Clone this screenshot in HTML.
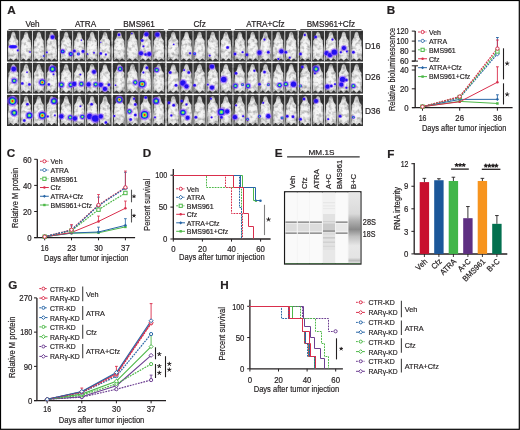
<!DOCTYPE html>
<html><head><meta charset="utf-8"><style>html,body{margin:0;padding:0;background:#fff;overflow:hidden;}svg{display:block;will-change:transform;}text{font-family:"Liberation Sans",sans-serif;fill:#231f20;stroke:#231f20;stroke-width:0.2px;}</style></head><body>
<svg width="520" height="430" viewBox="0 0 520 430">
<text x="7.30" y="14.40" font-size="11.7" font-weight="bold">A</text>
<defs><radialGradient id="mg" cx="0.5" cy="0.58" r="0.6" fx="0.5" fy="0.55"><stop offset="0" stop-color="#fbfbfb"/><stop offset="0.55" stop-color="#eeeeee"/><stop offset="0.82" stop-color="#d2d2d2"/><stop offset="1" stop-color="#9c9c9c"/></radialGradient></defs>
<text x="32.50" y="27.00" font-size="8.2" text-anchor="middle">Veh</text>
<line x1="8.50" y1="29.50" x2="56.50" y2="29.50" stroke="#555" stroke-width="1"/>
<rect x="7.00" y="30.80" width="51.00" height="30.70" fill="#3a3a3a"/>
<path d="M13.38,31.72 C13.76,31.72 14.19,31.93 14.52,32.34 C14.85,32.74 15.12,33.41 15.35,34.18 C15.59,34.94 15.65,36.12 15.93,36.94 C16.20,37.76 16.62,38.42 17.01,39.09 C17.40,39.75 18.09,40.16 18.28,40.93 C18.48,41.70 18.09,42.57 18.16,43.69 C18.22,44.82 18.56,46.25 18.67,47.69 C18.77,49.12 18.83,50.91 18.79,52.29 C18.76,53.67 18.44,54.90 18.48,55.97 C18.51,57.05 19.05,58.05 18.98,58.74 C18.92,59.43 18.54,60.17 18.09,60.12 C17.65,60.07 16.84,58.56 16.31,58.43 C15.78,58.30 15.33,59.02 14.90,59.35 C14.48,59.68 14.08,60.25 13.76,60.43 C13.44,60.60 13.31,60.60 12.99,60.43 C12.67,60.25 12.27,59.68 11.85,59.35 C11.42,59.02 10.97,58.30 10.44,58.43 C9.91,58.56 9.10,60.07 8.66,60.12 C8.21,60.17 7.83,59.43 7.76,58.74 C7.70,58.05 8.24,57.05 8.27,55.97 C8.31,54.90 7.99,53.67 7.96,52.29 C7.92,50.91 7.98,49.12 8.08,47.69 C8.19,46.25 8.53,44.82 8.59,43.69 C8.66,42.57 8.27,41.70 8.47,40.93 C8.66,40.16 9.35,39.75 9.74,39.09 C10.13,38.42 10.55,37.76 10.82,36.94 C11.10,36.12 11.16,34.94 11.40,34.18 C11.63,33.41 11.90,32.74 12.23,32.34 C12.56,31.93 12.99,31.72 13.38,31.72Z" fill="url(#mg)"/>
<path d="M26.12,31.72 C26.51,31.72 26.94,31.93 27.27,32.34 C27.60,32.74 27.87,33.41 28.10,34.18 C28.34,34.94 28.40,36.12 28.68,36.94 C28.95,37.76 29.37,38.42 29.76,39.09 C30.15,39.75 30.84,40.16 31.03,40.93 C31.23,41.70 30.84,42.57 30.91,43.69 C30.97,44.82 31.31,46.25 31.42,47.69 C31.52,49.12 31.58,50.91 31.54,52.29 C31.51,53.67 31.19,54.90 31.23,55.97 C31.26,57.05 31.80,58.05 31.73,58.74 C31.67,59.43 31.29,60.17 30.84,60.12 C30.40,60.07 29.59,58.56 29.06,58.43 C28.53,58.30 28.08,59.02 27.66,59.35 C27.23,59.68 26.83,60.25 26.51,60.43 C26.19,60.60 26.06,60.60 25.74,60.43 C25.42,60.25 25.02,59.68 24.59,59.35 C24.17,59.02 23.72,58.30 23.19,58.43 C22.66,58.56 21.85,60.07 21.41,60.12 C20.96,60.17 20.58,59.43 20.52,58.74 C20.45,58.05 20.99,57.05 21.02,55.97 C21.06,54.90 20.74,53.67 20.71,52.29 C20.67,50.91 20.73,49.12 20.83,47.69 C20.94,46.25 21.28,44.82 21.34,43.69 C21.41,42.57 21.02,41.70 21.22,40.93 C21.41,40.16 22.10,39.75 22.49,39.09 C22.88,38.42 23.30,37.76 23.57,36.94 C23.85,36.12 23.91,34.94 24.15,34.18 C24.38,33.41 24.65,32.74 24.98,32.34 C25.31,31.93 25.74,31.72 26.12,31.72Z" fill="url(#mg)"/>
<path d="M38.88,31.72 C39.26,31.72 39.69,31.93 40.02,32.34 C40.35,32.74 40.62,33.41 40.85,34.18 C41.09,34.94 41.15,36.12 41.42,36.94 C41.70,37.76 42.12,38.42 42.51,39.09 C42.90,39.75 43.59,40.16 43.78,40.93 C43.97,41.70 43.59,42.57 43.66,43.69 C43.72,44.82 44.06,46.25 44.17,47.69 C44.27,49.12 44.33,50.91 44.29,52.29 C44.26,53.67 43.94,54.90 43.98,55.97 C44.01,57.05 44.55,58.05 44.48,58.74 C44.42,59.43 44.04,60.17 43.59,60.12 C43.15,60.07 42.34,58.56 41.81,58.43 C41.28,58.30 40.83,59.02 40.41,59.35 C39.98,59.68 39.58,60.25 39.26,60.43 C38.94,60.60 38.81,60.60 38.49,60.43 C38.17,60.25 37.77,59.68 37.34,59.35 C36.92,59.02 36.47,58.30 35.94,58.43 C35.41,58.56 34.60,60.07 34.16,60.12 C33.71,60.17 33.33,59.43 33.27,58.74 C33.20,58.05 33.74,57.05 33.77,55.97 C33.81,54.90 33.49,53.67 33.46,52.29 C33.42,50.91 33.48,49.12 33.58,47.69 C33.69,46.25 34.03,44.82 34.09,43.69 C34.16,42.57 33.78,41.70 33.97,40.93 C34.16,40.16 34.85,39.75 35.24,39.09 C35.63,38.42 36.05,37.76 36.33,36.94 C36.60,36.12 36.66,34.94 36.90,34.18 C37.13,33.41 37.40,32.74 37.73,32.34 C38.06,31.93 38.49,31.72 38.88,31.72Z" fill="url(#mg)"/>
<path d="M51.62,31.72 C52.01,31.72 52.44,31.93 52.77,32.34 C53.10,32.74 53.37,33.41 53.60,34.18 C53.84,34.94 53.90,36.12 54.17,36.94 C54.45,37.76 54.87,38.42 55.26,39.09 C55.65,39.75 56.34,40.16 56.53,40.93 C56.72,41.70 56.34,42.57 56.41,43.69 C56.47,44.82 56.81,46.25 56.92,47.69 C57.02,49.12 57.08,50.91 57.04,52.29 C57.01,53.67 56.69,54.90 56.73,55.97 C56.76,57.05 57.30,58.05 57.23,58.74 C57.17,59.43 56.79,60.17 56.34,60.12 C55.90,60.07 55.09,58.56 54.56,58.43 C54.03,58.30 53.58,59.02 53.16,59.35 C52.73,59.68 52.33,60.25 52.01,60.43 C51.69,60.60 51.56,60.60 51.24,60.43 C50.92,60.25 50.52,59.68 50.09,59.35 C49.67,59.02 49.22,58.30 48.69,58.43 C48.16,58.56 47.35,60.07 46.91,60.12 C46.46,60.17 46.08,59.43 46.02,58.74 C45.95,58.05 46.49,57.05 46.52,55.97 C46.56,54.90 46.24,53.67 46.21,52.29 C46.17,50.91 46.23,49.12 46.33,47.69 C46.44,46.25 46.78,44.82 46.84,43.69 C46.91,42.57 46.53,41.70 46.72,40.93 C46.91,40.16 47.60,39.75 47.99,39.09 C48.38,38.42 48.80,37.76 49.08,36.94 C49.35,36.12 49.41,34.94 49.65,34.18 C49.88,33.41 50.15,32.74 50.48,32.34 C50.81,31.93 51.24,31.72 51.62,31.72Z" fill="url(#mg)"/>
<rect x="7.00" y="63.00" width="51.00" height="30.60" fill="#3a3a3a"/>
<path d="M13.38,63.92 C13.76,63.92 14.19,64.12 14.52,64.53 C14.85,64.94 15.12,65.60 15.35,66.37 C15.59,67.13 15.65,68.30 15.93,69.12 C16.20,69.94 16.62,70.60 17.01,71.26 C17.40,71.92 18.09,72.33 18.28,73.10 C18.48,73.86 18.09,74.73 18.16,75.85 C18.22,76.97 18.56,78.40 18.67,79.83 C18.77,81.26 18.83,83.04 18.79,84.42 C18.76,85.80 18.44,87.02 18.48,88.09 C18.51,89.16 19.05,90.16 18.98,90.85 C18.92,91.53 18.54,92.27 18.09,92.22 C17.65,92.17 16.84,90.67 16.31,90.54 C15.78,90.41 15.33,91.13 14.90,91.46 C14.48,91.79 14.08,92.35 13.76,92.53 C13.44,92.71 13.31,92.71 12.99,92.53 C12.67,92.35 12.27,91.79 11.85,91.46 C11.42,91.13 10.97,90.41 10.44,90.54 C9.91,90.67 9.10,92.17 8.66,92.22 C8.21,92.27 7.83,91.53 7.76,90.85 C7.70,90.16 8.24,89.16 8.27,88.09 C8.31,87.02 7.99,85.80 7.96,84.42 C7.92,83.04 7.98,81.26 8.08,79.83 C8.19,78.40 8.53,76.97 8.59,75.85 C8.66,74.73 8.27,73.86 8.47,73.10 C8.66,72.33 9.35,71.92 9.74,71.26 C10.13,70.60 10.55,69.94 10.82,69.12 C11.10,68.30 11.16,67.13 11.40,66.37 C11.63,65.60 11.90,64.94 12.23,64.53 C12.56,64.12 12.99,63.92 13.38,63.92Z" fill="url(#mg)"/>
<path d="M26.12,63.92 C26.51,63.92 26.94,64.12 27.27,64.53 C27.60,64.94 27.87,65.60 28.10,66.37 C28.34,67.13 28.40,68.30 28.68,69.12 C28.95,69.94 29.37,70.60 29.76,71.26 C30.15,71.92 30.84,72.33 31.03,73.10 C31.23,73.86 30.84,74.73 30.91,75.85 C30.97,76.97 31.31,78.40 31.42,79.83 C31.52,81.26 31.58,83.04 31.54,84.42 C31.51,85.80 31.19,87.02 31.23,88.09 C31.26,89.16 31.80,90.16 31.73,90.85 C31.67,91.53 31.29,92.27 30.84,92.22 C30.40,92.17 29.59,90.67 29.06,90.54 C28.53,90.41 28.08,91.13 27.66,91.46 C27.23,91.79 26.83,92.35 26.51,92.53 C26.19,92.71 26.06,92.71 25.74,92.53 C25.42,92.35 25.02,91.79 24.59,91.46 C24.17,91.13 23.72,90.41 23.19,90.54 C22.66,90.67 21.85,92.17 21.41,92.22 C20.96,92.27 20.58,91.53 20.52,90.85 C20.45,90.16 20.99,89.16 21.02,88.09 C21.06,87.02 20.74,85.80 20.71,84.42 C20.67,83.04 20.73,81.26 20.83,79.83 C20.94,78.40 21.28,76.97 21.34,75.85 C21.41,74.73 21.02,73.86 21.22,73.10 C21.41,72.33 22.10,71.92 22.49,71.26 C22.88,70.60 23.30,69.94 23.57,69.12 C23.85,68.30 23.91,67.13 24.15,66.37 C24.38,65.60 24.65,64.94 24.98,64.53 C25.31,64.12 25.74,63.92 26.12,63.92Z" fill="url(#mg)"/>
<path d="M38.88,63.92 C39.26,63.92 39.69,64.12 40.02,64.53 C40.35,64.94 40.62,65.60 40.85,66.37 C41.09,67.13 41.15,68.30 41.42,69.12 C41.70,69.94 42.12,70.60 42.51,71.26 C42.90,71.92 43.59,72.33 43.78,73.10 C43.97,73.86 43.59,74.73 43.66,75.85 C43.72,76.97 44.06,78.40 44.17,79.83 C44.27,81.26 44.33,83.04 44.29,84.42 C44.26,85.80 43.94,87.02 43.98,88.09 C44.01,89.16 44.55,90.16 44.48,90.85 C44.42,91.53 44.04,92.27 43.59,92.22 C43.15,92.17 42.34,90.67 41.81,90.54 C41.28,90.41 40.83,91.13 40.41,91.46 C39.98,91.79 39.58,92.35 39.26,92.53 C38.94,92.71 38.81,92.71 38.49,92.53 C38.17,92.35 37.77,91.79 37.34,91.46 C36.92,91.13 36.47,90.41 35.94,90.54 C35.41,90.67 34.60,92.17 34.16,92.22 C33.71,92.27 33.33,91.53 33.27,90.85 C33.20,90.16 33.74,89.16 33.77,88.09 C33.81,87.02 33.49,85.80 33.46,84.42 C33.42,83.04 33.48,81.26 33.58,79.83 C33.69,78.40 34.03,76.97 34.09,75.85 C34.16,74.73 33.78,73.86 33.97,73.10 C34.16,72.33 34.85,71.92 35.24,71.26 C35.63,70.60 36.05,69.94 36.33,69.12 C36.60,68.30 36.66,67.13 36.90,66.37 C37.13,65.60 37.40,64.94 37.73,64.53 C38.06,64.12 38.49,63.92 38.88,63.92Z" fill="url(#mg)"/>
<path d="M51.62,63.92 C52.01,63.92 52.44,64.12 52.77,64.53 C53.10,64.94 53.37,65.60 53.60,66.37 C53.84,67.13 53.90,68.30 54.17,69.12 C54.45,69.94 54.87,70.60 55.26,71.26 C55.65,71.92 56.34,72.33 56.53,73.10 C56.72,73.86 56.34,74.73 56.41,75.85 C56.47,76.97 56.81,78.40 56.92,79.83 C57.02,81.26 57.08,83.04 57.04,84.42 C57.01,85.80 56.69,87.02 56.73,88.09 C56.76,89.16 57.30,90.16 57.23,90.85 C57.17,91.53 56.79,92.27 56.34,92.22 C55.90,92.17 55.09,90.67 54.56,90.54 C54.03,90.41 53.58,91.13 53.16,91.46 C52.73,91.79 52.33,92.35 52.01,92.53 C51.69,92.71 51.56,92.71 51.24,92.53 C50.92,92.35 50.52,91.79 50.09,91.46 C49.67,91.13 49.22,90.41 48.69,90.54 C48.16,90.67 47.35,92.17 46.91,92.22 C46.46,92.27 46.08,91.53 46.02,90.85 C45.95,90.16 46.49,89.16 46.52,88.09 C46.56,87.02 46.24,85.80 46.21,84.42 C46.17,83.04 46.23,81.26 46.33,79.83 C46.44,78.40 46.78,76.97 46.84,75.85 C46.91,74.73 46.53,73.86 46.72,73.10 C46.91,72.33 47.60,71.92 47.99,71.26 C48.38,70.60 48.80,69.94 49.08,69.12 C49.35,68.30 49.41,67.13 49.65,66.37 C49.88,65.60 50.15,64.94 50.48,64.53 C50.81,64.12 51.24,63.92 51.62,63.92Z" fill="url(#mg)"/>
<rect x="7.00" y="95.00" width="51.00" height="31.00" fill="#3a3a3a"/>
<path d="M13.38,95.93 C13.76,95.93 14.19,96.14 14.52,96.55 C14.85,96.96 15.12,97.63 15.35,98.41 C15.59,99.19 15.65,100.37 15.93,101.20 C16.20,102.03 16.62,102.70 17.01,103.37 C17.40,104.04 18.09,104.46 18.28,105.23 C18.48,106.00 18.09,106.88 18.16,108.02 C18.22,109.16 18.56,110.60 18.67,112.05 C18.77,113.50 18.83,115.31 18.79,116.70 C18.76,118.09 18.44,119.34 18.48,120.42 C18.51,121.50 19.05,122.51 18.98,123.21 C18.92,123.91 18.54,124.66 18.09,124.61 C17.65,124.55 16.84,123.03 16.31,122.90 C15.78,122.77 15.33,123.49 14.90,123.83 C14.48,124.17 14.08,124.73 13.76,124.91 C13.44,125.10 13.31,125.10 12.99,124.91 C12.67,124.73 12.27,124.17 11.85,123.83 C11.42,123.49 10.97,122.77 10.44,122.90 C9.91,123.03 9.10,124.55 8.66,124.61 C8.21,124.66 7.83,123.91 7.76,123.21 C7.70,122.51 8.24,121.50 8.27,120.42 C8.31,119.34 7.99,118.09 7.96,116.70 C7.92,115.31 7.98,113.50 8.08,112.05 C8.19,110.60 8.53,109.16 8.59,108.02 C8.66,106.88 8.27,106.00 8.47,105.23 C8.66,104.46 9.35,104.04 9.74,103.37 C10.13,102.70 10.55,102.03 10.82,101.20 C11.10,100.37 11.16,99.19 11.40,98.41 C11.63,97.63 11.90,96.96 12.23,96.55 C12.56,96.14 12.99,95.93 13.38,95.93Z" fill="url(#mg)"/>
<path d="M26.12,95.93 C26.51,95.93 26.94,96.14 27.27,96.55 C27.60,96.96 27.87,97.63 28.10,98.41 C28.34,99.19 28.40,100.37 28.68,101.20 C28.95,102.03 29.37,102.70 29.76,103.37 C30.15,104.04 30.84,104.46 31.03,105.23 C31.23,106.00 30.84,106.88 30.91,108.02 C30.97,109.16 31.31,110.60 31.42,112.05 C31.52,113.50 31.58,115.31 31.54,116.70 C31.51,118.09 31.19,119.34 31.23,120.42 C31.26,121.50 31.80,122.51 31.73,123.21 C31.67,123.91 31.29,124.66 30.84,124.61 C30.40,124.55 29.59,123.03 29.06,122.90 C28.53,122.77 28.08,123.49 27.66,123.83 C27.23,124.17 26.83,124.73 26.51,124.91 C26.19,125.10 26.06,125.10 25.74,124.91 C25.42,124.73 25.02,124.17 24.59,123.83 C24.17,123.49 23.72,122.77 23.19,122.90 C22.66,123.03 21.85,124.55 21.41,124.61 C20.96,124.66 20.58,123.91 20.52,123.21 C20.45,122.51 20.99,121.50 21.02,120.42 C21.06,119.34 20.74,118.09 20.71,116.70 C20.67,115.31 20.73,113.50 20.83,112.05 C20.94,110.60 21.28,109.16 21.34,108.02 C21.41,106.88 21.02,106.00 21.22,105.23 C21.41,104.46 22.10,104.04 22.49,103.37 C22.88,102.70 23.30,102.03 23.57,101.20 C23.85,100.37 23.91,99.19 24.15,98.41 C24.38,97.63 24.65,96.96 24.98,96.55 C25.31,96.14 25.74,95.93 26.12,95.93Z" fill="url(#mg)"/>
<path d="M38.88,95.93 C39.26,95.93 39.69,96.14 40.02,96.55 C40.35,96.96 40.62,97.63 40.85,98.41 C41.09,99.19 41.15,100.37 41.42,101.20 C41.70,102.03 42.12,102.70 42.51,103.37 C42.90,104.04 43.59,104.46 43.78,105.23 C43.97,106.00 43.59,106.88 43.66,108.02 C43.72,109.16 44.06,110.60 44.17,112.05 C44.27,113.50 44.33,115.31 44.29,116.70 C44.26,118.09 43.94,119.34 43.98,120.42 C44.01,121.50 44.55,122.51 44.48,123.21 C44.42,123.91 44.04,124.66 43.59,124.61 C43.15,124.55 42.34,123.03 41.81,122.90 C41.28,122.77 40.83,123.49 40.41,123.83 C39.98,124.17 39.58,124.73 39.26,124.91 C38.94,125.10 38.81,125.10 38.49,124.91 C38.17,124.73 37.77,124.17 37.34,123.83 C36.92,123.49 36.47,122.77 35.94,122.90 C35.41,123.03 34.60,124.55 34.16,124.61 C33.71,124.66 33.33,123.91 33.27,123.21 C33.20,122.51 33.74,121.50 33.77,120.42 C33.81,119.34 33.49,118.09 33.46,116.70 C33.42,115.31 33.48,113.50 33.58,112.05 C33.69,110.60 34.03,109.16 34.09,108.02 C34.16,106.88 33.78,106.00 33.97,105.23 C34.16,104.46 34.85,104.04 35.24,103.37 C35.63,102.70 36.05,102.03 36.33,101.20 C36.60,100.37 36.66,99.19 36.90,98.41 C37.13,97.63 37.40,96.96 37.73,96.55 C38.06,96.14 38.49,95.93 38.88,95.93Z" fill="url(#mg)"/>
<path d="M51.62,95.93 C52.01,95.93 52.44,96.14 52.77,96.55 C53.10,96.96 53.37,97.63 53.60,98.41 C53.84,99.19 53.90,100.37 54.17,101.20 C54.45,102.03 54.87,102.70 55.26,103.37 C55.65,104.04 56.34,104.46 56.53,105.23 C56.72,106.00 56.34,106.88 56.41,108.02 C56.47,109.16 56.81,110.60 56.92,112.05 C57.02,113.50 57.08,115.31 57.04,116.70 C57.01,118.09 56.69,119.34 56.73,120.42 C56.76,121.50 57.30,122.51 57.23,123.21 C57.17,123.91 56.79,124.66 56.34,124.61 C55.90,124.55 55.09,123.03 54.56,122.90 C54.03,122.77 53.58,123.49 53.16,123.83 C52.73,124.17 52.33,124.73 52.01,124.91 C51.69,125.10 51.56,125.10 51.24,124.91 C50.92,124.73 50.52,124.17 50.09,123.83 C49.67,123.49 49.22,122.77 48.69,122.90 C48.16,123.03 47.35,124.55 46.91,124.61 C46.46,124.66 46.08,123.91 46.02,123.21 C45.95,122.51 46.49,121.50 46.52,120.42 C46.56,119.34 46.24,118.09 46.21,116.70 C46.17,115.31 46.23,113.50 46.33,112.05 C46.44,110.60 46.78,109.16 46.84,108.02 C46.91,106.88 46.53,106.00 46.72,105.23 C46.91,104.46 47.60,104.04 47.99,103.37 C48.38,102.70 48.80,102.03 49.08,101.20 C49.35,100.37 49.41,99.19 49.65,98.41 C49.88,97.63 50.15,96.96 50.48,96.55 C50.81,96.14 51.24,95.93 51.62,95.93Z" fill="url(#mg)"/>
<text x="85.60" y="27.00" font-size="8.2" text-anchor="middle">ATRA</text>
<line x1="61.20" y1="29.50" x2="110.00" y2="29.50" stroke="#555" stroke-width="1"/>
<rect x="59.70" y="30.80" width="51.80" height="30.70" fill="#3a3a3a"/>
<path d="M66.17,31.72 C66.56,31.72 67.01,31.93 67.34,32.34 C67.68,32.74 67.94,33.41 68.18,34.18 C68.42,34.94 68.48,36.12 68.77,36.94 C69.05,37.76 69.47,38.42 69.87,39.09 C70.27,39.75 70.97,40.16 71.16,40.93 C71.35,41.70 70.97,42.57 71.03,43.69 C71.10,44.82 71.44,46.25 71.55,47.69 C71.66,49.12 71.71,50.91 71.68,52.29 C71.65,53.67 71.32,54.90 71.35,55.97 C71.39,57.05 71.94,58.05 71.87,58.74 C71.81,59.43 71.42,60.17 70.97,60.12 C70.51,60.07 69.69,58.56 69.15,58.43 C68.61,58.30 68.16,59.02 67.73,59.35 C67.30,59.68 66.89,60.25 66.56,60.43 C66.24,60.60 66.11,60.60 65.79,60.43 C65.46,60.25 65.05,59.68 64.62,59.35 C64.19,59.02 63.74,58.30 63.20,58.43 C62.66,58.56 61.84,60.07 61.38,60.12 C60.93,60.17 60.54,59.43 60.48,58.74 C60.41,58.05 60.96,57.05 60.99,55.97 C61.03,54.90 60.70,53.67 60.67,52.29 C60.64,50.91 60.69,49.12 60.80,47.69 C60.91,46.25 61.25,44.82 61.32,43.69 C61.38,42.57 61.00,41.70 61.19,40.93 C61.38,40.16 62.08,39.75 62.48,39.09 C62.88,38.42 63.30,37.76 63.58,36.94 C63.87,36.12 63.93,34.94 64.17,34.18 C64.41,33.41 64.67,32.74 65.01,32.34 C65.34,31.93 65.79,31.72 66.17,31.72Z" fill="url(#mg)"/>
<path d="M79.12,31.72 C79.51,31.72 79.96,31.93 80.29,32.34 C80.63,32.74 80.89,33.41 81.13,34.18 C81.37,34.94 81.43,36.12 81.72,36.94 C82.00,37.76 82.42,38.42 82.82,39.09 C83.22,39.75 83.92,40.16 84.11,40.93 C84.30,41.70 83.92,42.57 83.98,43.69 C84.05,44.82 84.39,46.25 84.50,47.69 C84.61,49.12 84.66,50.91 84.63,52.29 C84.60,53.67 84.27,54.90 84.31,55.97 C84.34,57.05 84.89,58.05 84.82,58.74 C84.76,59.43 84.37,60.17 83.92,60.12 C83.46,60.07 82.64,58.56 82.10,58.43 C81.56,58.30 81.11,59.02 80.68,59.35 C80.25,59.68 79.84,60.25 79.51,60.43 C79.19,60.60 79.06,60.60 78.74,60.43 C78.41,60.25 78.00,59.68 77.57,59.35 C77.14,59.02 76.69,58.30 76.15,58.43 C75.61,58.56 74.79,60.07 74.33,60.12 C73.88,60.17 73.49,59.43 73.43,58.74 C73.36,58.05 73.91,57.05 73.94,55.97 C73.98,54.90 73.65,53.67 73.62,52.29 C73.59,50.91 73.64,49.12 73.75,47.69 C73.86,46.25 74.20,44.82 74.27,43.69 C74.33,42.57 73.95,41.70 74.14,40.93 C74.33,40.16 75.03,39.75 75.43,39.09 C75.83,38.42 76.25,37.76 76.53,36.94 C76.82,36.12 76.88,34.94 77.12,34.18 C77.36,33.41 77.62,32.74 77.96,32.34 C78.29,31.93 78.74,31.72 79.12,31.72Z" fill="url(#mg)"/>
<path d="M92.07,31.72 C92.46,31.72 92.91,31.93 93.24,32.34 C93.58,32.74 93.84,33.41 94.08,34.18 C94.32,34.94 94.38,36.12 94.66,36.94 C94.95,37.76 95.37,38.42 95.77,39.09 C96.17,39.75 96.87,40.16 97.06,40.93 C97.25,41.70 96.87,42.57 96.93,43.69 C97.00,44.82 97.34,46.25 97.45,47.69 C97.56,49.12 97.61,50.91 97.58,52.29 C97.55,53.67 97.22,54.90 97.25,55.97 C97.29,57.05 97.84,58.05 97.77,58.74 C97.71,59.43 97.32,60.17 96.87,60.12 C96.41,60.07 95.59,58.56 95.05,58.43 C94.51,58.30 94.06,59.02 93.63,59.35 C93.20,59.68 92.79,60.25 92.46,60.43 C92.14,60.60 92.01,60.60 91.69,60.43 C91.36,60.25 90.95,59.68 90.52,59.35 C90.09,59.02 89.64,58.30 89.10,58.43 C88.56,58.56 87.74,60.07 87.28,60.12 C86.83,60.17 86.44,59.43 86.38,58.74 C86.31,58.05 86.86,57.05 86.89,55.97 C86.93,54.90 86.60,53.67 86.57,52.29 C86.54,50.91 86.59,49.12 86.70,47.69 C86.81,46.25 87.15,44.82 87.22,43.69 C87.28,42.57 86.89,41.70 87.09,40.93 C87.28,40.16 87.98,39.75 88.38,39.09 C88.78,38.42 89.20,37.76 89.48,36.94 C89.77,36.12 89.83,34.94 90.07,34.18 C90.31,33.41 90.57,32.74 90.91,32.34 C91.24,31.93 91.69,31.72 92.07,31.72Z" fill="url(#mg)"/>
<path d="M105.02,31.72 C105.41,31.72 105.86,31.93 106.19,32.34 C106.53,32.74 106.79,33.41 107.03,34.18 C107.27,34.94 107.33,36.12 107.61,36.94 C107.90,37.76 108.32,38.42 108.72,39.09 C109.12,39.75 109.82,40.16 110.01,40.93 C110.20,41.70 109.82,42.57 109.88,43.69 C109.95,44.82 110.29,46.25 110.40,47.69 C110.51,49.12 110.56,50.91 110.53,52.29 C110.50,53.67 110.17,54.90 110.20,55.97 C110.24,57.05 110.79,58.05 110.72,58.74 C110.66,59.43 110.27,60.17 109.82,60.12 C109.36,60.07 108.54,58.56 108.00,58.43 C107.46,58.30 107.01,59.02 106.58,59.35 C106.15,59.68 105.74,60.25 105.41,60.43 C105.09,60.60 104.96,60.60 104.64,60.43 C104.31,60.25 103.90,59.68 103.47,59.35 C103.04,59.02 102.59,58.30 102.05,58.43 C101.51,58.56 100.69,60.07 100.23,60.12 C99.78,60.17 99.39,59.43 99.33,58.74 C99.26,58.05 99.81,57.05 99.84,55.97 C99.88,54.90 99.55,53.67 99.52,52.29 C99.49,50.91 99.54,49.12 99.65,47.69 C99.76,46.25 100.10,44.82 100.17,43.69 C100.23,42.57 99.84,41.70 100.04,40.93 C100.23,40.16 100.93,39.75 101.33,39.09 C101.73,38.42 102.15,37.76 102.43,36.94 C102.72,36.12 102.78,34.94 103.02,34.18 C103.26,33.41 103.52,32.74 103.86,32.34 C104.19,31.93 104.64,31.72 105.02,31.72Z" fill="url(#mg)"/>
<rect x="59.70" y="63.00" width="51.80" height="30.60" fill="#3a3a3a"/>
<path d="M66.17,63.92 C66.56,63.92 67.01,64.12 67.34,64.53 C67.68,64.94 67.94,65.60 68.18,66.37 C68.42,67.13 68.48,68.30 68.77,69.12 C69.05,69.94 69.47,70.60 69.87,71.26 C70.27,71.92 70.97,72.33 71.16,73.10 C71.35,73.86 70.97,74.73 71.03,75.85 C71.10,76.97 71.44,78.40 71.55,79.83 C71.66,81.26 71.71,83.04 71.68,84.42 C71.65,85.80 71.32,87.02 71.35,88.09 C71.39,89.16 71.94,90.16 71.87,90.85 C71.81,91.53 71.42,92.27 70.97,92.22 C70.51,92.17 69.69,90.67 69.15,90.54 C68.61,90.41 68.16,91.13 67.73,91.46 C67.30,91.79 66.89,92.35 66.56,92.53 C66.24,92.71 66.11,92.71 65.79,92.53 C65.46,92.35 65.05,91.79 64.62,91.46 C64.19,91.13 63.74,90.41 63.20,90.54 C62.66,90.67 61.84,92.17 61.38,92.22 C60.93,92.27 60.54,91.53 60.48,90.85 C60.41,90.16 60.96,89.16 60.99,88.09 C61.03,87.02 60.70,85.80 60.67,84.42 C60.64,83.04 60.69,81.26 60.80,79.83 C60.91,78.40 61.25,76.97 61.32,75.85 C61.38,74.73 61.00,73.86 61.19,73.10 C61.38,72.33 62.08,71.92 62.48,71.26 C62.88,70.60 63.30,69.94 63.58,69.12 C63.87,68.30 63.93,67.13 64.17,66.37 C64.41,65.60 64.67,64.94 65.01,64.53 C65.34,64.12 65.79,63.92 66.17,63.92Z" fill="url(#mg)"/>
<path d="M79.12,63.92 C79.51,63.92 79.96,64.12 80.29,64.53 C80.63,64.94 80.89,65.60 81.13,66.37 C81.37,67.13 81.43,68.30 81.72,69.12 C82.00,69.94 82.42,70.60 82.82,71.26 C83.22,71.92 83.92,72.33 84.11,73.10 C84.30,73.86 83.92,74.73 83.98,75.85 C84.05,76.97 84.39,78.40 84.50,79.83 C84.61,81.26 84.66,83.04 84.63,84.42 C84.60,85.80 84.27,87.02 84.31,88.09 C84.34,89.16 84.89,90.16 84.82,90.85 C84.76,91.53 84.37,92.27 83.92,92.22 C83.46,92.17 82.64,90.67 82.10,90.54 C81.56,90.41 81.11,91.13 80.68,91.46 C80.25,91.79 79.84,92.35 79.51,92.53 C79.19,92.71 79.06,92.71 78.74,92.53 C78.41,92.35 78.00,91.79 77.57,91.46 C77.14,91.13 76.69,90.41 76.15,90.54 C75.61,90.67 74.79,92.17 74.33,92.22 C73.88,92.27 73.49,91.53 73.43,90.85 C73.36,90.16 73.91,89.16 73.94,88.09 C73.98,87.02 73.65,85.80 73.62,84.42 C73.59,83.04 73.64,81.26 73.75,79.83 C73.86,78.40 74.20,76.97 74.27,75.85 C74.33,74.73 73.95,73.86 74.14,73.10 C74.33,72.33 75.03,71.92 75.43,71.26 C75.83,70.60 76.25,69.94 76.53,69.12 C76.82,68.30 76.88,67.13 77.12,66.37 C77.36,65.60 77.62,64.94 77.96,64.53 C78.29,64.12 78.74,63.92 79.12,63.92Z" fill="url(#mg)"/>
<path d="M92.07,63.92 C92.46,63.92 92.91,64.12 93.24,64.53 C93.58,64.94 93.84,65.60 94.08,66.37 C94.32,67.13 94.38,68.30 94.66,69.12 C94.95,69.94 95.37,70.60 95.77,71.26 C96.17,71.92 96.87,72.33 97.06,73.10 C97.25,73.86 96.87,74.73 96.93,75.85 C97.00,76.97 97.34,78.40 97.45,79.83 C97.56,81.26 97.61,83.04 97.58,84.42 C97.55,85.80 97.22,87.02 97.25,88.09 C97.29,89.16 97.84,90.16 97.77,90.85 C97.71,91.53 97.32,92.27 96.87,92.22 C96.41,92.17 95.59,90.67 95.05,90.54 C94.51,90.41 94.06,91.13 93.63,91.46 C93.20,91.79 92.79,92.35 92.46,92.53 C92.14,92.71 92.01,92.71 91.69,92.53 C91.36,92.35 90.95,91.79 90.52,91.46 C90.09,91.13 89.64,90.41 89.10,90.54 C88.56,90.67 87.74,92.17 87.28,92.22 C86.83,92.27 86.44,91.53 86.38,90.85 C86.31,90.16 86.86,89.16 86.89,88.09 C86.93,87.02 86.60,85.80 86.57,84.42 C86.54,83.04 86.59,81.26 86.70,79.83 C86.81,78.40 87.15,76.97 87.22,75.85 C87.28,74.73 86.89,73.86 87.09,73.10 C87.28,72.33 87.98,71.92 88.38,71.26 C88.78,70.60 89.20,69.94 89.48,69.12 C89.77,68.30 89.83,67.13 90.07,66.37 C90.31,65.60 90.57,64.94 90.91,64.53 C91.24,64.12 91.69,63.92 92.07,63.92Z" fill="url(#mg)"/>
<path d="M105.02,63.92 C105.41,63.92 105.86,64.12 106.19,64.53 C106.53,64.94 106.79,65.60 107.03,66.37 C107.27,67.13 107.33,68.30 107.61,69.12 C107.90,69.94 108.32,70.60 108.72,71.26 C109.12,71.92 109.82,72.33 110.01,73.10 C110.20,73.86 109.82,74.73 109.88,75.85 C109.95,76.97 110.29,78.40 110.40,79.83 C110.51,81.26 110.56,83.04 110.53,84.42 C110.50,85.80 110.17,87.02 110.20,88.09 C110.24,89.16 110.79,90.16 110.72,90.85 C110.66,91.53 110.27,92.27 109.82,92.22 C109.36,92.17 108.54,90.67 108.00,90.54 C107.46,90.41 107.01,91.13 106.58,91.46 C106.15,91.79 105.74,92.35 105.41,92.53 C105.09,92.71 104.96,92.71 104.64,92.53 C104.31,92.35 103.90,91.79 103.47,91.46 C103.04,91.13 102.59,90.41 102.05,90.54 C101.51,90.67 100.69,92.17 100.23,92.22 C99.78,92.27 99.39,91.53 99.33,90.85 C99.26,90.16 99.81,89.16 99.84,88.09 C99.88,87.02 99.55,85.80 99.52,84.42 C99.49,83.04 99.54,81.26 99.65,79.83 C99.76,78.40 100.10,76.97 100.17,75.85 C100.23,74.73 99.84,73.86 100.04,73.10 C100.23,72.33 100.93,71.92 101.33,71.26 C101.73,70.60 102.15,69.94 102.43,69.12 C102.72,68.30 102.78,67.13 103.02,66.37 C103.26,65.60 103.52,64.94 103.86,64.53 C104.19,64.12 104.64,63.92 105.02,63.92Z" fill="url(#mg)"/>
<rect x="59.70" y="95.00" width="51.80" height="31.00" fill="#3a3a3a"/>
<path d="M66.17,95.93 C66.56,95.93 67.01,96.14 67.34,96.55 C67.68,96.96 67.94,97.63 68.18,98.41 C68.42,99.19 68.48,100.37 68.77,101.20 C69.05,102.03 69.47,102.70 69.87,103.37 C70.27,104.04 70.97,104.46 71.16,105.23 C71.35,106.00 70.97,106.88 71.03,108.02 C71.10,109.16 71.44,110.60 71.55,112.05 C71.66,113.50 71.71,115.31 71.68,116.70 C71.65,118.09 71.32,119.34 71.35,120.42 C71.39,121.50 71.94,122.51 71.87,123.21 C71.81,123.91 71.42,124.66 70.97,124.61 C70.51,124.55 69.69,123.03 69.15,122.90 C68.61,122.77 68.16,123.49 67.73,123.83 C67.30,124.17 66.89,124.73 66.56,124.91 C66.24,125.10 66.11,125.10 65.79,124.91 C65.46,124.73 65.05,124.17 64.62,123.83 C64.19,123.49 63.74,122.77 63.20,122.90 C62.66,123.03 61.84,124.55 61.38,124.61 C60.93,124.66 60.54,123.91 60.48,123.21 C60.41,122.51 60.96,121.50 60.99,120.42 C61.03,119.34 60.70,118.09 60.67,116.70 C60.64,115.31 60.69,113.50 60.80,112.05 C60.91,110.60 61.25,109.16 61.32,108.02 C61.38,106.88 61.00,106.00 61.19,105.23 C61.38,104.46 62.08,104.04 62.48,103.37 C62.88,102.70 63.30,102.03 63.58,101.20 C63.87,100.37 63.93,99.19 64.17,98.41 C64.41,97.63 64.67,96.96 65.01,96.55 C65.34,96.14 65.79,95.93 66.17,95.93Z" fill="url(#mg)"/>
<path d="M79.12,95.93 C79.51,95.93 79.96,96.14 80.29,96.55 C80.63,96.96 80.89,97.63 81.13,98.41 C81.37,99.19 81.43,100.37 81.72,101.20 C82.00,102.03 82.42,102.70 82.82,103.37 C83.22,104.04 83.92,104.46 84.11,105.23 C84.30,106.00 83.92,106.88 83.98,108.02 C84.05,109.16 84.39,110.60 84.50,112.05 C84.61,113.50 84.66,115.31 84.63,116.70 C84.60,118.09 84.27,119.34 84.31,120.42 C84.34,121.50 84.89,122.51 84.82,123.21 C84.76,123.91 84.37,124.66 83.92,124.61 C83.46,124.55 82.64,123.03 82.10,122.90 C81.56,122.77 81.11,123.49 80.68,123.83 C80.25,124.17 79.84,124.73 79.51,124.91 C79.19,125.10 79.06,125.10 78.74,124.91 C78.41,124.73 78.00,124.17 77.57,123.83 C77.14,123.49 76.69,122.77 76.15,122.90 C75.61,123.03 74.79,124.55 74.33,124.61 C73.88,124.66 73.49,123.91 73.43,123.21 C73.36,122.51 73.91,121.50 73.94,120.42 C73.98,119.34 73.65,118.09 73.62,116.70 C73.59,115.31 73.64,113.50 73.75,112.05 C73.86,110.60 74.20,109.16 74.27,108.02 C74.33,106.88 73.95,106.00 74.14,105.23 C74.33,104.46 75.03,104.04 75.43,103.37 C75.83,102.70 76.25,102.03 76.53,101.20 C76.82,100.37 76.88,99.19 77.12,98.41 C77.36,97.63 77.62,96.96 77.96,96.55 C78.29,96.14 78.74,95.93 79.12,95.93Z" fill="url(#mg)"/>
<path d="M92.07,95.93 C92.46,95.93 92.91,96.14 93.24,96.55 C93.58,96.96 93.84,97.63 94.08,98.41 C94.32,99.19 94.38,100.37 94.66,101.20 C94.95,102.03 95.37,102.70 95.77,103.37 C96.17,104.04 96.87,104.46 97.06,105.23 C97.25,106.00 96.87,106.88 96.93,108.02 C97.00,109.16 97.34,110.60 97.45,112.05 C97.56,113.50 97.61,115.31 97.58,116.70 C97.55,118.09 97.22,119.34 97.25,120.42 C97.29,121.50 97.84,122.51 97.77,123.21 C97.71,123.91 97.32,124.66 96.87,124.61 C96.41,124.55 95.59,123.03 95.05,122.90 C94.51,122.77 94.06,123.49 93.63,123.83 C93.20,124.17 92.79,124.73 92.46,124.91 C92.14,125.10 92.01,125.10 91.69,124.91 C91.36,124.73 90.95,124.17 90.52,123.83 C90.09,123.49 89.64,122.77 89.10,122.90 C88.56,123.03 87.74,124.55 87.28,124.61 C86.83,124.66 86.44,123.91 86.38,123.21 C86.31,122.51 86.86,121.50 86.89,120.42 C86.93,119.34 86.60,118.09 86.57,116.70 C86.54,115.31 86.59,113.50 86.70,112.05 C86.81,110.60 87.15,109.16 87.22,108.02 C87.28,106.88 86.89,106.00 87.09,105.23 C87.28,104.46 87.98,104.04 88.38,103.37 C88.78,102.70 89.20,102.03 89.48,101.20 C89.77,100.37 89.83,99.19 90.07,98.41 C90.31,97.63 90.57,96.96 90.91,96.55 C91.24,96.14 91.69,95.93 92.07,95.93Z" fill="url(#mg)"/>
<path d="M105.02,95.93 C105.41,95.93 105.86,96.14 106.19,96.55 C106.53,96.96 106.79,97.63 107.03,98.41 C107.27,99.19 107.33,100.37 107.61,101.20 C107.90,102.03 108.32,102.70 108.72,103.37 C109.12,104.04 109.82,104.46 110.01,105.23 C110.20,106.00 109.82,106.88 109.88,108.02 C109.95,109.16 110.29,110.60 110.40,112.05 C110.51,113.50 110.56,115.31 110.53,116.70 C110.50,118.09 110.17,119.34 110.20,120.42 C110.24,121.50 110.79,122.51 110.72,123.21 C110.66,123.91 110.27,124.66 109.82,124.61 C109.36,124.55 108.54,123.03 108.00,122.90 C107.46,122.77 107.01,123.49 106.58,123.83 C106.15,124.17 105.74,124.73 105.41,124.91 C105.09,125.10 104.96,125.10 104.64,124.91 C104.31,124.73 103.90,124.17 103.47,123.83 C103.04,123.49 102.59,122.77 102.05,122.90 C101.51,123.03 100.69,124.55 100.23,124.61 C99.78,124.66 99.39,123.91 99.33,123.21 C99.26,122.51 99.81,121.50 99.84,120.42 C99.88,119.34 99.55,118.09 99.52,116.70 C99.49,115.31 99.54,113.50 99.65,112.05 C99.76,110.60 100.10,109.16 100.17,108.02 C100.23,106.88 99.84,106.00 100.04,105.23 C100.23,104.46 100.93,104.04 101.33,103.37 C101.73,102.70 102.15,102.03 102.43,101.20 C102.72,100.37 102.78,99.19 103.02,98.41 C103.26,97.63 103.52,96.96 103.86,96.55 C104.19,96.14 104.64,95.93 105.02,95.93Z" fill="url(#mg)"/>
<text x="139.05" y="27.00" font-size="8.2" text-anchor="middle">BMS961</text>
<line x1="114.30" y1="29.50" x2="163.80" y2="29.50" stroke="#555" stroke-width="1"/>
<rect x="112.80" y="30.80" width="52.50" height="30.70" fill="#3a3a3a"/>
<path d="M119.36,31.72 C119.76,31.72 120.20,31.93 120.54,32.34 C120.88,32.74 121.16,33.41 121.40,34.18 C121.64,34.94 121.70,36.12 121.99,36.94 C122.27,37.76 122.70,38.42 123.10,39.09 C123.51,39.75 124.22,40.16 124.42,40.93 C124.61,41.70 124.22,42.57 124.28,43.69 C124.35,44.82 124.70,46.25 124.81,47.69 C124.92,49.12 124.97,50.91 124.94,52.29 C124.91,53.67 124.58,54.90 124.61,55.97 C124.65,57.05 125.20,58.05 125.14,58.74 C125.07,59.43 124.68,60.17 124.22,60.12 C123.76,60.07 122.93,58.56 122.38,58.43 C121.83,58.30 121.38,59.02 120.94,59.35 C120.50,59.68 120.08,60.25 119.76,60.43 C119.43,60.60 119.30,60.60 118.97,60.43 C118.64,60.25 118.22,59.68 117.79,59.35 C117.35,59.02 116.89,58.30 116.34,58.43 C115.80,58.56 114.97,60.07 114.51,60.12 C114.05,60.17 113.65,59.43 113.59,58.74 C113.52,58.05 114.08,57.05 114.11,55.97 C114.15,54.90 113.82,53.67 113.78,52.29 C113.75,50.91 113.81,49.12 113.92,47.69 C114.02,46.25 114.38,44.82 114.44,43.69 C114.51,42.57 114.11,41.70 114.31,40.93 C114.51,40.16 115.22,39.75 115.62,39.09 C116.03,38.42 116.45,37.76 116.74,36.94 C117.02,36.12 117.09,34.94 117.33,34.18 C117.57,33.41 117.84,32.74 118.18,32.34 C118.52,31.93 118.97,31.72 119.36,31.72Z" fill="url(#mg)"/>
<path d="M132.49,31.72 C132.88,31.72 133.33,31.93 133.67,32.34 C134.01,32.74 134.28,33.41 134.52,34.18 C134.76,34.94 134.83,36.12 135.11,36.94 C135.40,37.76 135.82,38.42 136.23,39.09 C136.63,39.75 137.34,40.16 137.54,40.93 C137.74,41.70 137.34,42.57 137.41,43.69 C137.48,44.82 137.83,46.25 137.93,47.69 C138.04,49.12 138.10,50.91 138.07,52.29 C138.03,53.67 137.70,54.90 137.74,55.97 C137.77,57.05 138.33,58.05 138.26,58.74 C138.20,59.43 137.80,60.17 137.34,60.12 C136.88,60.07 136.05,58.56 135.51,58.43 C134.96,58.30 134.50,59.02 134.06,59.35 C133.62,59.68 133.21,60.25 132.88,60.43 C132.55,60.60 132.42,60.60 132.09,60.43 C131.77,60.25 131.35,59.68 130.91,59.35 C130.48,59.02 130.02,58.30 129.47,58.43 C128.92,58.56 128.09,60.07 127.63,60.12 C127.17,60.17 126.78,59.43 126.71,58.74 C126.65,58.05 127.20,57.05 127.24,55.97 C127.27,54.90 126.94,53.67 126.91,52.29 C126.88,50.91 126.93,49.12 127.04,47.69 C127.15,46.25 127.50,44.82 127.57,43.69 C127.63,42.57 127.24,41.70 127.43,40.93 C127.63,40.16 128.34,39.75 128.75,39.09 C129.15,38.42 129.58,37.76 129.86,36.94 C130.15,36.12 130.21,34.94 130.45,34.18 C130.69,33.41 130.97,32.74 131.31,32.34 C131.65,31.93 132.09,31.72 132.49,31.72Z" fill="url(#mg)"/>
<path d="M145.61,31.72 C146.01,31.72 146.45,31.93 146.79,32.34 C147.13,32.74 147.41,33.41 147.65,34.18 C147.89,34.94 147.95,36.12 148.24,36.94 C148.52,37.76 148.95,38.42 149.35,39.09 C149.76,39.75 150.47,40.16 150.67,40.93 C150.86,41.70 150.47,42.57 150.53,43.69 C150.60,44.82 150.95,46.25 151.06,47.69 C151.17,49.12 151.22,50.91 151.19,52.29 C151.16,53.67 150.83,54.90 150.86,55.97 C150.90,57.05 151.45,58.05 151.39,58.74 C151.32,59.43 150.93,60.17 150.47,60.12 C150.01,60.07 149.18,58.56 148.63,58.43 C148.08,58.30 147.62,59.02 147.19,59.35 C146.75,59.68 146.33,60.25 146.01,60.43 C145.68,60.60 145.55,60.60 145.22,60.43 C144.89,60.25 144.48,59.68 144.04,59.35 C143.60,59.02 143.14,58.30 142.59,58.43 C142.05,58.56 141.22,60.07 140.76,60.12 C140.30,60.17 139.90,59.43 139.84,58.74 C139.77,58.05 140.33,57.05 140.36,55.97 C140.40,54.90 140.07,53.67 140.03,52.29 C140.00,50.91 140.06,49.12 140.17,47.69 C140.28,46.25 140.62,44.82 140.69,43.69 C140.76,42.57 140.36,41.70 140.56,40.93 C140.76,40.16 141.47,39.75 141.87,39.09 C142.28,38.42 142.70,37.76 142.99,36.94 C143.27,36.12 143.34,34.94 143.58,34.18 C143.82,33.41 144.09,32.74 144.43,32.34 C144.77,31.93 145.22,31.72 145.61,31.72Z" fill="url(#mg)"/>
<path d="M158.74,31.72 C159.13,31.72 159.58,31.93 159.92,32.34 C160.26,32.74 160.53,33.41 160.77,34.18 C161.01,34.94 161.08,36.12 161.36,36.94 C161.65,37.76 162.07,38.42 162.48,39.09 C162.88,39.75 163.59,40.16 163.79,40.93 C163.99,41.70 163.59,42.57 163.66,43.69 C163.73,44.82 164.08,46.25 164.18,47.69 C164.29,49.12 164.35,50.91 164.32,52.29 C164.28,53.67 163.95,54.90 163.99,55.97 C164.02,57.05 164.58,58.05 164.51,58.74 C164.45,59.43 164.05,60.17 163.59,60.12 C163.13,60.07 162.30,58.56 161.76,58.43 C161.21,58.30 160.75,59.02 160.31,59.35 C159.88,59.68 159.46,60.25 159.13,60.43 C158.80,60.60 158.67,60.60 158.34,60.43 C158.02,60.25 157.60,59.68 157.16,59.35 C156.73,59.02 156.27,58.30 155.72,58.43 C155.17,58.56 154.34,60.07 153.88,60.12 C153.42,60.17 153.03,59.43 152.96,58.74 C152.90,58.05 153.45,57.05 153.49,55.97 C153.52,54.90 153.19,53.67 153.16,52.29 C153.13,50.91 153.18,49.12 153.29,47.69 C153.40,46.25 153.75,44.82 153.82,43.69 C153.88,42.57 153.49,41.70 153.68,40.93 C153.88,40.16 154.59,39.75 155.00,39.09 C155.40,38.42 155.83,37.76 156.11,36.94 C156.40,36.12 156.46,34.94 156.70,34.18 C156.94,33.41 157.22,32.74 157.56,32.34 C157.90,31.93 158.34,31.72 158.74,31.72Z" fill="url(#mg)"/>
<rect x="112.80" y="63.00" width="52.50" height="30.60" fill="#3a3a3a"/>
<path d="M119.36,63.92 C119.76,63.92 120.20,64.12 120.54,64.53 C120.88,64.94 121.16,65.60 121.40,66.37 C121.64,67.13 121.70,68.30 121.99,69.12 C122.27,69.94 122.70,70.60 123.10,71.26 C123.51,71.92 124.22,72.33 124.42,73.10 C124.61,73.86 124.22,74.73 124.28,75.85 C124.35,76.97 124.70,78.40 124.81,79.83 C124.92,81.26 124.97,83.04 124.94,84.42 C124.91,85.80 124.58,87.02 124.61,88.09 C124.65,89.16 125.20,90.16 125.14,90.85 C125.07,91.53 124.68,92.27 124.22,92.22 C123.76,92.17 122.93,90.67 122.38,90.54 C121.83,90.41 121.38,91.13 120.94,91.46 C120.50,91.79 120.08,92.35 119.76,92.53 C119.43,92.71 119.30,92.71 118.97,92.53 C118.64,92.35 118.22,91.79 117.79,91.46 C117.35,91.13 116.89,90.41 116.34,90.54 C115.80,90.67 114.97,92.17 114.51,92.22 C114.05,92.27 113.65,91.53 113.59,90.85 C113.52,90.16 114.08,89.16 114.11,88.09 C114.15,87.02 113.82,85.80 113.78,84.42 C113.75,83.04 113.81,81.26 113.92,79.83 C114.02,78.40 114.38,76.97 114.44,75.85 C114.51,74.73 114.11,73.86 114.31,73.10 C114.51,72.33 115.22,71.92 115.62,71.26 C116.03,70.60 116.45,69.94 116.74,69.12 C117.02,68.30 117.09,67.13 117.33,66.37 C117.57,65.60 117.84,64.94 118.18,64.53 C118.52,64.12 118.97,63.92 119.36,63.92Z" fill="url(#mg)"/>
<path d="M132.49,63.92 C132.88,63.92 133.33,64.12 133.67,64.53 C134.01,64.94 134.28,65.60 134.52,66.37 C134.76,67.13 134.83,68.30 135.11,69.12 C135.40,69.94 135.82,70.60 136.23,71.26 C136.63,71.92 137.34,72.33 137.54,73.10 C137.74,73.86 137.34,74.73 137.41,75.85 C137.48,76.97 137.83,78.40 137.93,79.83 C138.04,81.26 138.10,83.04 138.07,84.42 C138.03,85.80 137.70,87.02 137.74,88.09 C137.77,89.16 138.33,90.16 138.26,90.85 C138.20,91.53 137.80,92.27 137.34,92.22 C136.88,92.17 136.05,90.67 135.51,90.54 C134.96,90.41 134.50,91.13 134.06,91.46 C133.62,91.79 133.21,92.35 132.88,92.53 C132.55,92.71 132.42,92.71 132.09,92.53 C131.77,92.35 131.35,91.79 130.91,91.46 C130.48,91.13 130.02,90.41 129.47,90.54 C128.92,90.67 128.09,92.17 127.63,92.22 C127.17,92.27 126.78,91.53 126.71,90.85 C126.65,90.16 127.20,89.16 127.24,88.09 C127.27,87.02 126.94,85.80 126.91,84.42 C126.88,83.04 126.93,81.26 127.04,79.83 C127.15,78.40 127.50,76.97 127.57,75.85 C127.63,74.73 127.24,73.86 127.43,73.10 C127.63,72.33 128.34,71.92 128.75,71.26 C129.15,70.60 129.58,69.94 129.86,69.12 C130.15,68.30 130.21,67.13 130.45,66.37 C130.69,65.60 130.97,64.94 131.31,64.53 C131.65,64.12 132.09,63.92 132.49,63.92Z" fill="url(#mg)"/>
<path d="M145.61,63.92 C146.01,63.92 146.45,64.12 146.79,64.53 C147.13,64.94 147.41,65.60 147.65,66.37 C147.89,67.13 147.95,68.30 148.24,69.12 C148.52,69.94 148.95,70.60 149.35,71.26 C149.76,71.92 150.47,72.33 150.67,73.10 C150.86,73.86 150.47,74.73 150.53,75.85 C150.60,76.97 150.95,78.40 151.06,79.83 C151.17,81.26 151.22,83.04 151.19,84.42 C151.16,85.80 150.83,87.02 150.86,88.09 C150.90,89.16 151.45,90.16 151.39,90.85 C151.32,91.53 150.93,92.27 150.47,92.22 C150.01,92.17 149.18,90.67 148.63,90.54 C148.08,90.41 147.62,91.13 147.19,91.46 C146.75,91.79 146.33,92.35 146.01,92.53 C145.68,92.71 145.55,92.71 145.22,92.53 C144.89,92.35 144.48,91.79 144.04,91.46 C143.60,91.13 143.14,90.41 142.59,90.54 C142.05,90.67 141.22,92.17 140.76,92.22 C140.30,92.27 139.90,91.53 139.84,90.85 C139.77,90.16 140.33,89.16 140.36,88.09 C140.40,87.02 140.07,85.80 140.03,84.42 C140.00,83.04 140.06,81.26 140.17,79.83 C140.28,78.40 140.62,76.97 140.69,75.85 C140.76,74.73 140.36,73.86 140.56,73.10 C140.76,72.33 141.47,71.92 141.87,71.26 C142.28,70.60 142.70,69.94 142.99,69.12 C143.27,68.30 143.34,67.13 143.58,66.37 C143.82,65.60 144.09,64.94 144.43,64.53 C144.77,64.12 145.22,63.92 145.61,63.92Z" fill="url(#mg)"/>
<path d="M158.74,63.92 C159.13,63.92 159.58,64.12 159.92,64.53 C160.26,64.94 160.53,65.60 160.77,66.37 C161.01,67.13 161.08,68.30 161.36,69.12 C161.65,69.94 162.07,70.60 162.48,71.26 C162.88,71.92 163.59,72.33 163.79,73.10 C163.99,73.86 163.59,74.73 163.66,75.85 C163.73,76.97 164.08,78.40 164.18,79.83 C164.29,81.26 164.35,83.04 164.32,84.42 C164.28,85.80 163.95,87.02 163.99,88.09 C164.02,89.16 164.58,90.16 164.51,90.85 C164.45,91.53 164.05,92.27 163.59,92.22 C163.13,92.17 162.30,90.67 161.76,90.54 C161.21,90.41 160.75,91.13 160.31,91.46 C159.88,91.79 159.46,92.35 159.13,92.53 C158.80,92.71 158.67,92.71 158.34,92.53 C158.02,92.35 157.60,91.79 157.16,91.46 C156.73,91.13 156.27,90.41 155.72,90.54 C155.17,90.67 154.34,92.17 153.88,92.22 C153.42,92.27 153.03,91.53 152.96,90.85 C152.90,90.16 153.45,89.16 153.49,88.09 C153.52,87.02 153.19,85.80 153.16,84.42 C153.13,83.04 153.18,81.26 153.29,79.83 C153.40,78.40 153.75,76.97 153.82,75.85 C153.88,74.73 153.49,73.86 153.68,73.10 C153.88,72.33 154.59,71.92 155.00,71.26 C155.40,70.60 155.83,69.94 156.11,69.12 C156.40,68.30 156.46,67.13 156.70,66.37 C156.94,65.60 157.22,64.94 157.56,64.53 C157.90,64.12 158.34,63.92 158.74,63.92Z" fill="url(#mg)"/>
<rect x="112.80" y="95.00" width="52.50" height="31.00" fill="#3a3a3a"/>
<path d="M119.36,95.93 C119.76,95.93 120.20,96.14 120.54,96.55 C120.88,96.96 121.16,97.63 121.40,98.41 C121.64,99.19 121.70,100.37 121.99,101.20 C122.27,102.03 122.70,102.70 123.10,103.37 C123.51,104.04 124.22,104.46 124.42,105.23 C124.61,106.00 124.22,106.88 124.28,108.02 C124.35,109.16 124.70,110.60 124.81,112.05 C124.92,113.50 124.97,115.31 124.94,116.70 C124.91,118.09 124.58,119.34 124.61,120.42 C124.65,121.50 125.20,122.51 125.14,123.21 C125.07,123.91 124.68,124.66 124.22,124.61 C123.76,124.55 122.93,123.03 122.38,122.90 C121.83,122.77 121.38,123.49 120.94,123.83 C120.50,124.17 120.08,124.73 119.76,124.91 C119.43,125.10 119.30,125.10 118.97,124.91 C118.64,124.73 118.22,124.17 117.79,123.83 C117.35,123.49 116.89,122.77 116.34,122.90 C115.80,123.03 114.97,124.55 114.51,124.61 C114.05,124.66 113.65,123.91 113.59,123.21 C113.52,122.51 114.08,121.50 114.11,120.42 C114.15,119.34 113.82,118.09 113.78,116.70 C113.75,115.31 113.81,113.50 113.92,112.05 C114.02,110.60 114.38,109.16 114.44,108.02 C114.51,106.88 114.11,106.00 114.31,105.23 C114.51,104.46 115.22,104.04 115.62,103.37 C116.03,102.70 116.45,102.03 116.74,101.20 C117.02,100.37 117.09,99.19 117.33,98.41 C117.57,97.63 117.84,96.96 118.18,96.55 C118.52,96.14 118.97,95.93 119.36,95.93Z" fill="url(#mg)"/>
<path d="M132.49,95.93 C132.88,95.93 133.33,96.14 133.67,96.55 C134.01,96.96 134.28,97.63 134.52,98.41 C134.76,99.19 134.83,100.37 135.11,101.20 C135.40,102.03 135.82,102.70 136.23,103.37 C136.63,104.04 137.34,104.46 137.54,105.23 C137.74,106.00 137.34,106.88 137.41,108.02 C137.48,109.16 137.83,110.60 137.93,112.05 C138.04,113.50 138.10,115.31 138.07,116.70 C138.03,118.09 137.70,119.34 137.74,120.42 C137.77,121.50 138.33,122.51 138.26,123.21 C138.20,123.91 137.80,124.66 137.34,124.61 C136.88,124.55 136.05,123.03 135.51,122.90 C134.96,122.77 134.50,123.49 134.06,123.83 C133.62,124.17 133.21,124.73 132.88,124.91 C132.55,125.10 132.42,125.10 132.09,124.91 C131.77,124.73 131.35,124.17 130.91,123.83 C130.48,123.49 130.02,122.77 129.47,122.90 C128.92,123.03 128.09,124.55 127.63,124.61 C127.17,124.66 126.78,123.91 126.71,123.21 C126.65,122.51 127.20,121.50 127.24,120.42 C127.27,119.34 126.94,118.09 126.91,116.70 C126.88,115.31 126.93,113.50 127.04,112.05 C127.15,110.60 127.50,109.16 127.57,108.02 C127.63,106.88 127.24,106.00 127.43,105.23 C127.63,104.46 128.34,104.04 128.75,103.37 C129.15,102.70 129.58,102.03 129.86,101.20 C130.15,100.37 130.21,99.19 130.45,98.41 C130.69,97.63 130.97,96.96 131.31,96.55 C131.65,96.14 132.09,95.93 132.49,95.93Z" fill="url(#mg)"/>
<path d="M145.61,95.93 C146.01,95.93 146.45,96.14 146.79,96.55 C147.13,96.96 147.41,97.63 147.65,98.41 C147.89,99.19 147.95,100.37 148.24,101.20 C148.52,102.03 148.95,102.70 149.35,103.37 C149.76,104.04 150.47,104.46 150.67,105.23 C150.86,106.00 150.47,106.88 150.53,108.02 C150.60,109.16 150.95,110.60 151.06,112.05 C151.17,113.50 151.22,115.31 151.19,116.70 C151.16,118.09 150.83,119.34 150.86,120.42 C150.90,121.50 151.45,122.51 151.39,123.21 C151.32,123.91 150.93,124.66 150.47,124.61 C150.01,124.55 149.18,123.03 148.63,122.90 C148.08,122.77 147.62,123.49 147.19,123.83 C146.75,124.17 146.33,124.73 146.01,124.91 C145.68,125.10 145.55,125.10 145.22,124.91 C144.89,124.73 144.48,124.17 144.04,123.83 C143.60,123.49 143.14,122.77 142.59,122.90 C142.05,123.03 141.22,124.55 140.76,124.61 C140.30,124.66 139.90,123.91 139.84,123.21 C139.77,122.51 140.33,121.50 140.36,120.42 C140.40,119.34 140.07,118.09 140.03,116.70 C140.00,115.31 140.06,113.50 140.17,112.05 C140.28,110.60 140.62,109.16 140.69,108.02 C140.76,106.88 140.36,106.00 140.56,105.23 C140.76,104.46 141.47,104.04 141.87,103.37 C142.28,102.70 142.70,102.03 142.99,101.20 C143.27,100.37 143.34,99.19 143.58,98.41 C143.82,97.63 144.09,96.96 144.43,96.55 C144.77,96.14 145.22,95.93 145.61,95.93Z" fill="url(#mg)"/>
<path d="M158.74,95.93 C159.13,95.93 159.58,96.14 159.92,96.55 C160.26,96.96 160.53,97.63 160.77,98.41 C161.01,99.19 161.08,100.37 161.36,101.20 C161.65,102.03 162.07,102.70 162.48,103.37 C162.88,104.04 163.59,104.46 163.79,105.23 C163.99,106.00 163.59,106.88 163.66,108.02 C163.73,109.16 164.08,110.60 164.18,112.05 C164.29,113.50 164.35,115.31 164.32,116.70 C164.28,118.09 163.95,119.34 163.99,120.42 C164.02,121.50 164.58,122.51 164.51,123.21 C164.45,123.91 164.05,124.66 163.59,124.61 C163.13,124.55 162.30,123.03 161.76,122.90 C161.21,122.77 160.75,123.49 160.31,123.83 C159.88,124.17 159.46,124.73 159.13,124.91 C158.80,125.10 158.67,125.10 158.34,124.91 C158.02,124.73 157.60,124.17 157.16,123.83 C156.73,123.49 156.27,122.77 155.72,122.90 C155.17,123.03 154.34,124.55 153.88,124.61 C153.42,124.66 153.03,123.91 152.96,123.21 C152.90,122.51 153.45,121.50 153.49,120.42 C153.52,119.34 153.19,118.09 153.16,116.70 C153.13,115.31 153.18,113.50 153.29,112.05 C153.40,110.60 153.75,109.16 153.82,108.02 C153.88,106.88 153.49,106.00 153.68,105.23 C153.88,104.46 154.59,104.04 155.00,103.37 C155.40,102.70 155.83,102.03 156.11,101.20 C156.40,100.37 156.46,99.19 156.70,98.41 C156.94,97.63 157.22,96.96 157.56,96.55 C157.90,96.14 158.34,95.93 158.74,95.93Z" fill="url(#mg)"/>
<text x="199.60" y="27.00" font-size="8.2" text-anchor="middle">Cfz</text>
<line x1="168.20" y1="29.50" x2="231.00" y2="29.50" stroke="#555" stroke-width="1"/>
<rect x="166.70" y="30.80" width="65.80" height="30.70" fill="#3a3a3a"/>
<path d="M173.28,31.72 C173.67,31.72 174.12,31.93 174.46,32.34 C174.80,32.74 175.08,33.41 175.32,34.18 C175.56,34.94 175.63,36.12 175.91,36.94 C176.20,37.76 176.62,38.42 177.03,39.09 C177.44,39.75 178.15,40.16 178.35,40.93 C178.54,41.70 178.15,42.57 178.22,43.69 C178.28,44.82 178.63,46.25 178.74,47.69 C178.85,49.12 178.91,50.91 178.87,52.29 C178.84,53.67 178.51,54.90 178.54,55.97 C178.58,57.05 179.14,58.05 179.07,58.74 C179.00,59.43 178.61,60.17 178.15,60.12 C177.69,60.07 176.86,58.56 176.31,58.43 C175.76,58.30 175.30,59.02 174.86,59.35 C174.42,59.68 174.00,60.25 173.67,60.43 C173.35,60.60 173.21,60.60 172.89,60.43 C172.56,60.25 172.14,59.68 171.70,59.35 C171.26,59.02 170.80,58.30 170.25,58.43 C169.70,58.56 168.87,60.07 168.41,60.12 C167.95,60.17 167.56,59.43 167.49,58.74 C167.42,58.05 167.98,57.05 168.02,55.97 C168.05,54.90 167.72,53.67 167.69,52.29 C167.65,50.91 167.71,49.12 167.82,47.69 C167.93,46.25 168.28,44.82 168.34,43.69 C168.41,42.57 168.02,41.70 168.21,40.93 C168.41,40.16 169.12,39.75 169.53,39.09 C169.94,38.42 170.36,37.76 170.65,36.94 C170.93,36.12 171.00,34.94 171.24,34.18 C171.48,33.41 171.76,32.74 172.10,32.34 C172.44,31.93 172.89,31.72 173.28,31.72Z" fill="url(#mg)"/>
<path d="M186.44,31.72 C186.83,31.72 187.28,31.93 187.62,32.34 C187.96,32.74 188.24,33.41 188.48,34.18 C188.72,34.94 188.79,36.12 189.07,36.94 C189.36,37.76 189.78,38.42 190.19,39.09 C190.60,39.75 191.31,40.16 191.51,40.93 C191.70,41.70 191.31,42.57 191.38,43.69 C191.44,44.82 191.79,46.25 191.90,47.69 C192.01,49.12 192.07,50.91 192.03,52.29 C192.00,53.67 191.67,54.90 191.70,55.97 C191.74,57.05 192.30,58.05 192.23,58.74 C192.16,59.43 191.77,60.17 191.31,60.12 C190.85,60.07 190.02,58.56 189.47,58.43 C188.92,58.30 188.46,59.02 188.02,59.35 C187.58,59.68 187.16,60.25 186.83,60.43 C186.51,60.60 186.37,60.60 186.05,60.43 C185.72,60.25 185.30,59.68 184.86,59.35 C184.42,59.02 183.96,58.30 183.41,58.43 C182.86,58.56 182.03,60.07 181.57,60.12 C181.11,60.17 180.72,59.43 180.65,58.74 C180.58,58.05 181.14,57.05 181.18,55.97 C181.21,54.90 180.88,53.67 180.85,52.29 C180.81,50.91 180.87,49.12 180.98,47.69 C181.09,46.25 181.44,44.82 181.50,43.69 C181.57,42.57 181.18,41.70 181.37,40.93 C181.57,40.16 182.28,39.75 182.69,39.09 C183.10,38.42 183.52,37.76 183.81,36.94 C184.09,36.12 184.16,34.94 184.40,34.18 C184.64,33.41 184.92,32.74 185.26,32.34 C185.60,31.93 186.05,31.72 186.44,31.72Z" fill="url(#mg)"/>
<path d="M199.60,31.72 C199.99,31.72 200.44,31.93 200.78,32.34 C201.12,32.74 201.40,33.41 201.64,34.18 C201.88,34.94 201.95,36.12 202.23,36.94 C202.52,37.76 202.94,38.42 203.35,39.09 C203.76,39.75 204.47,40.16 204.67,40.93 C204.86,41.70 204.47,42.57 204.53,43.69 C204.60,44.82 204.95,46.25 205.06,47.69 C205.17,49.12 205.23,50.91 205.19,52.29 C205.16,53.67 204.83,54.90 204.86,55.97 C204.90,57.05 205.46,58.05 205.39,58.74 C205.32,59.43 204.93,60.17 204.47,60.12 C204.01,60.07 203.18,58.56 202.63,58.43 C202.08,58.30 201.62,59.02 201.18,59.35 C200.74,59.68 200.32,60.25 199.99,60.43 C199.67,60.60 199.53,60.60 199.21,60.43 C198.88,60.25 198.46,59.68 198.02,59.35 C197.58,59.02 197.12,58.30 196.57,58.43 C196.02,58.56 195.19,60.07 194.73,60.12 C194.27,60.17 193.88,59.43 193.81,58.74 C193.74,58.05 194.30,57.05 194.34,55.97 C194.37,54.90 194.04,53.67 194.01,52.29 C193.97,50.91 194.03,49.12 194.14,47.69 C194.25,46.25 194.60,44.82 194.66,43.69 C194.73,42.57 194.34,41.70 194.53,40.93 C194.73,40.16 195.44,39.75 195.85,39.09 C196.26,38.42 196.68,37.76 196.97,36.94 C197.25,36.12 197.32,34.94 197.56,34.18 C197.80,33.41 198.08,32.74 198.42,32.34 C198.76,31.93 199.21,31.72 199.60,31.72Z" fill="url(#mg)"/>
<path d="M212.76,31.72 C213.15,31.72 213.60,31.93 213.94,32.34 C214.28,32.74 214.56,33.41 214.80,34.18 C215.04,34.94 215.11,36.12 215.39,36.94 C215.68,37.76 216.10,38.42 216.51,39.09 C216.92,39.75 217.63,40.16 217.83,40.93 C218.02,41.70 217.63,42.57 217.70,43.69 C217.76,44.82 218.11,46.25 218.22,47.69 C218.33,49.12 218.39,50.91 218.35,52.29 C218.32,53.67 217.99,54.90 218.02,55.97 C218.06,57.05 218.62,58.05 218.55,58.74 C218.48,59.43 218.09,60.17 217.63,60.12 C217.17,60.07 216.34,58.56 215.79,58.43 C215.24,58.30 214.78,59.02 214.34,59.35 C213.90,59.68 213.48,60.25 213.15,60.43 C212.83,60.60 212.69,60.60 212.37,60.43 C212.04,60.25 211.62,59.68 211.18,59.35 C210.74,59.02 210.28,58.30 209.73,58.43 C209.18,58.56 208.35,60.07 207.89,60.12 C207.43,60.17 207.04,59.43 206.97,58.74 C206.90,58.05 207.46,57.05 207.50,55.97 C207.53,54.90 207.20,53.67 207.17,52.29 C207.13,50.91 207.19,49.12 207.30,47.69 C207.41,46.25 207.76,44.82 207.83,43.69 C207.89,42.57 207.50,41.70 207.69,40.93 C207.89,40.16 208.60,39.75 209.01,39.09 C209.42,38.42 209.84,37.76 210.13,36.94 C210.41,36.12 210.48,34.94 210.72,34.18 C210.96,33.41 211.24,32.74 211.58,32.34 C211.92,31.93 212.37,31.72 212.76,31.72Z" fill="url(#mg)"/>
<path d="M225.92,31.72 C226.31,31.72 226.76,31.93 227.10,32.34 C227.44,32.74 227.72,33.41 227.96,34.18 C228.20,34.94 228.27,36.12 228.55,36.94 C228.84,37.76 229.26,38.42 229.67,39.09 C230.08,39.75 230.79,40.16 230.99,40.93 C231.18,41.70 230.79,42.57 230.86,43.69 C230.92,44.82 231.27,46.25 231.38,47.69 C231.49,49.12 231.55,50.91 231.51,52.29 C231.48,53.67 231.15,54.90 231.18,55.97 C231.22,57.05 231.78,58.05 231.71,58.74 C231.64,59.43 231.25,60.17 230.79,60.12 C230.33,60.07 229.50,58.56 228.95,58.43 C228.40,58.30 227.94,59.02 227.50,59.35 C227.06,59.68 226.64,60.25 226.31,60.43 C225.99,60.60 225.85,60.60 225.53,60.43 C225.20,60.25 224.78,59.68 224.34,59.35 C223.90,59.02 223.44,58.30 222.89,58.43 C222.34,58.56 221.51,60.07 221.05,60.12 C220.59,60.17 220.20,59.43 220.13,58.74 C220.06,58.05 220.62,57.05 220.66,55.97 C220.69,54.90 220.36,53.67 220.33,52.29 C220.29,50.91 220.35,49.12 220.46,47.69 C220.57,46.25 220.92,44.82 220.99,43.69 C221.05,42.57 220.66,41.70 220.85,40.93 C221.05,40.16 221.76,39.75 222.17,39.09 C222.58,38.42 223.00,37.76 223.29,36.94 C223.57,36.12 223.64,34.94 223.88,34.18 C224.12,33.41 224.40,32.74 224.74,32.34 C225.08,31.93 225.53,31.72 225.92,31.72Z" fill="url(#mg)"/>
<rect x="166.70" y="63.00" width="65.80" height="30.60" fill="#3a3a3a"/>
<path d="M173.28,63.92 C173.67,63.92 174.12,64.12 174.46,64.53 C174.80,64.94 175.08,65.60 175.32,66.37 C175.56,67.13 175.63,68.30 175.91,69.12 C176.20,69.94 176.62,70.60 177.03,71.26 C177.44,71.92 178.15,72.33 178.35,73.10 C178.54,73.86 178.15,74.73 178.22,75.85 C178.28,76.97 178.63,78.40 178.74,79.83 C178.85,81.26 178.91,83.04 178.87,84.42 C178.84,85.80 178.51,87.02 178.54,88.09 C178.58,89.16 179.14,90.16 179.07,90.85 C179.00,91.53 178.61,92.27 178.15,92.22 C177.69,92.17 176.86,90.67 176.31,90.54 C175.76,90.41 175.30,91.13 174.86,91.46 C174.42,91.79 174.00,92.35 173.67,92.53 C173.35,92.71 173.21,92.71 172.89,92.53 C172.56,92.35 172.14,91.79 171.70,91.46 C171.26,91.13 170.80,90.41 170.25,90.54 C169.70,90.67 168.87,92.17 168.41,92.22 C167.95,92.27 167.56,91.53 167.49,90.85 C167.42,90.16 167.98,89.16 168.02,88.09 C168.05,87.02 167.72,85.80 167.69,84.42 C167.65,83.04 167.71,81.26 167.82,79.83 C167.93,78.40 168.28,76.97 168.34,75.85 C168.41,74.73 168.02,73.86 168.21,73.10 C168.41,72.33 169.12,71.92 169.53,71.26 C169.94,70.60 170.36,69.94 170.65,69.12 C170.93,68.30 171.00,67.13 171.24,66.37 C171.48,65.60 171.76,64.94 172.10,64.53 C172.44,64.12 172.89,63.92 173.28,63.92Z" fill="url(#mg)"/>
<path d="M186.44,63.92 C186.83,63.92 187.28,64.12 187.62,64.53 C187.96,64.94 188.24,65.60 188.48,66.37 C188.72,67.13 188.79,68.30 189.07,69.12 C189.36,69.94 189.78,70.60 190.19,71.26 C190.60,71.92 191.31,72.33 191.51,73.10 C191.70,73.86 191.31,74.73 191.38,75.85 C191.44,76.97 191.79,78.40 191.90,79.83 C192.01,81.26 192.07,83.04 192.03,84.42 C192.00,85.80 191.67,87.02 191.70,88.09 C191.74,89.16 192.30,90.16 192.23,90.85 C192.16,91.53 191.77,92.27 191.31,92.22 C190.85,92.17 190.02,90.67 189.47,90.54 C188.92,90.41 188.46,91.13 188.02,91.46 C187.58,91.79 187.16,92.35 186.83,92.53 C186.51,92.71 186.37,92.71 186.05,92.53 C185.72,92.35 185.30,91.79 184.86,91.46 C184.42,91.13 183.96,90.41 183.41,90.54 C182.86,90.67 182.03,92.17 181.57,92.22 C181.11,92.27 180.72,91.53 180.65,90.85 C180.58,90.16 181.14,89.16 181.18,88.09 C181.21,87.02 180.88,85.80 180.85,84.42 C180.81,83.04 180.87,81.26 180.98,79.83 C181.09,78.40 181.44,76.97 181.50,75.85 C181.57,74.73 181.18,73.86 181.37,73.10 C181.57,72.33 182.28,71.92 182.69,71.26 C183.10,70.60 183.52,69.94 183.81,69.12 C184.09,68.30 184.16,67.13 184.40,66.37 C184.64,65.60 184.92,64.94 185.26,64.53 C185.60,64.12 186.05,63.92 186.44,63.92Z" fill="url(#mg)"/>
<path d="M199.60,63.92 C199.99,63.92 200.44,64.12 200.78,64.53 C201.12,64.94 201.40,65.60 201.64,66.37 C201.88,67.13 201.95,68.30 202.23,69.12 C202.52,69.94 202.94,70.60 203.35,71.26 C203.76,71.92 204.47,72.33 204.67,73.10 C204.86,73.86 204.47,74.73 204.53,75.85 C204.60,76.97 204.95,78.40 205.06,79.83 C205.17,81.26 205.23,83.04 205.19,84.42 C205.16,85.80 204.83,87.02 204.86,88.09 C204.90,89.16 205.46,90.16 205.39,90.85 C205.32,91.53 204.93,92.27 204.47,92.22 C204.01,92.17 203.18,90.67 202.63,90.54 C202.08,90.41 201.62,91.13 201.18,91.46 C200.74,91.79 200.32,92.35 199.99,92.53 C199.67,92.71 199.53,92.71 199.21,92.53 C198.88,92.35 198.46,91.79 198.02,91.46 C197.58,91.13 197.12,90.41 196.57,90.54 C196.02,90.67 195.19,92.17 194.73,92.22 C194.27,92.27 193.88,91.53 193.81,90.85 C193.74,90.16 194.30,89.16 194.34,88.09 C194.37,87.02 194.04,85.80 194.01,84.42 C193.97,83.04 194.03,81.26 194.14,79.83 C194.25,78.40 194.60,76.97 194.66,75.85 C194.73,74.73 194.34,73.86 194.53,73.10 C194.73,72.33 195.44,71.92 195.85,71.26 C196.26,70.60 196.68,69.94 196.97,69.12 C197.25,68.30 197.32,67.13 197.56,66.37 C197.80,65.60 198.08,64.94 198.42,64.53 C198.76,64.12 199.21,63.92 199.60,63.92Z" fill="url(#mg)"/>
<path d="M212.76,63.92 C213.15,63.92 213.60,64.12 213.94,64.53 C214.28,64.94 214.56,65.60 214.80,66.37 C215.04,67.13 215.11,68.30 215.39,69.12 C215.68,69.94 216.10,70.60 216.51,71.26 C216.92,71.92 217.63,72.33 217.83,73.10 C218.02,73.86 217.63,74.73 217.70,75.85 C217.76,76.97 218.11,78.40 218.22,79.83 C218.33,81.26 218.39,83.04 218.35,84.42 C218.32,85.80 217.99,87.02 218.02,88.09 C218.06,89.16 218.62,90.16 218.55,90.85 C218.48,91.53 218.09,92.27 217.63,92.22 C217.17,92.17 216.34,90.67 215.79,90.54 C215.24,90.41 214.78,91.13 214.34,91.46 C213.90,91.79 213.48,92.35 213.15,92.53 C212.83,92.71 212.69,92.71 212.37,92.53 C212.04,92.35 211.62,91.79 211.18,91.46 C210.74,91.13 210.28,90.41 209.73,90.54 C209.18,90.67 208.35,92.17 207.89,92.22 C207.43,92.27 207.04,91.53 206.97,90.85 C206.90,90.16 207.46,89.16 207.50,88.09 C207.53,87.02 207.20,85.80 207.17,84.42 C207.13,83.04 207.19,81.26 207.30,79.83 C207.41,78.40 207.76,76.97 207.83,75.85 C207.89,74.73 207.50,73.86 207.69,73.10 C207.89,72.33 208.60,71.92 209.01,71.26 C209.42,70.60 209.84,69.94 210.13,69.12 C210.41,68.30 210.48,67.13 210.72,66.37 C210.96,65.60 211.24,64.94 211.58,64.53 C211.92,64.12 212.37,63.92 212.76,63.92Z" fill="url(#mg)"/>
<path d="M225.92,63.92 C226.31,63.92 226.76,64.12 227.10,64.53 C227.44,64.94 227.72,65.60 227.96,66.37 C228.20,67.13 228.27,68.30 228.55,69.12 C228.84,69.94 229.26,70.60 229.67,71.26 C230.08,71.92 230.79,72.33 230.99,73.10 C231.18,73.86 230.79,74.73 230.86,75.85 C230.92,76.97 231.27,78.40 231.38,79.83 C231.49,81.26 231.55,83.04 231.51,84.42 C231.48,85.80 231.15,87.02 231.18,88.09 C231.22,89.16 231.78,90.16 231.71,90.85 C231.64,91.53 231.25,92.27 230.79,92.22 C230.33,92.17 229.50,90.67 228.95,90.54 C228.40,90.41 227.94,91.13 227.50,91.46 C227.06,91.79 226.64,92.35 226.31,92.53 C225.99,92.71 225.85,92.71 225.53,92.53 C225.20,92.35 224.78,91.79 224.34,91.46 C223.90,91.13 223.44,90.41 222.89,90.54 C222.34,90.67 221.51,92.17 221.05,92.22 C220.59,92.27 220.20,91.53 220.13,90.85 C220.06,90.16 220.62,89.16 220.66,88.09 C220.69,87.02 220.36,85.80 220.33,84.42 C220.29,83.04 220.35,81.26 220.46,79.83 C220.57,78.40 220.92,76.97 220.99,75.85 C221.05,74.73 220.66,73.86 220.85,73.10 C221.05,72.33 221.76,71.92 222.17,71.26 C222.58,70.60 223.00,69.94 223.29,69.12 C223.57,68.30 223.64,67.13 223.88,66.37 C224.12,65.60 224.40,64.94 224.74,64.53 C225.08,64.12 225.53,63.92 225.92,63.92Z" fill="url(#mg)"/>
<rect x="166.70" y="95.00" width="65.80" height="31.00" fill="#3a3a3a"/>
<path d="M173.28,95.93 C173.67,95.93 174.12,96.14 174.46,96.55 C174.80,96.96 175.08,97.63 175.32,98.41 C175.56,99.19 175.63,100.37 175.91,101.20 C176.20,102.03 176.62,102.70 177.03,103.37 C177.44,104.04 178.15,104.46 178.35,105.23 C178.54,106.00 178.15,106.88 178.22,108.02 C178.28,109.16 178.63,110.60 178.74,112.05 C178.85,113.50 178.91,115.31 178.87,116.70 C178.84,118.09 178.51,119.34 178.54,120.42 C178.58,121.50 179.14,122.51 179.07,123.21 C179.00,123.91 178.61,124.66 178.15,124.61 C177.69,124.55 176.86,123.03 176.31,122.90 C175.76,122.77 175.30,123.49 174.86,123.83 C174.42,124.17 174.00,124.73 173.67,124.91 C173.35,125.10 173.21,125.10 172.89,124.91 C172.56,124.73 172.14,124.17 171.70,123.83 C171.26,123.49 170.80,122.77 170.25,122.90 C169.70,123.03 168.87,124.55 168.41,124.61 C167.95,124.66 167.56,123.91 167.49,123.21 C167.42,122.51 167.98,121.50 168.02,120.42 C168.05,119.34 167.72,118.09 167.69,116.70 C167.65,115.31 167.71,113.50 167.82,112.05 C167.93,110.60 168.28,109.16 168.34,108.02 C168.41,106.88 168.02,106.00 168.21,105.23 C168.41,104.46 169.12,104.04 169.53,103.37 C169.94,102.70 170.36,102.03 170.65,101.20 C170.93,100.37 171.00,99.19 171.24,98.41 C171.48,97.63 171.76,96.96 172.10,96.55 C172.44,96.14 172.89,95.93 173.28,95.93Z" fill="url(#mg)"/>
<path d="M186.44,95.93 C186.83,95.93 187.28,96.14 187.62,96.55 C187.96,96.96 188.24,97.63 188.48,98.41 C188.72,99.19 188.79,100.37 189.07,101.20 C189.36,102.03 189.78,102.70 190.19,103.37 C190.60,104.04 191.31,104.46 191.51,105.23 C191.70,106.00 191.31,106.88 191.38,108.02 C191.44,109.16 191.79,110.60 191.90,112.05 C192.01,113.50 192.07,115.31 192.03,116.70 C192.00,118.09 191.67,119.34 191.70,120.42 C191.74,121.50 192.30,122.51 192.23,123.21 C192.16,123.91 191.77,124.66 191.31,124.61 C190.85,124.55 190.02,123.03 189.47,122.90 C188.92,122.77 188.46,123.49 188.02,123.83 C187.58,124.17 187.16,124.73 186.83,124.91 C186.51,125.10 186.37,125.10 186.05,124.91 C185.72,124.73 185.30,124.17 184.86,123.83 C184.42,123.49 183.96,122.77 183.41,122.90 C182.86,123.03 182.03,124.55 181.57,124.61 C181.11,124.66 180.72,123.91 180.65,123.21 C180.58,122.51 181.14,121.50 181.18,120.42 C181.21,119.34 180.88,118.09 180.85,116.70 C180.81,115.31 180.87,113.50 180.98,112.05 C181.09,110.60 181.44,109.16 181.50,108.02 C181.57,106.88 181.18,106.00 181.37,105.23 C181.57,104.46 182.28,104.04 182.69,103.37 C183.10,102.70 183.52,102.03 183.81,101.20 C184.09,100.37 184.16,99.19 184.40,98.41 C184.64,97.63 184.92,96.96 185.26,96.55 C185.60,96.14 186.05,95.93 186.44,95.93Z" fill="url(#mg)"/>
<path d="M199.60,95.93 C199.99,95.93 200.44,96.14 200.78,96.55 C201.12,96.96 201.40,97.63 201.64,98.41 C201.88,99.19 201.95,100.37 202.23,101.20 C202.52,102.03 202.94,102.70 203.35,103.37 C203.76,104.04 204.47,104.46 204.67,105.23 C204.86,106.00 204.47,106.88 204.53,108.02 C204.60,109.16 204.95,110.60 205.06,112.05 C205.17,113.50 205.23,115.31 205.19,116.70 C205.16,118.09 204.83,119.34 204.86,120.42 C204.90,121.50 205.46,122.51 205.39,123.21 C205.32,123.91 204.93,124.66 204.47,124.61 C204.01,124.55 203.18,123.03 202.63,122.90 C202.08,122.77 201.62,123.49 201.18,123.83 C200.74,124.17 200.32,124.73 199.99,124.91 C199.67,125.10 199.53,125.10 199.21,124.91 C198.88,124.73 198.46,124.17 198.02,123.83 C197.58,123.49 197.12,122.77 196.57,122.90 C196.02,123.03 195.19,124.55 194.73,124.61 C194.27,124.66 193.88,123.91 193.81,123.21 C193.74,122.51 194.30,121.50 194.34,120.42 C194.37,119.34 194.04,118.09 194.01,116.70 C193.97,115.31 194.03,113.50 194.14,112.05 C194.25,110.60 194.60,109.16 194.66,108.02 C194.73,106.88 194.34,106.00 194.53,105.23 C194.73,104.46 195.44,104.04 195.85,103.37 C196.26,102.70 196.68,102.03 196.97,101.20 C197.25,100.37 197.32,99.19 197.56,98.41 C197.80,97.63 198.08,96.96 198.42,96.55 C198.76,96.14 199.21,95.93 199.60,95.93Z" fill="url(#mg)"/>
<path d="M212.76,95.93 C213.15,95.93 213.60,96.14 213.94,96.55 C214.28,96.96 214.56,97.63 214.80,98.41 C215.04,99.19 215.11,100.37 215.39,101.20 C215.68,102.03 216.10,102.70 216.51,103.37 C216.92,104.04 217.63,104.46 217.83,105.23 C218.02,106.00 217.63,106.88 217.70,108.02 C217.76,109.16 218.11,110.60 218.22,112.05 C218.33,113.50 218.39,115.31 218.35,116.70 C218.32,118.09 217.99,119.34 218.02,120.42 C218.06,121.50 218.62,122.51 218.55,123.21 C218.48,123.91 218.09,124.66 217.63,124.61 C217.17,124.55 216.34,123.03 215.79,122.90 C215.24,122.77 214.78,123.49 214.34,123.83 C213.90,124.17 213.48,124.73 213.15,124.91 C212.83,125.10 212.69,125.10 212.37,124.91 C212.04,124.73 211.62,124.17 211.18,123.83 C210.74,123.49 210.28,122.77 209.73,122.90 C209.18,123.03 208.35,124.55 207.89,124.61 C207.43,124.66 207.04,123.91 206.97,123.21 C206.90,122.51 207.46,121.50 207.50,120.42 C207.53,119.34 207.20,118.09 207.17,116.70 C207.13,115.31 207.19,113.50 207.30,112.05 C207.41,110.60 207.76,109.16 207.83,108.02 C207.89,106.88 207.50,106.00 207.69,105.23 C207.89,104.46 208.60,104.04 209.01,103.37 C209.42,102.70 209.84,102.03 210.13,101.20 C210.41,100.37 210.48,99.19 210.72,98.41 C210.96,97.63 211.24,96.96 211.58,96.55 C211.92,96.14 212.37,95.93 212.76,95.93Z" fill="url(#mg)"/>
<path d="M225.92,95.93 C226.31,95.93 226.76,96.14 227.10,96.55 C227.44,96.96 227.72,97.63 227.96,98.41 C228.20,99.19 228.27,100.37 228.55,101.20 C228.84,102.03 229.26,102.70 229.67,103.37 C230.08,104.04 230.79,104.46 230.99,105.23 C231.18,106.00 230.79,106.88 230.86,108.02 C230.92,109.16 231.27,110.60 231.38,112.05 C231.49,113.50 231.55,115.31 231.51,116.70 C231.48,118.09 231.15,119.34 231.18,120.42 C231.22,121.50 231.78,122.51 231.71,123.21 C231.64,123.91 231.25,124.66 230.79,124.61 C230.33,124.55 229.50,123.03 228.95,122.90 C228.40,122.77 227.94,123.49 227.50,123.83 C227.06,124.17 226.64,124.73 226.31,124.91 C225.99,125.10 225.85,125.10 225.53,124.91 C225.20,124.73 224.78,124.17 224.34,123.83 C223.90,123.49 223.44,122.77 222.89,122.90 C222.34,123.03 221.51,124.55 221.05,124.61 C220.59,124.66 220.20,123.91 220.13,123.21 C220.06,122.51 220.62,121.50 220.66,120.42 C220.69,119.34 220.36,118.09 220.33,116.70 C220.29,115.31 220.35,113.50 220.46,112.05 C220.57,110.60 220.92,109.16 220.99,108.02 C221.05,106.88 220.66,106.00 220.85,105.23 C221.05,104.46 221.76,104.04 222.17,103.37 C222.58,102.70 223.00,102.03 223.29,101.20 C223.57,100.37 223.64,99.19 223.88,98.41 C224.12,97.63 224.40,96.96 224.74,96.55 C225.08,96.14 225.53,95.93 225.92,95.93Z" fill="url(#mg)"/>
<text x="265.50" y="27.00" font-size="8.2" text-anchor="middle">ATRA+Cfz</text>
<line x1="234.90" y1="29.50" x2="296.10" y2="29.50" stroke="#555" stroke-width="1"/>
<rect x="233.40" y="30.80" width="64.20" height="30.70" fill="#3a3a3a"/>
<path d="M239.82,31.72 C240.21,31.72 240.64,31.93 240.98,32.34 C241.31,32.74 241.57,33.41 241.81,34.18 C242.05,34.94 242.11,36.12 242.39,36.94 C242.67,37.76 243.08,38.42 243.48,39.09 C243.88,39.75 244.57,40.16 244.76,40.93 C244.96,41.70 244.57,42.57 244.63,43.69 C244.70,44.82 245.04,46.25 245.15,47.69 C245.26,49.12 245.31,50.91 245.28,52.29 C245.24,53.67 244.92,54.90 244.96,55.97 C244.99,57.05 245.53,58.05 245.47,58.74 C245.41,59.43 245.02,60.17 244.57,60.12 C244.12,60.07 243.31,58.56 242.77,58.43 C242.24,58.30 241.79,59.02 241.36,59.35 C240.93,59.68 240.53,60.25 240.21,60.43 C239.88,60.60 239.76,60.60 239.43,60.43 C239.11,60.25 238.71,59.68 238.28,59.35 C237.85,59.02 237.40,58.30 236.87,58.43 C236.33,58.56 235.52,60.07 235.07,60.12 C234.62,60.17 234.23,59.43 234.17,58.74 C234.11,58.05 234.65,57.05 234.68,55.97 C234.72,54.90 234.40,53.67 234.36,52.29 C234.33,50.91 234.38,49.12 234.49,47.69 C234.60,46.25 234.94,44.82 235.00,43.69 C235.07,42.57 234.68,41.70 234.88,40.93 C235.07,40.16 235.76,39.75 236.16,39.09 C236.56,38.42 236.97,37.76 237.25,36.94 C237.53,36.12 237.59,34.94 237.83,34.18 C238.07,33.41 238.33,32.74 238.66,32.34 C239.00,31.93 239.43,31.72 239.82,31.72Z" fill="url(#mg)"/>
<path d="M252.66,31.72 C253.05,31.72 253.48,31.93 253.82,32.34 C254.15,32.74 254.41,33.41 254.65,34.18 C254.89,34.94 254.95,36.12 255.23,36.94 C255.51,37.76 255.92,38.42 256.32,39.09 C256.72,39.75 257.41,40.16 257.60,40.93 C257.80,41.70 257.41,42.57 257.48,43.69 C257.54,44.82 257.88,46.25 257.99,47.69 C258.10,49.12 258.15,50.91 258.12,52.29 C258.08,53.67 257.76,54.90 257.80,55.97 C257.83,57.05 258.37,58.05 258.31,58.74 C258.25,59.43 257.86,60.17 257.41,60.12 C256.96,60.07 256.15,58.56 255.61,58.43 C255.08,58.30 254.63,59.02 254.20,59.35 C253.77,59.68 253.37,60.25 253.05,60.43 C252.72,60.60 252.60,60.60 252.27,60.43 C251.95,60.25 251.55,59.68 251.12,59.35 C250.69,59.02 250.24,58.30 249.71,58.43 C249.17,58.56 248.36,60.07 247.91,60.12 C247.46,60.17 247.07,59.43 247.01,58.74 C246.95,58.05 247.49,57.05 247.52,55.97 C247.56,54.90 247.24,53.67 247.20,52.29 C247.17,50.91 247.22,49.12 247.33,47.69 C247.44,46.25 247.78,44.82 247.85,43.69 C247.91,42.57 247.52,41.70 247.72,40.93 C247.91,40.16 248.60,39.75 249.00,39.09 C249.40,38.42 249.81,37.76 250.09,36.94 C250.37,36.12 250.43,34.94 250.67,34.18 C250.91,33.41 251.17,32.74 251.50,32.34 C251.84,31.93 252.27,31.72 252.66,31.72Z" fill="url(#mg)"/>
<path d="M265.50,31.72 C265.89,31.72 266.32,31.93 266.66,32.34 C266.99,32.74 267.25,33.41 267.49,34.18 C267.73,34.94 267.79,36.12 268.07,36.94 C268.35,37.76 268.76,38.42 269.16,39.09 C269.56,39.75 270.25,40.16 270.44,40.93 C270.64,41.70 270.25,42.57 270.32,43.69 C270.38,44.82 270.72,46.25 270.83,47.69 C270.94,49.12 270.99,50.91 270.96,52.29 C270.92,53.67 270.60,54.90 270.64,55.97 C270.67,57.05 271.21,58.05 271.15,58.74 C271.09,59.43 270.70,60.17 270.25,60.12 C269.80,60.07 268.99,58.56 268.45,58.43 C267.92,58.30 267.47,59.02 267.04,59.35 C266.61,59.68 266.21,60.25 265.89,60.43 C265.56,60.60 265.44,60.60 265.11,60.43 C264.79,60.25 264.39,59.68 263.96,59.35 C263.53,59.02 263.08,58.30 262.55,58.43 C262.01,58.56 261.20,60.07 260.75,60.12 C260.30,60.17 259.91,59.43 259.85,58.74 C259.79,58.05 260.33,57.05 260.36,55.97 C260.40,54.90 260.08,53.67 260.04,52.29 C260.01,50.91 260.06,49.12 260.17,47.69 C260.28,46.25 260.62,44.82 260.69,43.69 C260.75,42.57 260.36,41.70 260.56,40.93 C260.75,40.16 261.44,39.75 261.84,39.09 C262.24,38.42 262.65,37.76 262.93,36.94 C263.21,36.12 263.27,34.94 263.51,34.18 C263.75,33.41 264.01,32.74 264.34,32.34 C264.68,31.93 265.11,31.72 265.50,31.72Z" fill="url(#mg)"/>
<path d="M278.34,31.72 C278.73,31.72 279.16,31.93 279.50,32.34 C279.83,32.74 280.09,33.41 280.33,34.18 C280.57,34.94 280.63,36.12 280.91,36.94 C281.19,37.76 281.60,38.42 282.00,39.09 C282.40,39.75 283.09,40.16 283.28,40.93 C283.48,41.70 283.09,42.57 283.16,43.69 C283.22,44.82 283.56,46.25 283.67,47.69 C283.78,49.12 283.83,50.91 283.80,52.29 C283.76,53.67 283.44,54.90 283.48,55.97 C283.51,57.05 284.05,58.05 283.99,58.74 C283.93,59.43 283.54,60.17 283.09,60.12 C282.64,60.07 281.83,58.56 281.29,58.43 C280.76,58.30 280.31,59.02 279.88,59.35 C279.45,59.68 279.05,60.25 278.73,60.43 C278.40,60.60 278.28,60.60 277.95,60.43 C277.63,60.25 277.23,59.68 276.80,59.35 C276.37,59.02 275.92,58.30 275.39,58.43 C274.85,58.56 274.04,60.07 273.59,60.12 C273.14,60.17 272.75,59.43 272.69,58.74 C272.63,58.05 273.17,57.05 273.20,55.97 C273.24,54.90 272.92,53.67 272.88,52.29 C272.85,50.91 272.90,49.12 273.01,47.69 C273.12,46.25 273.46,44.82 273.53,43.69 C273.59,42.57 273.20,41.70 273.40,40.93 C273.59,40.16 274.28,39.75 274.68,39.09 C275.08,38.42 275.49,37.76 275.77,36.94 C276.05,36.12 276.11,34.94 276.35,34.18 C276.59,33.41 276.85,32.74 277.18,32.34 C277.52,31.93 277.95,31.72 278.34,31.72Z" fill="url(#mg)"/>
<path d="M291.18,31.72 C291.57,31.72 292.00,31.93 292.34,32.34 C292.67,32.74 292.93,33.41 293.17,34.18 C293.41,34.94 293.47,36.12 293.75,36.94 C294.03,37.76 294.44,38.42 294.84,39.09 C295.24,39.75 295.93,40.16 296.12,40.93 C296.32,41.70 295.93,42.57 296.00,43.69 C296.06,44.82 296.40,46.25 296.51,47.69 C296.62,49.12 296.67,50.91 296.64,52.29 C296.60,53.67 296.28,54.90 296.32,55.97 C296.35,57.05 296.89,58.05 296.83,58.74 C296.77,59.43 296.38,60.17 295.93,60.12 C295.48,60.07 294.67,58.56 294.13,58.43 C293.60,58.30 293.15,59.02 292.72,59.35 C292.29,59.68 291.89,60.25 291.57,60.43 C291.24,60.60 291.12,60.60 290.79,60.43 C290.47,60.25 290.07,59.68 289.64,59.35 C289.21,59.02 288.76,58.30 288.23,58.43 C287.69,58.56 286.88,60.07 286.43,60.12 C285.98,60.17 285.59,59.43 285.53,58.74 C285.47,58.05 286.01,57.05 286.04,55.97 C286.08,54.90 285.76,53.67 285.72,52.29 C285.69,50.91 285.74,49.12 285.85,47.69 C285.96,46.25 286.30,44.82 286.37,43.69 C286.43,42.57 286.04,41.70 286.24,40.93 C286.43,40.16 287.12,39.75 287.52,39.09 C287.92,38.42 288.33,37.76 288.61,36.94 C288.89,36.12 288.95,34.94 289.19,34.18 C289.43,33.41 289.69,32.74 290.02,32.34 C290.36,31.93 290.79,31.72 291.18,31.72Z" fill="url(#mg)"/>
<rect x="233.40" y="63.00" width="64.20" height="30.60" fill="#3a3a3a"/>
<path d="M239.82,63.92 C240.21,63.92 240.64,64.12 240.98,64.53 C241.31,64.94 241.57,65.60 241.81,66.37 C242.05,67.13 242.11,68.30 242.39,69.12 C242.67,69.94 243.08,70.60 243.48,71.26 C243.88,71.92 244.57,72.33 244.76,73.10 C244.96,73.86 244.57,74.73 244.63,75.85 C244.70,76.97 245.04,78.40 245.15,79.83 C245.26,81.26 245.31,83.04 245.28,84.42 C245.24,85.80 244.92,87.02 244.96,88.09 C244.99,89.16 245.53,90.16 245.47,90.85 C245.41,91.53 245.02,92.27 244.57,92.22 C244.12,92.17 243.31,90.67 242.77,90.54 C242.24,90.41 241.79,91.13 241.36,91.46 C240.93,91.79 240.53,92.35 240.21,92.53 C239.88,92.71 239.76,92.71 239.43,92.53 C239.11,92.35 238.71,91.79 238.28,91.46 C237.85,91.13 237.40,90.41 236.87,90.54 C236.33,90.67 235.52,92.17 235.07,92.22 C234.62,92.27 234.23,91.53 234.17,90.85 C234.11,90.16 234.65,89.16 234.68,88.09 C234.72,87.02 234.40,85.80 234.36,84.42 C234.33,83.04 234.38,81.26 234.49,79.83 C234.60,78.40 234.94,76.97 235.00,75.85 C235.07,74.73 234.68,73.86 234.88,73.10 C235.07,72.33 235.76,71.92 236.16,71.26 C236.56,70.60 236.97,69.94 237.25,69.12 C237.53,68.30 237.59,67.13 237.83,66.37 C238.07,65.60 238.33,64.94 238.66,64.53 C239.00,64.12 239.43,63.92 239.82,63.92Z" fill="url(#mg)"/>
<path d="M252.66,63.92 C253.05,63.92 253.48,64.12 253.82,64.53 C254.15,64.94 254.41,65.60 254.65,66.37 C254.89,67.13 254.95,68.30 255.23,69.12 C255.51,69.94 255.92,70.60 256.32,71.26 C256.72,71.92 257.41,72.33 257.60,73.10 C257.80,73.86 257.41,74.73 257.48,75.85 C257.54,76.97 257.88,78.40 257.99,79.83 C258.10,81.26 258.15,83.04 258.12,84.42 C258.08,85.80 257.76,87.02 257.80,88.09 C257.83,89.16 258.37,90.16 258.31,90.85 C258.25,91.53 257.86,92.27 257.41,92.22 C256.96,92.17 256.15,90.67 255.61,90.54 C255.08,90.41 254.63,91.13 254.20,91.46 C253.77,91.79 253.37,92.35 253.05,92.53 C252.72,92.71 252.60,92.71 252.27,92.53 C251.95,92.35 251.55,91.79 251.12,91.46 C250.69,91.13 250.24,90.41 249.71,90.54 C249.17,90.67 248.36,92.17 247.91,92.22 C247.46,92.27 247.07,91.53 247.01,90.85 C246.95,90.16 247.49,89.16 247.52,88.09 C247.56,87.02 247.24,85.80 247.20,84.42 C247.17,83.04 247.22,81.26 247.33,79.83 C247.44,78.40 247.78,76.97 247.85,75.85 C247.91,74.73 247.52,73.86 247.72,73.10 C247.91,72.33 248.60,71.92 249.00,71.26 C249.40,70.60 249.81,69.94 250.09,69.12 C250.37,68.30 250.43,67.13 250.67,66.37 C250.91,65.60 251.17,64.94 251.50,64.53 C251.84,64.12 252.27,63.92 252.66,63.92Z" fill="url(#mg)"/>
<path d="M265.50,63.92 C265.89,63.92 266.32,64.12 266.66,64.53 C266.99,64.94 267.25,65.60 267.49,66.37 C267.73,67.13 267.79,68.30 268.07,69.12 C268.35,69.94 268.76,70.60 269.16,71.26 C269.56,71.92 270.25,72.33 270.44,73.10 C270.64,73.86 270.25,74.73 270.32,75.85 C270.38,76.97 270.72,78.40 270.83,79.83 C270.94,81.26 270.99,83.04 270.96,84.42 C270.92,85.80 270.60,87.02 270.64,88.09 C270.67,89.16 271.21,90.16 271.15,90.85 C271.09,91.53 270.70,92.27 270.25,92.22 C269.80,92.17 268.99,90.67 268.45,90.54 C267.92,90.41 267.47,91.13 267.04,91.46 C266.61,91.79 266.21,92.35 265.89,92.53 C265.56,92.71 265.44,92.71 265.11,92.53 C264.79,92.35 264.39,91.79 263.96,91.46 C263.53,91.13 263.08,90.41 262.55,90.54 C262.01,90.67 261.20,92.17 260.75,92.22 C260.30,92.27 259.91,91.53 259.85,90.85 C259.79,90.16 260.33,89.16 260.36,88.09 C260.40,87.02 260.08,85.80 260.04,84.42 C260.01,83.04 260.06,81.26 260.17,79.83 C260.28,78.40 260.62,76.97 260.69,75.85 C260.75,74.73 260.36,73.86 260.56,73.10 C260.75,72.33 261.44,71.92 261.84,71.26 C262.24,70.60 262.65,69.94 262.93,69.12 C263.21,68.30 263.27,67.13 263.51,66.37 C263.75,65.60 264.01,64.94 264.34,64.53 C264.68,64.12 265.11,63.92 265.50,63.92Z" fill="url(#mg)"/>
<path d="M278.34,63.92 C278.73,63.92 279.16,64.12 279.50,64.53 C279.83,64.94 280.09,65.60 280.33,66.37 C280.57,67.13 280.63,68.30 280.91,69.12 C281.19,69.94 281.60,70.60 282.00,71.26 C282.40,71.92 283.09,72.33 283.28,73.10 C283.48,73.86 283.09,74.73 283.16,75.85 C283.22,76.97 283.56,78.40 283.67,79.83 C283.78,81.26 283.83,83.04 283.80,84.42 C283.76,85.80 283.44,87.02 283.48,88.09 C283.51,89.16 284.05,90.16 283.99,90.85 C283.93,91.53 283.54,92.27 283.09,92.22 C282.64,92.17 281.83,90.67 281.29,90.54 C280.76,90.41 280.31,91.13 279.88,91.46 C279.45,91.79 279.05,92.35 278.73,92.53 C278.40,92.71 278.28,92.71 277.95,92.53 C277.63,92.35 277.23,91.79 276.80,91.46 C276.37,91.13 275.92,90.41 275.39,90.54 C274.85,90.67 274.04,92.17 273.59,92.22 C273.14,92.27 272.75,91.53 272.69,90.85 C272.63,90.16 273.17,89.16 273.20,88.09 C273.24,87.02 272.92,85.80 272.88,84.42 C272.85,83.04 272.90,81.26 273.01,79.83 C273.12,78.40 273.46,76.97 273.53,75.85 C273.59,74.73 273.20,73.86 273.40,73.10 C273.59,72.33 274.28,71.92 274.68,71.26 C275.08,70.60 275.49,69.94 275.77,69.12 C276.05,68.30 276.11,67.13 276.35,66.37 C276.59,65.60 276.85,64.94 277.18,64.53 C277.52,64.12 277.95,63.92 278.34,63.92Z" fill="url(#mg)"/>
<path d="M291.18,63.92 C291.57,63.92 292.00,64.12 292.34,64.53 C292.67,64.94 292.93,65.60 293.17,66.37 C293.41,67.13 293.47,68.30 293.75,69.12 C294.03,69.94 294.44,70.60 294.84,71.26 C295.24,71.92 295.93,72.33 296.12,73.10 C296.32,73.86 295.93,74.73 296.00,75.85 C296.06,76.97 296.40,78.40 296.51,79.83 C296.62,81.26 296.67,83.04 296.64,84.42 C296.60,85.80 296.28,87.02 296.32,88.09 C296.35,89.16 296.89,90.16 296.83,90.85 C296.77,91.53 296.38,92.27 295.93,92.22 C295.48,92.17 294.67,90.67 294.13,90.54 C293.60,90.41 293.15,91.13 292.72,91.46 C292.29,91.79 291.89,92.35 291.57,92.53 C291.24,92.71 291.12,92.71 290.79,92.53 C290.47,92.35 290.07,91.79 289.64,91.46 C289.21,91.13 288.76,90.41 288.23,90.54 C287.69,90.67 286.88,92.17 286.43,92.22 C285.98,92.27 285.59,91.53 285.53,90.85 C285.47,90.16 286.01,89.16 286.04,88.09 C286.08,87.02 285.76,85.80 285.72,84.42 C285.69,83.04 285.74,81.26 285.85,79.83 C285.96,78.40 286.30,76.97 286.37,75.85 C286.43,74.73 286.04,73.86 286.24,73.10 C286.43,72.33 287.12,71.92 287.52,71.26 C287.92,70.60 288.33,69.94 288.61,69.12 C288.89,68.30 288.95,67.13 289.19,66.37 C289.43,65.60 289.69,64.94 290.02,64.53 C290.36,64.12 290.79,63.92 291.18,63.92Z" fill="url(#mg)"/>
<rect x="233.40" y="95.00" width="64.20" height="31.00" fill="#3a3a3a"/>
<path d="M239.82,95.93 C240.21,95.93 240.64,96.14 240.98,96.55 C241.31,96.96 241.57,97.63 241.81,98.41 C242.05,99.19 242.11,100.37 242.39,101.20 C242.67,102.03 243.08,102.70 243.48,103.37 C243.88,104.04 244.57,104.46 244.76,105.23 C244.96,106.00 244.57,106.88 244.63,108.02 C244.70,109.16 245.04,110.60 245.15,112.05 C245.26,113.50 245.31,115.31 245.28,116.70 C245.24,118.09 244.92,119.34 244.96,120.42 C244.99,121.50 245.53,122.51 245.47,123.21 C245.41,123.91 245.02,124.66 244.57,124.61 C244.12,124.55 243.31,123.03 242.77,122.90 C242.24,122.77 241.79,123.49 241.36,123.83 C240.93,124.17 240.53,124.73 240.21,124.91 C239.88,125.10 239.76,125.10 239.43,124.91 C239.11,124.73 238.71,124.17 238.28,123.83 C237.85,123.49 237.40,122.77 236.87,122.90 C236.33,123.03 235.52,124.55 235.07,124.61 C234.62,124.66 234.23,123.91 234.17,123.21 C234.11,122.51 234.65,121.50 234.68,120.42 C234.72,119.34 234.40,118.09 234.36,116.70 C234.33,115.31 234.38,113.50 234.49,112.05 C234.60,110.60 234.94,109.16 235.00,108.02 C235.07,106.88 234.68,106.00 234.88,105.23 C235.07,104.46 235.76,104.04 236.16,103.37 C236.56,102.70 236.97,102.03 237.25,101.20 C237.53,100.37 237.59,99.19 237.83,98.41 C238.07,97.63 238.33,96.96 238.66,96.55 C239.00,96.14 239.43,95.93 239.82,95.93Z" fill="url(#mg)"/>
<path d="M252.66,95.93 C253.05,95.93 253.48,96.14 253.82,96.55 C254.15,96.96 254.41,97.63 254.65,98.41 C254.89,99.19 254.95,100.37 255.23,101.20 C255.51,102.03 255.92,102.70 256.32,103.37 C256.72,104.04 257.41,104.46 257.60,105.23 C257.80,106.00 257.41,106.88 257.48,108.02 C257.54,109.16 257.88,110.60 257.99,112.05 C258.10,113.50 258.15,115.31 258.12,116.70 C258.08,118.09 257.76,119.34 257.80,120.42 C257.83,121.50 258.37,122.51 258.31,123.21 C258.25,123.91 257.86,124.66 257.41,124.61 C256.96,124.55 256.15,123.03 255.61,122.90 C255.08,122.77 254.63,123.49 254.20,123.83 C253.77,124.17 253.37,124.73 253.05,124.91 C252.72,125.10 252.60,125.10 252.27,124.91 C251.95,124.73 251.55,124.17 251.12,123.83 C250.69,123.49 250.24,122.77 249.71,122.90 C249.17,123.03 248.36,124.55 247.91,124.61 C247.46,124.66 247.07,123.91 247.01,123.21 C246.95,122.51 247.49,121.50 247.52,120.42 C247.56,119.34 247.24,118.09 247.20,116.70 C247.17,115.31 247.22,113.50 247.33,112.05 C247.44,110.60 247.78,109.16 247.85,108.02 C247.91,106.88 247.52,106.00 247.72,105.23 C247.91,104.46 248.60,104.04 249.00,103.37 C249.40,102.70 249.81,102.03 250.09,101.20 C250.37,100.37 250.43,99.19 250.67,98.41 C250.91,97.63 251.17,96.96 251.50,96.55 C251.84,96.14 252.27,95.93 252.66,95.93Z" fill="url(#mg)"/>
<path d="M265.50,95.93 C265.89,95.93 266.32,96.14 266.66,96.55 C266.99,96.96 267.25,97.63 267.49,98.41 C267.73,99.19 267.79,100.37 268.07,101.20 C268.35,102.03 268.76,102.70 269.16,103.37 C269.56,104.04 270.25,104.46 270.44,105.23 C270.64,106.00 270.25,106.88 270.32,108.02 C270.38,109.16 270.72,110.60 270.83,112.05 C270.94,113.50 270.99,115.31 270.96,116.70 C270.92,118.09 270.60,119.34 270.64,120.42 C270.67,121.50 271.21,122.51 271.15,123.21 C271.09,123.91 270.70,124.66 270.25,124.61 C269.80,124.55 268.99,123.03 268.45,122.90 C267.92,122.77 267.47,123.49 267.04,123.83 C266.61,124.17 266.21,124.73 265.89,124.91 C265.56,125.10 265.44,125.10 265.11,124.91 C264.79,124.73 264.39,124.17 263.96,123.83 C263.53,123.49 263.08,122.77 262.55,122.90 C262.01,123.03 261.20,124.55 260.75,124.61 C260.30,124.66 259.91,123.91 259.85,123.21 C259.79,122.51 260.33,121.50 260.36,120.42 C260.40,119.34 260.08,118.09 260.04,116.70 C260.01,115.31 260.06,113.50 260.17,112.05 C260.28,110.60 260.62,109.16 260.69,108.02 C260.75,106.88 260.36,106.00 260.56,105.23 C260.75,104.46 261.44,104.04 261.84,103.37 C262.24,102.70 262.65,102.03 262.93,101.20 C263.21,100.37 263.27,99.19 263.51,98.41 C263.75,97.63 264.01,96.96 264.34,96.55 C264.68,96.14 265.11,95.93 265.50,95.93Z" fill="url(#mg)"/>
<path d="M278.34,95.93 C278.73,95.93 279.16,96.14 279.50,96.55 C279.83,96.96 280.09,97.63 280.33,98.41 C280.57,99.19 280.63,100.37 280.91,101.20 C281.19,102.03 281.60,102.70 282.00,103.37 C282.40,104.04 283.09,104.46 283.28,105.23 C283.48,106.00 283.09,106.88 283.16,108.02 C283.22,109.16 283.56,110.60 283.67,112.05 C283.78,113.50 283.83,115.31 283.80,116.70 C283.76,118.09 283.44,119.34 283.48,120.42 C283.51,121.50 284.05,122.51 283.99,123.21 C283.93,123.91 283.54,124.66 283.09,124.61 C282.64,124.55 281.83,123.03 281.29,122.90 C280.76,122.77 280.31,123.49 279.88,123.83 C279.45,124.17 279.05,124.73 278.73,124.91 C278.40,125.10 278.28,125.10 277.95,124.91 C277.63,124.73 277.23,124.17 276.80,123.83 C276.37,123.49 275.92,122.77 275.39,122.90 C274.85,123.03 274.04,124.55 273.59,124.61 C273.14,124.66 272.75,123.91 272.69,123.21 C272.63,122.51 273.17,121.50 273.20,120.42 C273.24,119.34 272.92,118.09 272.88,116.70 C272.85,115.31 272.90,113.50 273.01,112.05 C273.12,110.60 273.46,109.16 273.53,108.02 C273.59,106.88 273.20,106.00 273.40,105.23 C273.59,104.46 274.28,104.04 274.68,103.37 C275.08,102.70 275.49,102.03 275.77,101.20 C276.05,100.37 276.11,99.19 276.35,98.41 C276.59,97.63 276.85,96.96 277.18,96.55 C277.52,96.14 277.95,95.93 278.34,95.93Z" fill="url(#mg)"/>
<path d="M291.18,95.93 C291.57,95.93 292.00,96.14 292.34,96.55 C292.67,96.96 292.93,97.63 293.17,98.41 C293.41,99.19 293.47,100.37 293.75,101.20 C294.03,102.03 294.44,102.70 294.84,103.37 C295.24,104.04 295.93,104.46 296.12,105.23 C296.32,106.00 295.93,106.88 296.00,108.02 C296.06,109.16 296.40,110.60 296.51,112.05 C296.62,113.50 296.67,115.31 296.64,116.70 C296.60,118.09 296.28,119.34 296.32,120.42 C296.35,121.50 296.89,122.51 296.83,123.21 C296.77,123.91 296.38,124.66 295.93,124.61 C295.48,124.55 294.67,123.03 294.13,122.90 C293.60,122.77 293.15,123.49 292.72,123.83 C292.29,124.17 291.89,124.73 291.57,124.91 C291.24,125.10 291.12,125.10 290.79,124.91 C290.47,124.73 290.07,124.17 289.64,123.83 C289.21,123.49 288.76,122.77 288.23,122.90 C287.69,123.03 286.88,124.55 286.43,124.61 C285.98,124.66 285.59,123.91 285.53,123.21 C285.47,122.51 286.01,121.50 286.04,120.42 C286.08,119.34 285.76,118.09 285.72,116.70 C285.69,115.31 285.74,113.50 285.85,112.05 C285.96,110.60 286.30,109.16 286.37,108.02 C286.43,106.88 286.04,106.00 286.24,105.23 C286.43,104.46 287.12,104.04 287.52,103.37 C287.92,102.70 288.33,102.03 288.61,101.20 C288.89,100.37 288.95,99.19 289.19,98.41 C289.43,97.63 289.69,96.96 290.02,96.55 C290.36,96.14 290.79,95.93 291.18,95.93Z" fill="url(#mg)"/>
<text x="330.90" y="27.00" font-size="8.2" text-anchor="middle">BMS961+Cfz</text>
<line x1="300.30" y1="29.50" x2="361.50" y2="29.50" stroke="#555" stroke-width="1"/>
<rect x="298.80" y="30.80" width="64.20" height="30.70" fill="#3a3a3a"/>
<path d="M305.22,31.72 C305.61,31.72 306.04,31.93 306.38,32.34 C306.71,32.74 306.97,33.41 307.21,34.18 C307.45,34.94 307.51,36.12 307.79,36.94 C308.07,37.76 308.48,38.42 308.88,39.09 C309.28,39.75 309.97,40.16 310.16,40.93 C310.36,41.70 309.97,42.57 310.04,43.69 C310.10,44.82 310.44,46.25 310.55,47.69 C310.66,49.12 310.71,50.91 310.68,52.29 C310.64,53.67 310.32,54.90 310.36,55.97 C310.39,57.05 310.93,58.05 310.87,58.74 C310.81,59.43 310.42,60.17 309.97,60.12 C309.52,60.07 308.71,58.56 308.17,58.43 C307.64,58.30 307.19,59.02 306.76,59.35 C306.33,59.68 305.93,60.25 305.61,60.43 C305.28,60.60 305.16,60.60 304.83,60.43 C304.51,60.25 304.11,59.68 303.68,59.35 C303.25,59.02 302.80,58.30 302.27,58.43 C301.73,58.56 300.92,60.07 300.47,60.12 C300.02,60.17 299.63,59.43 299.57,58.74 C299.51,58.05 300.05,57.05 300.08,55.97 C300.12,54.90 299.80,53.67 299.76,52.29 C299.73,50.91 299.78,49.12 299.89,47.69 C300.00,46.25 300.34,44.82 300.41,43.69 C300.47,42.57 300.08,41.70 300.28,40.93 C300.47,40.16 301.16,39.75 301.56,39.09 C301.96,38.42 302.37,37.76 302.65,36.94 C302.93,36.12 302.99,34.94 303.23,34.18 C303.47,33.41 303.73,32.74 304.06,32.34 C304.40,31.93 304.83,31.72 305.22,31.72Z" fill="url(#mg)"/>
<path d="M318.06,31.72 C318.45,31.72 318.88,31.93 319.22,32.34 C319.55,32.74 319.81,33.41 320.05,34.18 C320.29,34.94 320.35,36.12 320.63,36.94 C320.91,37.76 321.32,38.42 321.72,39.09 C322.12,39.75 322.81,40.16 323.00,40.93 C323.20,41.70 322.81,42.57 322.88,43.69 C322.94,44.82 323.28,46.25 323.39,47.69 C323.50,49.12 323.55,50.91 323.52,52.29 C323.48,53.67 323.16,54.90 323.20,55.97 C323.23,57.05 323.77,58.05 323.71,58.74 C323.65,59.43 323.26,60.17 322.81,60.12 C322.36,60.07 321.55,58.56 321.01,58.43 C320.48,58.30 320.03,59.02 319.60,59.35 C319.17,59.68 318.77,60.25 318.45,60.43 C318.12,60.60 318.00,60.60 317.67,60.43 C317.35,60.25 316.95,59.68 316.52,59.35 C316.09,59.02 315.64,58.30 315.11,58.43 C314.57,58.56 313.76,60.07 313.31,60.12 C312.86,60.17 312.47,59.43 312.41,58.74 C312.35,58.05 312.89,57.05 312.92,55.97 C312.96,54.90 312.64,53.67 312.60,52.29 C312.57,50.91 312.62,49.12 312.73,47.69 C312.84,46.25 313.18,44.82 313.25,43.69 C313.31,42.57 312.92,41.70 313.12,40.93 C313.31,40.16 314.00,39.75 314.40,39.09 C314.80,38.42 315.21,37.76 315.49,36.94 C315.77,36.12 315.83,34.94 316.07,34.18 C316.31,33.41 316.57,32.74 316.90,32.34 C317.24,31.93 317.67,31.72 318.06,31.72Z" fill="url(#mg)"/>
<path d="M330.90,31.72 C331.29,31.72 331.72,31.93 332.06,32.34 C332.39,32.74 332.65,33.41 332.89,34.18 C333.13,34.94 333.19,36.12 333.47,36.94 C333.75,37.76 334.16,38.42 334.56,39.09 C334.96,39.75 335.65,40.16 335.84,40.93 C336.04,41.70 335.65,42.57 335.72,43.69 C335.78,44.82 336.12,46.25 336.23,47.69 C336.34,49.12 336.39,50.91 336.36,52.29 C336.32,53.67 336.00,54.90 336.04,55.97 C336.07,57.05 336.61,58.05 336.55,58.74 C336.49,59.43 336.10,60.17 335.65,60.12 C335.20,60.07 334.39,58.56 333.85,58.43 C333.32,58.30 332.87,59.02 332.44,59.35 C332.01,59.68 331.61,60.25 331.29,60.43 C330.96,60.60 330.84,60.60 330.51,60.43 C330.19,60.25 329.79,59.68 329.36,59.35 C328.93,59.02 328.48,58.30 327.95,58.43 C327.41,58.56 326.60,60.07 326.15,60.12 C325.70,60.17 325.31,59.43 325.25,58.74 C325.19,58.05 325.73,57.05 325.76,55.97 C325.80,54.90 325.48,53.67 325.44,52.29 C325.41,50.91 325.46,49.12 325.57,47.69 C325.68,46.25 326.02,44.82 326.09,43.69 C326.15,42.57 325.76,41.70 325.96,40.93 C326.15,40.16 326.84,39.75 327.24,39.09 C327.64,38.42 328.05,37.76 328.33,36.94 C328.61,36.12 328.67,34.94 328.91,34.18 C329.15,33.41 329.41,32.74 329.74,32.34 C330.08,31.93 330.51,31.72 330.90,31.72Z" fill="url(#mg)"/>
<path d="M343.74,31.72 C344.13,31.72 344.56,31.93 344.90,32.34 C345.23,32.74 345.49,33.41 345.73,34.18 C345.97,34.94 346.03,36.12 346.31,36.94 C346.59,37.76 347.00,38.42 347.40,39.09 C347.80,39.75 348.49,40.16 348.68,40.93 C348.88,41.70 348.49,42.57 348.56,43.69 C348.62,44.82 348.96,46.25 349.07,47.69 C349.18,49.12 349.23,50.91 349.20,52.29 C349.16,53.67 348.84,54.90 348.88,55.97 C348.91,57.05 349.45,58.05 349.39,58.74 C349.33,59.43 348.94,60.17 348.49,60.12 C348.04,60.07 347.23,58.56 346.69,58.43 C346.16,58.30 345.71,59.02 345.28,59.35 C344.85,59.68 344.45,60.25 344.13,60.43 C343.80,60.60 343.68,60.60 343.35,60.43 C343.03,60.25 342.63,59.68 342.20,59.35 C341.77,59.02 341.32,58.30 340.79,58.43 C340.25,58.56 339.44,60.07 338.99,60.12 C338.54,60.17 338.15,59.43 338.09,58.74 C338.03,58.05 338.57,57.05 338.60,55.97 C338.64,54.90 338.32,53.67 338.28,52.29 C338.25,50.91 338.30,49.12 338.41,47.69 C338.52,46.25 338.86,44.82 338.93,43.69 C338.99,42.57 338.60,41.70 338.80,40.93 C338.99,40.16 339.68,39.75 340.08,39.09 C340.48,38.42 340.89,37.76 341.17,36.94 C341.45,36.12 341.51,34.94 341.75,34.18 C341.99,33.41 342.25,32.74 342.58,32.34 C342.92,31.93 343.35,31.72 343.74,31.72Z" fill="url(#mg)"/>
<path d="M356.58,31.72 C356.97,31.72 357.40,31.93 357.74,32.34 C358.07,32.74 358.33,33.41 358.57,34.18 C358.81,34.94 358.87,36.12 359.15,36.94 C359.43,37.76 359.84,38.42 360.24,39.09 C360.64,39.75 361.33,40.16 361.52,40.93 C361.72,41.70 361.33,42.57 361.40,43.69 C361.46,44.82 361.80,46.25 361.91,47.69 C362.02,49.12 362.07,50.91 362.04,52.29 C362.00,53.67 361.68,54.90 361.72,55.97 C361.75,57.05 362.29,58.05 362.23,58.74 C362.17,59.43 361.78,60.17 361.33,60.12 C360.88,60.07 360.07,58.56 359.53,58.43 C359.00,58.30 358.55,59.02 358.12,59.35 C357.69,59.68 357.29,60.25 356.97,60.43 C356.64,60.60 356.52,60.60 356.19,60.43 C355.87,60.25 355.47,59.68 355.04,59.35 C354.61,59.02 354.16,58.30 353.63,58.43 C353.09,58.56 352.28,60.07 351.83,60.12 C351.38,60.17 350.99,59.43 350.93,58.74 C350.87,58.05 351.41,57.05 351.44,55.97 C351.48,54.90 351.16,53.67 351.12,52.29 C351.09,50.91 351.14,49.12 351.25,47.69 C351.36,46.25 351.70,44.82 351.77,43.69 C351.83,42.57 351.44,41.70 351.64,40.93 C351.83,40.16 352.52,39.75 352.92,39.09 C353.32,38.42 353.73,37.76 354.01,36.94 C354.29,36.12 354.35,34.94 354.59,34.18 C354.83,33.41 355.09,32.74 355.42,32.34 C355.76,31.93 356.19,31.72 356.58,31.72Z" fill="url(#mg)"/>
<rect x="298.80" y="63.00" width="64.20" height="30.60" fill="#3a3a3a"/>
<path d="M305.22,63.92 C305.61,63.92 306.04,64.12 306.38,64.53 C306.71,64.94 306.97,65.60 307.21,66.37 C307.45,67.13 307.51,68.30 307.79,69.12 C308.07,69.94 308.48,70.60 308.88,71.26 C309.28,71.92 309.97,72.33 310.16,73.10 C310.36,73.86 309.97,74.73 310.04,75.85 C310.10,76.97 310.44,78.40 310.55,79.83 C310.66,81.26 310.71,83.04 310.68,84.42 C310.64,85.80 310.32,87.02 310.36,88.09 C310.39,89.16 310.93,90.16 310.87,90.85 C310.81,91.53 310.42,92.27 309.97,92.22 C309.52,92.17 308.71,90.67 308.17,90.54 C307.64,90.41 307.19,91.13 306.76,91.46 C306.33,91.79 305.93,92.35 305.61,92.53 C305.28,92.71 305.16,92.71 304.83,92.53 C304.51,92.35 304.11,91.79 303.68,91.46 C303.25,91.13 302.80,90.41 302.27,90.54 C301.73,90.67 300.92,92.17 300.47,92.22 C300.02,92.27 299.63,91.53 299.57,90.85 C299.51,90.16 300.05,89.16 300.08,88.09 C300.12,87.02 299.80,85.80 299.76,84.42 C299.73,83.04 299.78,81.26 299.89,79.83 C300.00,78.40 300.34,76.97 300.41,75.85 C300.47,74.73 300.08,73.86 300.28,73.10 C300.47,72.33 301.16,71.92 301.56,71.26 C301.96,70.60 302.37,69.94 302.65,69.12 C302.93,68.30 302.99,67.13 303.23,66.37 C303.47,65.60 303.73,64.94 304.06,64.53 C304.40,64.12 304.83,63.92 305.22,63.92Z" fill="url(#mg)"/>
<path d="M318.06,63.92 C318.45,63.92 318.88,64.12 319.22,64.53 C319.55,64.94 319.81,65.60 320.05,66.37 C320.29,67.13 320.35,68.30 320.63,69.12 C320.91,69.94 321.32,70.60 321.72,71.26 C322.12,71.92 322.81,72.33 323.00,73.10 C323.20,73.86 322.81,74.73 322.88,75.85 C322.94,76.97 323.28,78.40 323.39,79.83 C323.50,81.26 323.55,83.04 323.52,84.42 C323.48,85.80 323.16,87.02 323.20,88.09 C323.23,89.16 323.77,90.16 323.71,90.85 C323.65,91.53 323.26,92.27 322.81,92.22 C322.36,92.17 321.55,90.67 321.01,90.54 C320.48,90.41 320.03,91.13 319.60,91.46 C319.17,91.79 318.77,92.35 318.45,92.53 C318.12,92.71 318.00,92.71 317.67,92.53 C317.35,92.35 316.95,91.79 316.52,91.46 C316.09,91.13 315.64,90.41 315.11,90.54 C314.57,90.67 313.76,92.17 313.31,92.22 C312.86,92.27 312.47,91.53 312.41,90.85 C312.35,90.16 312.89,89.16 312.92,88.09 C312.96,87.02 312.64,85.80 312.60,84.42 C312.57,83.04 312.62,81.26 312.73,79.83 C312.84,78.40 313.18,76.97 313.25,75.85 C313.31,74.73 312.92,73.86 313.12,73.10 C313.31,72.33 314.00,71.92 314.40,71.26 C314.80,70.60 315.21,69.94 315.49,69.12 C315.77,68.30 315.83,67.13 316.07,66.37 C316.31,65.60 316.57,64.94 316.90,64.53 C317.24,64.12 317.67,63.92 318.06,63.92Z" fill="url(#mg)"/>
<path d="M330.90,63.92 C331.29,63.92 331.72,64.12 332.06,64.53 C332.39,64.94 332.65,65.60 332.89,66.37 C333.13,67.13 333.19,68.30 333.47,69.12 C333.75,69.94 334.16,70.60 334.56,71.26 C334.96,71.92 335.65,72.33 335.84,73.10 C336.04,73.86 335.65,74.73 335.72,75.85 C335.78,76.97 336.12,78.40 336.23,79.83 C336.34,81.26 336.39,83.04 336.36,84.42 C336.32,85.80 336.00,87.02 336.04,88.09 C336.07,89.16 336.61,90.16 336.55,90.85 C336.49,91.53 336.10,92.27 335.65,92.22 C335.20,92.17 334.39,90.67 333.85,90.54 C333.32,90.41 332.87,91.13 332.44,91.46 C332.01,91.79 331.61,92.35 331.29,92.53 C330.96,92.71 330.84,92.71 330.51,92.53 C330.19,92.35 329.79,91.79 329.36,91.46 C328.93,91.13 328.48,90.41 327.95,90.54 C327.41,90.67 326.60,92.17 326.15,92.22 C325.70,92.27 325.31,91.53 325.25,90.85 C325.19,90.16 325.73,89.16 325.76,88.09 C325.80,87.02 325.48,85.80 325.44,84.42 C325.41,83.04 325.46,81.26 325.57,79.83 C325.68,78.40 326.02,76.97 326.09,75.85 C326.15,74.73 325.76,73.86 325.96,73.10 C326.15,72.33 326.84,71.92 327.24,71.26 C327.64,70.60 328.05,69.94 328.33,69.12 C328.61,68.30 328.67,67.13 328.91,66.37 C329.15,65.60 329.41,64.94 329.74,64.53 C330.08,64.12 330.51,63.92 330.90,63.92Z" fill="url(#mg)"/>
<path d="M343.74,63.92 C344.13,63.92 344.56,64.12 344.90,64.53 C345.23,64.94 345.49,65.60 345.73,66.37 C345.97,67.13 346.03,68.30 346.31,69.12 C346.59,69.94 347.00,70.60 347.40,71.26 C347.80,71.92 348.49,72.33 348.68,73.10 C348.88,73.86 348.49,74.73 348.56,75.85 C348.62,76.97 348.96,78.40 349.07,79.83 C349.18,81.26 349.23,83.04 349.20,84.42 C349.16,85.80 348.84,87.02 348.88,88.09 C348.91,89.16 349.45,90.16 349.39,90.85 C349.33,91.53 348.94,92.27 348.49,92.22 C348.04,92.17 347.23,90.67 346.69,90.54 C346.16,90.41 345.71,91.13 345.28,91.46 C344.85,91.79 344.45,92.35 344.13,92.53 C343.80,92.71 343.68,92.71 343.35,92.53 C343.03,92.35 342.63,91.79 342.20,91.46 C341.77,91.13 341.32,90.41 340.79,90.54 C340.25,90.67 339.44,92.17 338.99,92.22 C338.54,92.27 338.15,91.53 338.09,90.85 C338.03,90.16 338.57,89.16 338.60,88.09 C338.64,87.02 338.32,85.80 338.28,84.42 C338.25,83.04 338.30,81.26 338.41,79.83 C338.52,78.40 338.86,76.97 338.93,75.85 C338.99,74.73 338.60,73.86 338.80,73.10 C338.99,72.33 339.68,71.92 340.08,71.26 C340.48,70.60 340.89,69.94 341.17,69.12 C341.45,68.30 341.51,67.13 341.75,66.37 C341.99,65.60 342.25,64.94 342.58,64.53 C342.92,64.12 343.35,63.92 343.74,63.92Z" fill="url(#mg)"/>
<path d="M356.58,63.92 C356.97,63.92 357.40,64.12 357.74,64.53 C358.07,64.94 358.33,65.60 358.57,66.37 C358.81,67.13 358.87,68.30 359.15,69.12 C359.43,69.94 359.84,70.60 360.24,71.26 C360.64,71.92 361.33,72.33 361.52,73.10 C361.72,73.86 361.33,74.73 361.40,75.85 C361.46,76.97 361.80,78.40 361.91,79.83 C362.02,81.26 362.07,83.04 362.04,84.42 C362.00,85.80 361.68,87.02 361.72,88.09 C361.75,89.16 362.29,90.16 362.23,90.85 C362.17,91.53 361.78,92.27 361.33,92.22 C360.88,92.17 360.07,90.67 359.53,90.54 C359.00,90.41 358.55,91.13 358.12,91.46 C357.69,91.79 357.29,92.35 356.97,92.53 C356.64,92.71 356.52,92.71 356.19,92.53 C355.87,92.35 355.47,91.79 355.04,91.46 C354.61,91.13 354.16,90.41 353.63,90.54 C353.09,90.67 352.28,92.17 351.83,92.22 C351.38,92.27 350.99,91.53 350.93,90.85 C350.87,90.16 351.41,89.16 351.44,88.09 C351.48,87.02 351.16,85.80 351.12,84.42 C351.09,83.04 351.14,81.26 351.25,79.83 C351.36,78.40 351.70,76.97 351.77,75.85 C351.83,74.73 351.44,73.86 351.64,73.10 C351.83,72.33 352.52,71.92 352.92,71.26 C353.32,70.60 353.73,69.94 354.01,69.12 C354.29,68.30 354.35,67.13 354.59,66.37 C354.83,65.60 355.09,64.94 355.42,64.53 C355.76,64.12 356.19,63.92 356.58,63.92Z" fill="url(#mg)"/>
<rect x="298.80" y="95.00" width="64.20" height="31.00" fill="#3a3a3a"/>
<path d="M305.22,95.93 C305.61,95.93 306.04,96.14 306.38,96.55 C306.71,96.96 306.97,97.63 307.21,98.41 C307.45,99.19 307.51,100.37 307.79,101.20 C308.07,102.03 308.48,102.70 308.88,103.37 C309.28,104.04 309.97,104.46 310.16,105.23 C310.36,106.00 309.97,106.88 310.04,108.02 C310.10,109.16 310.44,110.60 310.55,112.05 C310.66,113.50 310.71,115.31 310.68,116.70 C310.64,118.09 310.32,119.34 310.36,120.42 C310.39,121.50 310.93,122.51 310.87,123.21 C310.81,123.91 310.42,124.66 309.97,124.61 C309.52,124.55 308.71,123.03 308.17,122.90 C307.64,122.77 307.19,123.49 306.76,123.83 C306.33,124.17 305.93,124.73 305.61,124.91 C305.28,125.10 305.16,125.10 304.83,124.91 C304.51,124.73 304.11,124.17 303.68,123.83 C303.25,123.49 302.80,122.77 302.27,122.90 C301.73,123.03 300.92,124.55 300.47,124.61 C300.02,124.66 299.63,123.91 299.57,123.21 C299.51,122.51 300.05,121.50 300.08,120.42 C300.12,119.34 299.80,118.09 299.76,116.70 C299.73,115.31 299.78,113.50 299.89,112.05 C300.00,110.60 300.34,109.16 300.41,108.02 C300.47,106.88 300.08,106.00 300.28,105.23 C300.47,104.46 301.16,104.04 301.56,103.37 C301.96,102.70 302.37,102.03 302.65,101.20 C302.93,100.37 302.99,99.19 303.23,98.41 C303.47,97.63 303.73,96.96 304.06,96.55 C304.40,96.14 304.83,95.93 305.22,95.93Z" fill="url(#mg)"/>
<path d="M318.06,95.93 C318.45,95.93 318.88,96.14 319.22,96.55 C319.55,96.96 319.81,97.63 320.05,98.41 C320.29,99.19 320.35,100.37 320.63,101.20 C320.91,102.03 321.32,102.70 321.72,103.37 C322.12,104.04 322.81,104.46 323.00,105.23 C323.20,106.00 322.81,106.88 322.88,108.02 C322.94,109.16 323.28,110.60 323.39,112.05 C323.50,113.50 323.55,115.31 323.52,116.70 C323.48,118.09 323.16,119.34 323.20,120.42 C323.23,121.50 323.77,122.51 323.71,123.21 C323.65,123.91 323.26,124.66 322.81,124.61 C322.36,124.55 321.55,123.03 321.01,122.90 C320.48,122.77 320.03,123.49 319.60,123.83 C319.17,124.17 318.77,124.73 318.45,124.91 C318.12,125.10 318.00,125.10 317.67,124.91 C317.35,124.73 316.95,124.17 316.52,123.83 C316.09,123.49 315.64,122.77 315.11,122.90 C314.57,123.03 313.76,124.55 313.31,124.61 C312.86,124.66 312.47,123.91 312.41,123.21 C312.35,122.51 312.89,121.50 312.92,120.42 C312.96,119.34 312.64,118.09 312.60,116.70 C312.57,115.31 312.62,113.50 312.73,112.05 C312.84,110.60 313.18,109.16 313.25,108.02 C313.31,106.88 312.92,106.00 313.12,105.23 C313.31,104.46 314.00,104.04 314.40,103.37 C314.80,102.70 315.21,102.03 315.49,101.20 C315.77,100.37 315.83,99.19 316.07,98.41 C316.31,97.63 316.57,96.96 316.90,96.55 C317.24,96.14 317.67,95.93 318.06,95.93Z" fill="url(#mg)"/>
<path d="M330.90,95.93 C331.29,95.93 331.72,96.14 332.06,96.55 C332.39,96.96 332.65,97.63 332.89,98.41 C333.13,99.19 333.19,100.37 333.47,101.20 C333.75,102.03 334.16,102.70 334.56,103.37 C334.96,104.04 335.65,104.46 335.84,105.23 C336.04,106.00 335.65,106.88 335.72,108.02 C335.78,109.16 336.12,110.60 336.23,112.05 C336.34,113.50 336.39,115.31 336.36,116.70 C336.32,118.09 336.00,119.34 336.04,120.42 C336.07,121.50 336.61,122.51 336.55,123.21 C336.49,123.91 336.10,124.66 335.65,124.61 C335.20,124.55 334.39,123.03 333.85,122.90 C333.32,122.77 332.87,123.49 332.44,123.83 C332.01,124.17 331.61,124.73 331.29,124.91 C330.96,125.10 330.84,125.10 330.51,124.91 C330.19,124.73 329.79,124.17 329.36,123.83 C328.93,123.49 328.48,122.77 327.95,122.90 C327.41,123.03 326.60,124.55 326.15,124.61 C325.70,124.66 325.31,123.91 325.25,123.21 C325.19,122.51 325.73,121.50 325.76,120.42 C325.80,119.34 325.48,118.09 325.44,116.70 C325.41,115.31 325.46,113.50 325.57,112.05 C325.68,110.60 326.02,109.16 326.09,108.02 C326.15,106.88 325.76,106.00 325.96,105.23 C326.15,104.46 326.84,104.04 327.24,103.37 C327.64,102.70 328.05,102.03 328.33,101.20 C328.61,100.37 328.67,99.19 328.91,98.41 C329.15,97.63 329.41,96.96 329.74,96.55 C330.08,96.14 330.51,95.93 330.90,95.93Z" fill="url(#mg)"/>
<path d="M343.74,95.93 C344.13,95.93 344.56,96.14 344.90,96.55 C345.23,96.96 345.49,97.63 345.73,98.41 C345.97,99.19 346.03,100.37 346.31,101.20 C346.59,102.03 347.00,102.70 347.40,103.37 C347.80,104.04 348.49,104.46 348.68,105.23 C348.88,106.00 348.49,106.88 348.56,108.02 C348.62,109.16 348.96,110.60 349.07,112.05 C349.18,113.50 349.23,115.31 349.20,116.70 C349.16,118.09 348.84,119.34 348.88,120.42 C348.91,121.50 349.45,122.51 349.39,123.21 C349.33,123.91 348.94,124.66 348.49,124.61 C348.04,124.55 347.23,123.03 346.69,122.90 C346.16,122.77 345.71,123.49 345.28,123.83 C344.85,124.17 344.45,124.73 344.13,124.91 C343.80,125.10 343.68,125.10 343.35,124.91 C343.03,124.73 342.63,124.17 342.20,123.83 C341.77,123.49 341.32,122.77 340.79,122.90 C340.25,123.03 339.44,124.55 338.99,124.61 C338.54,124.66 338.15,123.91 338.09,123.21 C338.03,122.51 338.57,121.50 338.60,120.42 C338.64,119.34 338.32,118.09 338.28,116.70 C338.25,115.31 338.30,113.50 338.41,112.05 C338.52,110.60 338.86,109.16 338.93,108.02 C338.99,106.88 338.60,106.00 338.80,105.23 C338.99,104.46 339.68,104.04 340.08,103.37 C340.48,102.70 340.89,102.03 341.17,101.20 C341.45,100.37 341.51,99.19 341.75,98.41 C341.99,97.63 342.25,96.96 342.58,96.55 C342.92,96.14 343.35,95.93 343.74,95.93Z" fill="url(#mg)"/>
<path d="M356.58,95.93 C356.97,95.93 357.40,96.14 357.74,96.55 C358.07,96.96 358.33,97.63 358.57,98.41 C358.81,99.19 358.87,100.37 359.15,101.20 C359.43,102.03 359.84,102.70 360.24,103.37 C360.64,104.04 361.33,104.46 361.52,105.23 C361.72,106.00 361.33,106.88 361.40,108.02 C361.46,109.16 361.80,110.60 361.91,112.05 C362.02,113.50 362.07,115.31 362.04,116.70 C362.00,118.09 361.68,119.34 361.72,120.42 C361.75,121.50 362.29,122.51 362.23,123.21 C362.17,123.91 361.78,124.66 361.33,124.61 C360.88,124.55 360.07,123.03 359.53,122.90 C359.00,122.77 358.55,123.49 358.12,123.83 C357.69,124.17 357.29,124.73 356.97,124.91 C356.64,125.10 356.52,125.10 356.19,124.91 C355.87,124.73 355.47,124.17 355.04,123.83 C354.61,123.49 354.16,122.77 353.63,122.90 C353.09,123.03 352.28,124.55 351.83,124.61 C351.38,124.66 350.99,123.91 350.93,123.21 C350.87,122.51 351.41,121.50 351.44,120.42 C351.48,119.34 351.16,118.09 351.12,116.70 C351.09,115.31 351.14,113.50 351.25,112.05 C351.36,110.60 351.70,109.16 351.77,108.02 C351.83,106.88 351.44,106.00 351.64,105.23 C351.83,104.46 352.52,104.04 352.92,103.37 C353.32,102.70 353.73,102.03 354.01,101.20 C354.29,100.37 354.35,99.19 354.59,98.41 C354.83,97.63 355.09,96.96 355.42,96.55 C355.76,96.14 356.19,95.93 356.58,95.93Z" fill="url(#mg)"/>
<filter id="nz" x="0" y="0" width="100%" height="100%"><feTurbulence type="fractalNoise" baseFrequency="0.28" numOctaves="2" seed="5"/><feColorMatrix type="matrix" values="0 0 0 0 0  0 0 0 0 0  0 0 0 0 0  1.3 0 0 0 -0.56"/></filter>
<rect x="7" y="30.8" width="356" height="95.2" filter="url(#nz)" opacity="0.55"/>
<line x1="19.75" y1="30.80" x2="19.75" y2="61.50" stroke="#cfcfcf" stroke-width="1.0"/>
<line x1="32.50" y1="30.80" x2="32.50" y2="61.50" stroke="#cfcfcf" stroke-width="1.0"/>
<line x1="45.25" y1="30.80" x2="45.25" y2="61.50" stroke="#cfcfcf" stroke-width="1.0"/>
<line x1="19.75" y1="63.00" x2="19.75" y2="93.60" stroke="#cfcfcf" stroke-width="1.0"/>
<line x1="32.50" y1="63.00" x2="32.50" y2="93.60" stroke="#cfcfcf" stroke-width="1.0"/>
<line x1="45.25" y1="63.00" x2="45.25" y2="93.60" stroke="#cfcfcf" stroke-width="1.0"/>
<line x1="19.75" y1="95.00" x2="19.75" y2="126.00" stroke="#cfcfcf" stroke-width="1.0"/>
<line x1="32.50" y1="95.00" x2="32.50" y2="126.00" stroke="#cfcfcf" stroke-width="1.0"/>
<line x1="45.25" y1="95.00" x2="45.25" y2="126.00" stroke="#cfcfcf" stroke-width="1.0"/>
<line x1="72.65" y1="30.80" x2="72.65" y2="61.50" stroke="#cfcfcf" stroke-width="1.0"/>
<line x1="85.60" y1="30.80" x2="85.60" y2="61.50" stroke="#cfcfcf" stroke-width="1.0"/>
<line x1="98.55" y1="30.80" x2="98.55" y2="61.50" stroke="#cfcfcf" stroke-width="1.0"/>
<line x1="72.65" y1="63.00" x2="72.65" y2="93.60" stroke="#cfcfcf" stroke-width="1.0"/>
<line x1="85.60" y1="63.00" x2="85.60" y2="93.60" stroke="#cfcfcf" stroke-width="1.0"/>
<line x1="98.55" y1="63.00" x2="98.55" y2="93.60" stroke="#cfcfcf" stroke-width="1.0"/>
<line x1="72.65" y1="95.00" x2="72.65" y2="126.00" stroke="#cfcfcf" stroke-width="1.0"/>
<line x1="85.60" y1="95.00" x2="85.60" y2="126.00" stroke="#cfcfcf" stroke-width="1.0"/>
<line x1="98.55" y1="95.00" x2="98.55" y2="126.00" stroke="#cfcfcf" stroke-width="1.0"/>
<line x1="125.92" y1="30.80" x2="125.92" y2="61.50" stroke="#cfcfcf" stroke-width="1.0"/>
<line x1="139.05" y1="30.80" x2="139.05" y2="61.50" stroke="#cfcfcf" stroke-width="1.0"/>
<line x1="152.18" y1="30.80" x2="152.18" y2="61.50" stroke="#cfcfcf" stroke-width="1.0"/>
<line x1="125.92" y1="63.00" x2="125.92" y2="93.60" stroke="#cfcfcf" stroke-width="1.0"/>
<line x1="139.05" y1="63.00" x2="139.05" y2="93.60" stroke="#cfcfcf" stroke-width="1.0"/>
<line x1="152.18" y1="63.00" x2="152.18" y2="93.60" stroke="#cfcfcf" stroke-width="1.0"/>
<line x1="125.92" y1="95.00" x2="125.92" y2="126.00" stroke="#cfcfcf" stroke-width="1.0"/>
<line x1="139.05" y1="95.00" x2="139.05" y2="126.00" stroke="#cfcfcf" stroke-width="1.0"/>
<line x1="152.18" y1="95.00" x2="152.18" y2="126.00" stroke="#cfcfcf" stroke-width="1.0"/>
<line x1="179.86" y1="30.80" x2="179.86" y2="61.50" stroke="#cfcfcf" stroke-width="1.0"/>
<line x1="193.02" y1="30.80" x2="193.02" y2="61.50" stroke="#cfcfcf" stroke-width="1.0"/>
<line x1="206.18" y1="30.80" x2="206.18" y2="61.50" stroke="#cfcfcf" stroke-width="1.0"/>
<line x1="219.34" y1="30.80" x2="219.34" y2="61.50" stroke="#cfcfcf" stroke-width="1.0"/>
<line x1="179.86" y1="63.00" x2="179.86" y2="93.60" stroke="#cfcfcf" stroke-width="1.0"/>
<line x1="193.02" y1="63.00" x2="193.02" y2="93.60" stroke="#cfcfcf" stroke-width="1.0"/>
<line x1="206.18" y1="63.00" x2="206.18" y2="93.60" stroke="#cfcfcf" stroke-width="1.0"/>
<line x1="219.34" y1="63.00" x2="219.34" y2="93.60" stroke="#cfcfcf" stroke-width="1.0"/>
<line x1="179.86" y1="95.00" x2="179.86" y2="126.00" stroke="#cfcfcf" stroke-width="1.0"/>
<line x1="193.02" y1="95.00" x2="193.02" y2="126.00" stroke="#cfcfcf" stroke-width="1.0"/>
<line x1="206.18" y1="95.00" x2="206.18" y2="126.00" stroke="#cfcfcf" stroke-width="1.0"/>
<line x1="219.34" y1="95.00" x2="219.34" y2="126.00" stroke="#cfcfcf" stroke-width="1.0"/>
<line x1="246.24" y1="30.80" x2="246.24" y2="61.50" stroke="#cfcfcf" stroke-width="1.0"/>
<line x1="259.08" y1="30.80" x2="259.08" y2="61.50" stroke="#cfcfcf" stroke-width="1.0"/>
<line x1="271.92" y1="30.80" x2="271.92" y2="61.50" stroke="#cfcfcf" stroke-width="1.0"/>
<line x1="284.76" y1="30.80" x2="284.76" y2="61.50" stroke="#cfcfcf" stroke-width="1.0"/>
<line x1="246.24" y1="63.00" x2="246.24" y2="93.60" stroke="#cfcfcf" stroke-width="1.0"/>
<line x1="259.08" y1="63.00" x2="259.08" y2="93.60" stroke="#cfcfcf" stroke-width="1.0"/>
<line x1="271.92" y1="63.00" x2="271.92" y2="93.60" stroke="#cfcfcf" stroke-width="1.0"/>
<line x1="284.76" y1="63.00" x2="284.76" y2="93.60" stroke="#cfcfcf" stroke-width="1.0"/>
<line x1="246.24" y1="95.00" x2="246.24" y2="126.00" stroke="#cfcfcf" stroke-width="1.0"/>
<line x1="259.08" y1="95.00" x2="259.08" y2="126.00" stroke="#cfcfcf" stroke-width="1.0"/>
<line x1="271.92" y1="95.00" x2="271.92" y2="126.00" stroke="#cfcfcf" stroke-width="1.0"/>
<line x1="284.76" y1="95.00" x2="284.76" y2="126.00" stroke="#cfcfcf" stroke-width="1.0"/>
<line x1="311.64" y1="30.80" x2="311.64" y2="61.50" stroke="#cfcfcf" stroke-width="1.0"/>
<line x1="324.48" y1="30.80" x2="324.48" y2="61.50" stroke="#cfcfcf" stroke-width="1.0"/>
<line x1="337.32" y1="30.80" x2="337.32" y2="61.50" stroke="#cfcfcf" stroke-width="1.0"/>
<line x1="350.16" y1="30.80" x2="350.16" y2="61.50" stroke="#cfcfcf" stroke-width="1.0"/>
<line x1="311.64" y1="63.00" x2="311.64" y2="93.60" stroke="#cfcfcf" stroke-width="1.0"/>
<line x1="324.48" y1="63.00" x2="324.48" y2="93.60" stroke="#cfcfcf" stroke-width="1.0"/>
<line x1="337.32" y1="63.00" x2="337.32" y2="93.60" stroke="#cfcfcf" stroke-width="1.0"/>
<line x1="350.16" y1="63.00" x2="350.16" y2="93.60" stroke="#cfcfcf" stroke-width="1.0"/>
<line x1="311.64" y1="95.00" x2="311.64" y2="126.00" stroke="#cfcfcf" stroke-width="1.0"/>
<line x1="324.48" y1="95.00" x2="324.48" y2="126.00" stroke="#cfcfcf" stroke-width="1.0"/>
<line x1="337.32" y1="95.00" x2="337.32" y2="126.00" stroke="#cfcfcf" stroke-width="1.0"/>
<line x1="350.16" y1="95.00" x2="350.16" y2="126.00" stroke="#cfcfcf" stroke-width="1.0"/>
<ellipse cx="13.00" cy="46.70" rx="4.60" ry="2.00" fill="#7a40ff" opacity="0.8"/>
<ellipse cx="13.00" cy="46.70" rx="3.80" ry="1.40" fill="#2412ff"/>
<circle cx="17.80" cy="50.40" r="1.33" fill="#8a50ff" opacity="0.6"/>
<circle cx="17.80" cy="50.40" r="0.90" fill="#2410f0"/>
<circle cx="30.00" cy="52.00" r="1.06" fill="#8a50ff" opacity="0.6"/>
<circle cx="30.00" cy="52.00" r="0.72" fill="#2410f0"/>
<circle cx="43.70" cy="56.00" r="1.20" fill="#8a50ff" opacity="0.6"/>
<circle cx="43.70" cy="56.00" r="0.81" fill="#2410f0"/>
<circle cx="43.70" cy="56.00" r="0.38" fill="#20c0d0"/>
<circle cx="46.80" cy="52.40" r="1.20" fill="#8a50ff" opacity="0.6"/>
<circle cx="46.80" cy="52.40" r="0.81" fill="#2410f0"/>
<circle cx="52.50" cy="37.10" r="2.80" fill="#8a50ff" opacity="0.6"/>
<circle cx="52.50" cy="37.10" r="1.90" fill="#2410f0"/>
<circle cx="62.70" cy="51.40" r="2.80" fill="#8a50ff" opacity="0.6"/>
<circle cx="62.70" cy="51.40" r="1.90" fill="#2410f0"/>
<circle cx="62.70" cy="51.40" r="0.90" fill="#20c0d0"/>
<circle cx="70.80" cy="54.00" r="2.80" fill="#8a50ff" opacity="0.6"/>
<circle cx="70.80" cy="54.00" r="1.90" fill="#2410f0"/>
<circle cx="70.80" cy="54.00" r="0.90" fill="#20c0d0"/>
<circle cx="74.30" cy="51.00" r="1.99" fill="#8a50ff" opacity="0.6"/>
<circle cx="74.30" cy="51.00" r="1.35" fill="#2410f0"/>
<circle cx="78.40" cy="54.00" r="1.99" fill="#8a50ff" opacity="0.6"/>
<circle cx="78.40" cy="54.00" r="1.35" fill="#2410f0"/>
<circle cx="78.40" cy="54.00" r="0.64" fill="#20c0d0"/>
<circle cx="83.00" cy="51.40" r="1.99" fill="#8a50ff" opacity="0.6"/>
<circle cx="83.00" cy="51.40" r="1.35" fill="#2410f0"/>
<circle cx="81.40" cy="40.20" r="0.93" fill="#8a50ff" opacity="0.6"/>
<circle cx="81.40" cy="40.20" r="0.63" fill="#2410f0"/>
<circle cx="87.50" cy="54.00" r="1.06" fill="#8a50ff" opacity="0.6"/>
<circle cx="87.50" cy="54.00" r="0.72" fill="#2410f0"/>
<circle cx="94.00" cy="52.80" r="1.20" fill="#8a50ff" opacity="0.6"/>
<circle cx="94.00" cy="52.80" r="0.81" fill="#2410f0"/>
<circle cx="100.80" cy="53.40" r="1.73" fill="#8a50ff" opacity="0.6"/>
<circle cx="100.80" cy="53.40" r="1.17" fill="#2410f0"/>
<circle cx="105.90" cy="54.50" r="1.33" fill="#8a50ff" opacity="0.6"/>
<circle cx="105.90" cy="54.50" r="0.90" fill="#2410f0"/>
<circle cx="100.80" cy="42.20" r="0.80" fill="#8a50ff" opacity="0.6"/>
<circle cx="100.80" cy="42.20" r="0.54" fill="#2410f0"/>
<circle cx="13.70" cy="69.10" r="3.50" fill="#8a50ff" opacity="0.6"/>
<circle cx="13.70" cy="69.10" r="2.38" fill="#2410f0"/>
<circle cx="14.20" cy="80.80" r="3.50" fill="#8a50ff" opacity="0.6"/>
<circle cx="14.20" cy="80.80" r="2.38" fill="#2410f0"/>
<circle cx="14.20" cy="80.80" r="1.55" fill="#14c8a0"/>
<circle cx="14.20" cy="80.80" r="0.80" fill="#c0f040"/>
<circle cx="22.30" cy="83.40" r="1.73" fill="#8a50ff" opacity="0.6"/>
<circle cx="22.30" cy="83.40" r="1.17" fill="#2410f0"/>
<circle cx="29.40" cy="84.40" r="1.73" fill="#8a50ff" opacity="0.6"/>
<circle cx="29.40" cy="84.40" r="1.17" fill="#2410f0"/>
<circle cx="27.00" cy="72.20" r="1.06" fill="#8a50ff" opacity="0.6"/>
<circle cx="27.00" cy="72.20" r="0.72" fill="#2410f0"/>
<circle cx="42.30" cy="82.40" r="4.20" fill="#8a50ff" opacity="0.6"/>
<circle cx="42.30" cy="82.40" r="2.85" fill="#2410f0"/>
<circle cx="42.30" cy="82.40" r="2.10" fill="#18d0a0"/>
<circle cx="42.30" cy="82.40" r="1.44" fill="#f4e020"/>
<circle cx="42.30" cy="82.40" r="0.78" fill="#e82818"/>
<circle cx="52.50" cy="69.10" r="4.20" fill="#8a50ff" opacity="0.6"/>
<circle cx="52.50" cy="69.10" r="2.85" fill="#2410f0"/>
<circle cx="52.50" cy="69.10" r="1.86" fill="#14c8a0"/>
<circle cx="52.50" cy="69.10" r="0.96" fill="#c0f040"/>
<circle cx="48.80" cy="84.40" r="1.73" fill="#8a50ff" opacity="0.6"/>
<circle cx="48.80" cy="84.40" r="1.17" fill="#2410f0"/>
<circle cx="53.50" cy="74.20" r="1.20" fill="#8a50ff" opacity="0.6"/>
<circle cx="53.50" cy="74.20" r="0.81" fill="#2410f0"/>
<circle cx="61.40" cy="84.80" r="3.50" fill="#8a50ff" opacity="0.6"/>
<circle cx="61.40" cy="84.80" r="2.38" fill="#2410f0"/>
<circle cx="61.40" cy="84.80" r="1.55" fill="#14c8a0"/>
<circle cx="61.40" cy="84.80" r="0.80" fill="#c0f040"/>
<circle cx="70.80" cy="84.80" r="3.50" fill="#8a50ff" opacity="0.6"/>
<circle cx="70.80" cy="84.80" r="2.38" fill="#2410f0"/>
<circle cx="70.80" cy="84.80" r="1.55" fill="#14c8a0"/>
<circle cx="70.80" cy="84.80" r="0.80" fill="#c0f040"/>
<circle cx="74.30" cy="84.00" r="3.15" fill="#8a50ff" opacity="0.6"/>
<circle cx="74.30" cy="84.00" r="2.14" fill="#2410f0"/>
<circle cx="81.40" cy="84.00" r="3.15" fill="#8a50ff" opacity="0.6"/>
<circle cx="81.40" cy="84.00" r="2.14" fill="#2410f0"/>
<circle cx="81.40" cy="84.00" r="1.40" fill="#14c8a0"/>
<circle cx="81.40" cy="84.00" r="0.72" fill="#c0f040"/>
<circle cx="80.40" cy="74.60" r="1.20" fill="#8a50ff" opacity="0.6"/>
<circle cx="80.40" cy="74.60" r="0.81" fill="#2410f0"/>
<circle cx="88.60" cy="84.40" r="3.15" fill="#8a50ff" opacity="0.6"/>
<circle cx="88.60" cy="84.40" r="2.14" fill="#2410f0"/>
<circle cx="94.00" cy="71.80" r="2.80" fill="#8a50ff" opacity="0.6"/>
<circle cx="94.00" cy="71.80" r="1.90" fill="#2410f0"/>
<circle cx="95.70" cy="84.40" r="3.15" fill="#8a50ff" opacity="0.6"/>
<circle cx="95.70" cy="84.40" r="2.14" fill="#2410f0"/>
<circle cx="95.70" cy="84.40" r="1.40" fill="#14c8a0"/>
<circle cx="95.70" cy="84.40" r="0.72" fill="#c0f040"/>
<circle cx="100.80" cy="84.80" r="3.15" fill="#8a50ff" opacity="0.6"/>
<circle cx="100.80" cy="84.80" r="2.14" fill="#2410f0"/>
<circle cx="104.90" cy="88.90" r="3.15" fill="#8a50ff" opacity="0.6"/>
<circle cx="104.90" cy="88.90" r="2.14" fill="#2410f0"/>
<circle cx="108.90" cy="84.80" r="1.86" fill="#8a50ff" opacity="0.6"/>
<circle cx="108.90" cy="84.80" r="1.26" fill="#2410f0"/>
<circle cx="12.50" cy="101.10" r="5.60" fill="#8a50ff" opacity="0.6"/>
<circle cx="12.50" cy="101.10" r="3.80" fill="#2410f0"/>
<circle cx="12.50" cy="101.10" r="2.80" fill="#18d0a0"/>
<circle cx="12.50" cy="101.10" r="1.92" fill="#f4e020"/>
<circle cx="12.50" cy="101.10" r="1.04" fill="#e82818"/>
<circle cx="14.20" cy="112.80" r="4.20" fill="#8a50ff" opacity="0.6"/>
<circle cx="14.20" cy="112.80" r="2.85" fill="#2410f0"/>
<circle cx="14.20" cy="112.80" r="1.86" fill="#14c8a0"/>
<circle cx="14.20" cy="112.80" r="0.96" fill="#c0f040"/>
<circle cx="27.40" cy="104.20" r="1.73" fill="#8a50ff" opacity="0.6"/>
<circle cx="27.40" cy="104.20" r="1.17" fill="#2410f0"/>
<circle cx="29.40" cy="115.40" r="4.20" fill="#8a50ff" opacity="0.6"/>
<circle cx="29.40" cy="115.40" r="2.85" fill="#2410f0"/>
<circle cx="29.40" cy="115.40" r="1.86" fill="#14c8a0"/>
<circle cx="29.40" cy="115.40" r="0.96" fill="#c0f040"/>
<circle cx="24.30" cy="120.50" r="1.73" fill="#8a50ff" opacity="0.6"/>
<circle cx="24.30" cy="120.50" r="1.17" fill="#2410f0"/>
<circle cx="42.30" cy="115.40" r="4.90" fill="#8a50ff" opacity="0.6"/>
<circle cx="42.30" cy="115.40" r="3.32" fill="#2410f0"/>
<circle cx="42.30" cy="115.40" r="2.45" fill="#18d0a0"/>
<circle cx="42.30" cy="115.40" r="1.68" fill="#f4e020"/>
<circle cx="42.30" cy="115.40" r="0.91" fill="#e82818"/>
<circle cx="53.90" cy="101.10" r="4.20" fill="#8a50ff" opacity="0.6"/>
<circle cx="53.90" cy="101.10" r="2.85" fill="#2410f0"/>
<circle cx="53.90" cy="101.10" r="1.86" fill="#14c8a0"/>
<circle cx="53.90" cy="101.10" r="0.96" fill="#c0f040"/>
<circle cx="54.90" cy="115.40" r="1.20" fill="#8a50ff" opacity="0.6"/>
<circle cx="54.90" cy="115.40" r="0.81" fill="#2410f0"/>
<circle cx="47.80" cy="116.40" r="1.46" fill="#8a50ff" opacity="0.6"/>
<circle cx="47.80" cy="116.40" r="0.99" fill="#2410f0"/>
<circle cx="61.40" cy="116.40" r="3.15" fill="#8a50ff" opacity="0.6"/>
<circle cx="61.40" cy="116.40" r="2.14" fill="#2410f0"/>
<circle cx="70.20" cy="117.40" r="3.15" fill="#8a50ff" opacity="0.6"/>
<circle cx="70.20" cy="117.40" r="2.14" fill="#2410f0"/>
<circle cx="70.20" cy="117.40" r="1.40" fill="#14c8a0"/>
<circle cx="70.20" cy="117.40" r="0.72" fill="#c0f040"/>
<circle cx="74.90" cy="118.50" r="3.15" fill="#8a50ff" opacity="0.6"/>
<circle cx="74.90" cy="118.50" r="2.14" fill="#2410f0"/>
<circle cx="82.40" cy="116.80" r="3.15" fill="#8a50ff" opacity="0.6"/>
<circle cx="82.40" cy="116.80" r="2.14" fill="#2410f0"/>
<circle cx="82.40" cy="116.80" r="1.40" fill="#14c8a0"/>
<circle cx="82.40" cy="116.80" r="0.72" fill="#c0f040"/>
<circle cx="80.40" cy="106.20" r="1.20" fill="#8a50ff" opacity="0.6"/>
<circle cx="80.40" cy="106.20" r="0.81" fill="#2410f0"/>
<circle cx="89.60" cy="116.40" r="3.85" fill="#8a50ff" opacity="0.6"/>
<circle cx="89.60" cy="116.40" r="2.61" fill="#2410f0"/>
<circle cx="91.60" cy="104.20" r="1.73" fill="#8a50ff" opacity="0.6"/>
<circle cx="91.60" cy="104.20" r="1.17" fill="#2410f0"/>
<circle cx="95.30" cy="118.50" r="4.90" fill="#8a50ff" opacity="0.6"/>
<circle cx="95.30" cy="118.50" r="3.32" fill="#2410f0"/>
<circle cx="100.80" cy="116.40" r="3.15" fill="#8a50ff" opacity="0.6"/>
<circle cx="100.80" cy="116.40" r="2.14" fill="#2410f0"/>
<circle cx="105.90" cy="122.50" r="1.73" fill="#8a50ff" opacity="0.6"/>
<circle cx="105.90" cy="122.50" r="1.17" fill="#2410f0"/>
<circle cx="119.00" cy="34.70" r="1.86" fill="#8a50ff" opacity="0.6"/>
<circle cx="119.00" cy="34.70" r="1.26" fill="#2410f0"/>
<circle cx="131.80" cy="33.50" r="1.06" fill="#8a50ff" opacity="0.6"/>
<circle cx="131.80" cy="33.50" r="0.72" fill="#2410f0"/>
<circle cx="146.40" cy="34.20" r="2.97" fill="#8a50ff" opacity="0.6"/>
<circle cx="146.40" cy="34.20" r="2.02" fill="#2410f0"/>
<circle cx="142.20" cy="40.50" r="1.86" fill="#8a50ff" opacity="0.6"/>
<circle cx="142.20" cy="40.50" r="1.26" fill="#2410f0"/>
<circle cx="143.40" cy="46.30" r="1.33" fill="#8a50ff" opacity="0.6"/>
<circle cx="143.40" cy="46.30" r="0.90" fill="#2410f0"/>
<circle cx="141.00" cy="53.30" r="2.97" fill="#8a50ff" opacity="0.6"/>
<circle cx="141.00" cy="53.30" r="2.02" fill="#2410f0"/>
<circle cx="145.70" cy="54.40" r="1.86" fill="#8a50ff" opacity="0.6"/>
<circle cx="145.70" cy="54.40" r="1.26" fill="#2410f0"/>
<circle cx="149.20" cy="54.00" r="2.97" fill="#8a50ff" opacity="0.6"/>
<circle cx="149.20" cy="54.00" r="2.02" fill="#2410f0"/>
<circle cx="157.40" cy="34.70" r="3.15" fill="#8a50ff" opacity="0.6"/>
<circle cx="157.40" cy="34.70" r="2.14" fill="#2410f0"/>
<circle cx="173.70" cy="44.40" r="1.06" fill="#8a50ff" opacity="0.6"/>
<circle cx="173.70" cy="44.40" r="0.72" fill="#2410f0"/>
<circle cx="190.00" cy="53.30" r="1.46" fill="#8a50ff" opacity="0.6"/>
<circle cx="190.00" cy="53.30" r="0.99" fill="#2410f0"/>
<circle cx="194.60" cy="53.70" r="1.86" fill="#8a50ff" opacity="0.6"/>
<circle cx="194.60" cy="53.70" r="1.26" fill="#2410f0"/>
<circle cx="194.60" cy="53.70" r="0.60" fill="#20c0d0"/>
<circle cx="209.70" cy="55.60" r="1.33" fill="#8a50ff" opacity="0.6"/>
<circle cx="209.70" cy="55.60" r="0.90" fill="#2410f0"/>
<circle cx="227.60" cy="47.50" r="1.86" fill="#8a50ff" opacity="0.6"/>
<circle cx="227.60" cy="47.50" r="1.26" fill="#2410f0"/>
<circle cx="120.10" cy="69.00" r="3.15" fill="#8a50ff" opacity="0.6"/>
<circle cx="120.10" cy="69.00" r="2.14" fill="#2410f0"/>
<circle cx="120.10" cy="69.00" r="1.40" fill="#14c8a0"/>
<circle cx="120.10" cy="69.00" r="0.72" fill="#c0f040"/>
<circle cx="115.50" cy="85.30" r="1.06" fill="#8a50ff" opacity="0.6"/>
<circle cx="115.50" cy="85.30" r="0.72" fill="#2410f0"/>
<circle cx="135.30" cy="82.50" r="3.15" fill="#8a50ff" opacity="0.6"/>
<circle cx="135.30" cy="82.50" r="2.14" fill="#2410f0"/>
<circle cx="135.30" cy="82.50" r="1.40" fill="#14c8a0"/>
<circle cx="135.30" cy="82.50" r="0.72" fill="#c0f040"/>
<circle cx="146.90" cy="67.80" r="1.86" fill="#8a50ff" opacity="0.6"/>
<circle cx="146.90" cy="67.80" r="1.26" fill="#2410f0"/>
<circle cx="143.40" cy="72.50" r="1.33" fill="#8a50ff" opacity="0.6"/>
<circle cx="143.40" cy="72.50" r="0.90" fill="#2410f0"/>
<circle cx="142.20" cy="84.10" r="4.90" fill="#8a50ff" opacity="0.6"/>
<circle cx="142.20" cy="84.10" r="3.32" fill="#2410f0"/>
<circle cx="142.20" cy="84.10" r="2.45" fill="#18d0a0"/>
<circle cx="142.20" cy="84.10" r="1.68" fill="#f4e020"/>
<circle cx="142.20" cy="84.10" r="0.91" fill="#e82818"/>
<circle cx="156.70" cy="70.10" r="3.15" fill="#8a50ff" opacity="0.6"/>
<circle cx="156.70" cy="70.10" r="2.14" fill="#2410f0"/>
<circle cx="156.70" cy="70.10" r="1.40" fill="#14c8a0"/>
<circle cx="156.70" cy="70.10" r="0.72" fill="#c0f040"/>
<circle cx="170.20" cy="72.50" r="1.86" fill="#8a50ff" opacity="0.6"/>
<circle cx="170.20" cy="72.50" r="1.26" fill="#2410f0"/>
<circle cx="176.00" cy="85.30" r="1.86" fill="#8a50ff" opacity="0.6"/>
<circle cx="176.00" cy="85.30" r="1.26" fill="#2410f0"/>
<circle cx="183.00" cy="82.90" r="4.02" fill="#8a50ff" opacity="0.6"/>
<circle cx="183.00" cy="82.90" r="2.73" fill="#2410f0"/>
<circle cx="186.50" cy="86.40" r="3.15" fill="#8a50ff" opacity="0.6"/>
<circle cx="186.50" cy="86.40" r="2.14" fill="#2410f0"/>
<circle cx="188.80" cy="72.50" r="1.86" fill="#8a50ff" opacity="0.6"/>
<circle cx="188.80" cy="72.50" r="1.26" fill="#2410f0"/>
<circle cx="184.10" cy="70.10" r="1.33" fill="#8a50ff" opacity="0.6"/>
<circle cx="184.10" cy="70.10" r="0.90" fill="#2410f0"/>
<circle cx="194.60" cy="85.30" r="1.86" fill="#8a50ff" opacity="0.6"/>
<circle cx="194.60" cy="85.30" r="1.26" fill="#2410f0"/>
<circle cx="212.00" cy="66.70" r="3.15" fill="#8a50ff" opacity="0.6"/>
<circle cx="212.00" cy="66.70" r="2.14" fill="#2410f0"/>
<circle cx="212.00" cy="87.60" r="3.15" fill="#8a50ff" opacity="0.6"/>
<circle cx="212.00" cy="87.60" r="2.14" fill="#2410f0"/>
<circle cx="207.90" cy="84.60" r="1.33" fill="#8a50ff" opacity="0.6"/>
<circle cx="207.90" cy="84.60" r="0.90" fill="#2410f0"/>
<circle cx="223.70" cy="79.50" r="4.02" fill="#8a50ff" opacity="0.6"/>
<circle cx="223.70" cy="79.50" r="2.73" fill="#2410f0"/>
<circle cx="119.40" cy="99.80" r="4.20" fill="#8a50ff" opacity="0.6"/>
<circle cx="119.40" cy="99.80" r="2.85" fill="#2410f0"/>
<circle cx="119.40" cy="99.80" r="2.10" fill="#18d0a0"/>
<circle cx="119.40" cy="99.80" r="1.44" fill="#f4e020"/>
<circle cx="119.40" cy="99.80" r="0.78" fill="#e82818"/>
<circle cx="114.30" cy="116.10" r="1.46" fill="#8a50ff" opacity="0.6"/>
<circle cx="114.30" cy="116.10" r="0.99" fill="#2410f0"/>
<circle cx="134.10" cy="98.70" r="1.46" fill="#8a50ff" opacity="0.6"/>
<circle cx="134.10" cy="98.70" r="0.99" fill="#2410f0"/>
<circle cx="135.30" cy="104.50" r="1.86" fill="#8a50ff" opacity="0.6"/>
<circle cx="135.30" cy="104.50" r="1.26" fill="#2410f0"/>
<circle cx="129.50" cy="111.50" r="3.15" fill="#8a50ff" opacity="0.6"/>
<circle cx="129.50" cy="111.50" r="2.14" fill="#2410f0"/>
<circle cx="129.50" cy="111.50" r="1.40" fill="#14c8a0"/>
<circle cx="129.50" cy="111.50" r="0.72" fill="#c0f040"/>
<circle cx="135.30" cy="115.00" r="1.86" fill="#8a50ff" opacity="0.6"/>
<circle cx="135.30" cy="115.00" r="1.26" fill="#2410f0"/>
<circle cx="130.60" cy="119.60" r="1.86" fill="#8a50ff" opacity="0.6"/>
<circle cx="130.60" cy="119.60" r="1.26" fill="#2410f0"/>
<circle cx="145.70" cy="97.50" r="1.86" fill="#8a50ff" opacity="0.6"/>
<circle cx="145.70" cy="97.50" r="1.26" fill="#2410f0"/>
<circle cx="144.60" cy="114.90" r="5.60" fill="#8a50ff" opacity="0.6"/>
<circle cx="144.60" cy="114.90" r="3.80" fill="#2410f0"/>
<circle cx="144.60" cy="114.90" r="2.80" fill="#18d0a0"/>
<circle cx="144.60" cy="114.90" r="1.92" fill="#f4e020"/>
<circle cx="144.60" cy="114.90" r="1.04" fill="#e82818"/>
<circle cx="156.20" cy="101.00" r="4.20" fill="#8a50ff" opacity="0.6"/>
<circle cx="156.20" cy="101.00" r="2.85" fill="#2410f0"/>
<circle cx="156.20" cy="101.00" r="1.86" fill="#14c8a0"/>
<circle cx="156.20" cy="101.00" r="0.96" fill="#c0f040"/>
<circle cx="155.00" cy="117.30" r="1.33" fill="#8a50ff" opacity="0.6"/>
<circle cx="155.00" cy="117.30" r="0.90" fill="#2410f0"/>
<circle cx="169.00" cy="102.80" r="1.86" fill="#8a50ff" opacity="0.6"/>
<circle cx="169.00" cy="102.80" r="1.26" fill="#2410f0"/>
<circle cx="173.70" cy="105.20" r="1.86" fill="#8a50ff" opacity="0.6"/>
<circle cx="173.70" cy="105.20" r="1.26" fill="#2410f0"/>
<circle cx="171.30" cy="115.40" r="1.46" fill="#8a50ff" opacity="0.6"/>
<circle cx="171.30" cy="115.40" r="0.99" fill="#2410f0"/>
<circle cx="181.80" cy="101.00" r="1.86" fill="#8a50ff" opacity="0.6"/>
<circle cx="181.80" cy="101.00" r="1.26" fill="#2410f0"/>
<circle cx="186.50" cy="104.50" r="1.46" fill="#8a50ff" opacity="0.6"/>
<circle cx="186.50" cy="104.50" r="0.99" fill="#2410f0"/>
<circle cx="183.00" cy="112.60" r="4.02" fill="#8a50ff" opacity="0.6"/>
<circle cx="183.00" cy="112.60" r="2.73" fill="#2410f0"/>
<circle cx="183.00" cy="112.60" r="1.78" fill="#14c8a0"/>
<circle cx="183.00" cy="112.60" r="0.92" fill="#c0f040"/>
<circle cx="187.60" cy="117.70" r="2.97" fill="#8a50ff" opacity="0.6"/>
<circle cx="187.60" cy="117.70" r="2.02" fill="#2410f0"/>
<circle cx="195.80" cy="117.30" r="1.86" fill="#8a50ff" opacity="0.6"/>
<circle cx="195.80" cy="117.30" r="1.26" fill="#2410f0"/>
<circle cx="210.90" cy="98.70" r="1.33" fill="#8a50ff" opacity="0.6"/>
<circle cx="210.90" cy="98.70" r="0.90" fill="#2410f0"/>
<circle cx="211.60" cy="117.30" r="1.33" fill="#8a50ff" opacity="0.6"/>
<circle cx="211.60" cy="117.30" r="0.90" fill="#2410f0"/>
<circle cx="221.40" cy="112.10" r="4.90" fill="#8a50ff" opacity="0.6"/>
<circle cx="221.40" cy="112.10" r="3.32" fill="#2410f0"/>
<circle cx="221.40" cy="112.10" r="2.17" fill="#14c8a0"/>
<circle cx="221.40" cy="112.10" r="1.12" fill="#c0f040"/>
<circle cx="227.20" cy="111.50" r="3.15" fill="#8a50ff" opacity="0.6"/>
<circle cx="227.20" cy="111.50" r="2.14" fill="#2410f0"/>
<circle cx="221.40" cy="117.30" r="1.86" fill="#8a50ff" opacity="0.6"/>
<circle cx="221.40" cy="117.30" r="1.26" fill="#2410f0"/>
<circle cx="235.00" cy="53.90" r="1.86" fill="#8a50ff" opacity="0.6"/>
<circle cx="235.00" cy="53.90" r="1.26" fill="#2410f0"/>
<circle cx="242.60" cy="52.20" r="1.33" fill="#8a50ff" opacity="0.6"/>
<circle cx="242.60" cy="52.20" r="0.90" fill="#2410f0"/>
<circle cx="246.90" cy="54.70" r="1.86" fill="#8a50ff" opacity="0.6"/>
<circle cx="246.90" cy="54.70" r="1.26" fill="#2410f0"/>
<circle cx="264.50" cy="39.60" r="1.46" fill="#8a50ff" opacity="0.6"/>
<circle cx="264.50" cy="39.60" r="0.99" fill="#2410f0"/>
<circle cx="259.50" cy="52.70" r="3.15" fill="#8a50ff" opacity="0.6"/>
<circle cx="259.50" cy="52.70" r="2.14" fill="#2410f0"/>
<circle cx="268.30" cy="52.20" r="1.86" fill="#8a50ff" opacity="0.6"/>
<circle cx="268.30" cy="52.20" r="1.26" fill="#2410f0"/>
<circle cx="281.40" cy="51.40" r="3.15" fill="#8a50ff" opacity="0.6"/>
<circle cx="281.40" cy="51.40" r="2.14" fill="#2410f0"/>
<circle cx="278.40" cy="59.00" r="1.33" fill="#8a50ff" opacity="0.6"/>
<circle cx="278.40" cy="59.00" r="0.90" fill="#2410f0"/>
<circle cx="285.90" cy="52.20" r="1.86" fill="#8a50ff" opacity="0.6"/>
<circle cx="285.90" cy="52.20" r="1.26" fill="#2410f0"/>
<circle cx="289.70" cy="57.70" r="1.33" fill="#8a50ff" opacity="0.6"/>
<circle cx="289.70" cy="57.70" r="0.90" fill="#2410f0"/>
<circle cx="304.80" cy="35.00" r="1.46" fill="#8a50ff" opacity="0.6"/>
<circle cx="304.80" cy="35.00" r="0.99" fill="#2410f0"/>
<circle cx="300.50" cy="53.90" r="1.86" fill="#8a50ff" opacity="0.6"/>
<circle cx="300.50" cy="53.90" r="1.26" fill="#2410f0"/>
<circle cx="315.60" cy="37.10" r="1.86" fill="#8a50ff" opacity="0.6"/>
<circle cx="315.60" cy="37.10" r="1.26" fill="#2410f0"/>
<circle cx="332.50" cy="39.60" r="1.46" fill="#8a50ff" opacity="0.6"/>
<circle cx="332.50" cy="39.60" r="0.99" fill="#2410f0"/>
<circle cx="326.70" cy="53.20" r="3.15" fill="#8a50ff" opacity="0.6"/>
<circle cx="326.70" cy="53.20" r="2.14" fill="#2410f0"/>
<circle cx="330.00" cy="55.20" r="3.15" fill="#8a50ff" opacity="0.6"/>
<circle cx="330.00" cy="55.20" r="2.14" fill="#2410f0"/>
<circle cx="334.30" cy="52.20" r="3.85" fill="#8a50ff" opacity="0.6"/>
<circle cx="334.30" cy="52.20" r="2.61" fill="#2410f0"/>
<circle cx="343.90" cy="48.10" r="3.15" fill="#8a50ff" opacity="0.6"/>
<circle cx="343.90" cy="48.10" r="2.14" fill="#2410f0"/>
<circle cx="340.80" cy="52.20" r="1.46" fill="#8a50ff" opacity="0.6"/>
<circle cx="340.80" cy="52.20" r="0.99" fill="#2410f0"/>
<circle cx="346.90" cy="51.40" r="1.33" fill="#8a50ff" opacity="0.6"/>
<circle cx="346.90" cy="51.40" r="0.90" fill="#2410f0"/>
<circle cx="353.40" cy="52.20" r="1.86" fill="#8a50ff" opacity="0.6"/>
<circle cx="353.40" cy="52.20" r="1.26" fill="#2410f0"/>
<circle cx="236.00" cy="73.30" r="1.86" fill="#8a50ff" opacity="0.6"/>
<circle cx="236.00" cy="73.30" r="1.26" fill="#2410f0"/>
<circle cx="235.50" cy="85.90" r="3.15" fill="#8a50ff" opacity="0.6"/>
<circle cx="235.50" cy="85.90" r="2.14" fill="#2410f0"/>
<circle cx="235.50" cy="85.90" r="1.40" fill="#14c8a0"/>
<circle cx="235.50" cy="85.90" r="0.72" fill="#c0f040"/>
<circle cx="242.60" cy="84.70" r="1.86" fill="#8a50ff" opacity="0.6"/>
<circle cx="242.60" cy="84.70" r="1.26" fill="#2410f0"/>
<circle cx="242.60" cy="84.70" r="0.82" fill="#14c8a0"/>
<circle cx="242.60" cy="84.70" r="0.43" fill="#c0f040"/>
<circle cx="248.10" cy="85.90" r="3.15" fill="#8a50ff" opacity="0.6"/>
<circle cx="248.10" cy="85.90" r="2.14" fill="#2410f0"/>
<circle cx="248.10" cy="85.90" r="1.40" fill="#14c8a0"/>
<circle cx="248.10" cy="85.90" r="0.72" fill="#c0f040"/>
<circle cx="254.40" cy="70.80" r="1.46" fill="#8a50ff" opacity="0.6"/>
<circle cx="254.40" cy="70.80" r="0.99" fill="#2410f0"/>
<circle cx="264.50" cy="72.10" r="1.86" fill="#8a50ff" opacity="0.6"/>
<circle cx="264.50" cy="72.10" r="1.26" fill="#2410f0"/>
<circle cx="259.50" cy="84.20" r="1.86" fill="#8a50ff" opacity="0.6"/>
<circle cx="259.50" cy="84.20" r="1.26" fill="#2410f0"/>
<circle cx="268.30" cy="84.70" r="1.86" fill="#8a50ff" opacity="0.6"/>
<circle cx="268.30" cy="84.70" r="1.26" fill="#2410f0"/>
<circle cx="268.30" cy="84.70" r="0.82" fill="#14c8a0"/>
<circle cx="268.30" cy="84.70" r="0.43" fill="#c0f040"/>
<circle cx="279.60" cy="85.20" r="3.15" fill="#8a50ff" opacity="0.6"/>
<circle cx="279.60" cy="85.20" r="2.14" fill="#2410f0"/>
<circle cx="279.60" cy="85.20" r="1.40" fill="#14c8a0"/>
<circle cx="279.60" cy="85.20" r="0.72" fill="#c0f040"/>
<circle cx="285.90" cy="84.20" r="3.15" fill="#8a50ff" opacity="0.6"/>
<circle cx="285.90" cy="84.20" r="2.14" fill="#2410f0"/>
<circle cx="285.90" cy="84.20" r="1.40" fill="#14c8a0"/>
<circle cx="285.90" cy="84.20" r="0.72" fill="#c0f040"/>
<circle cx="293.50" cy="84.20" r="3.85" fill="#8a50ff" opacity="0.6"/>
<circle cx="293.50" cy="84.20" r="2.61" fill="#2410f0"/>
<circle cx="302.30" cy="67.00" r="1.86" fill="#8a50ff" opacity="0.6"/>
<circle cx="302.30" cy="67.00" r="1.26" fill="#2410f0"/>
<circle cx="300.50" cy="85.90" r="1.86" fill="#8a50ff" opacity="0.6"/>
<circle cx="300.50" cy="85.90" r="1.26" fill="#2410f0"/>
<circle cx="300.50" cy="85.90" r="0.82" fill="#14c8a0"/>
<circle cx="300.50" cy="85.90" r="0.43" fill="#c0f040"/>
<circle cx="316.10" cy="69.10" r="4.02" fill="#8a50ff" opacity="0.6"/>
<circle cx="316.10" cy="69.10" r="2.73" fill="#2410f0"/>
<circle cx="316.10" cy="69.10" r="1.78" fill="#14c8a0"/>
<circle cx="316.10" cy="69.10" r="0.92" fill="#c0f040"/>
<circle cx="314.90" cy="73.30" r="1.33" fill="#8a50ff" opacity="0.6"/>
<circle cx="314.90" cy="73.30" r="0.90" fill="#2410f0"/>
<circle cx="327.50" cy="86.70" r="3.15" fill="#8a50ff" opacity="0.6"/>
<circle cx="327.50" cy="86.70" r="2.14" fill="#2410f0"/>
<circle cx="331.30" cy="85.90" r="1.86" fill="#8a50ff" opacity="0.6"/>
<circle cx="331.30" cy="85.90" r="1.26" fill="#2410f0"/>
<circle cx="335.00" cy="84.20" r="1.33" fill="#8a50ff" opacity="0.6"/>
<circle cx="335.00" cy="84.20" r="0.90" fill="#2410f0"/>
<circle cx="342.60" cy="79.60" r="4.02" fill="#8a50ff" opacity="0.6"/>
<circle cx="342.60" cy="79.60" r="2.73" fill="#2410f0"/>
<circle cx="346.40" cy="80.10" r="1.86" fill="#8a50ff" opacity="0.6"/>
<circle cx="346.40" cy="80.10" r="1.26" fill="#2410f0"/>
<circle cx="341.30" cy="84.70" r="3.15" fill="#8a50ff" opacity="0.6"/>
<circle cx="341.30" cy="84.70" r="2.14" fill="#2410f0"/>
<circle cx="346.40" cy="87.70" r="1.46" fill="#8a50ff" opacity="0.6"/>
<circle cx="346.40" cy="87.70" r="0.99" fill="#2410f0"/>
<circle cx="353.40" cy="85.90" r="2.97" fill="#8a50ff" opacity="0.6"/>
<circle cx="353.40" cy="85.90" r="2.02" fill="#2410f0"/>
<circle cx="353.40" cy="85.90" r="1.32" fill="#14c8a0"/>
<circle cx="353.40" cy="85.90" r="0.68" fill="#c0f040"/>
<circle cx="236.00" cy="105.30" r="1.33" fill="#8a50ff" opacity="0.6"/>
<circle cx="236.00" cy="105.30" r="0.90" fill="#2410f0"/>
<circle cx="235.00" cy="117.20" r="3.15" fill="#8a50ff" opacity="0.6"/>
<circle cx="235.00" cy="117.20" r="2.14" fill="#2410f0"/>
<circle cx="243.10" cy="116.20" r="1.33" fill="#8a50ff" opacity="0.6"/>
<circle cx="243.10" cy="116.20" r="0.90" fill="#2410f0"/>
<circle cx="247.60" cy="119.20" r="1.86" fill="#8a50ff" opacity="0.6"/>
<circle cx="247.60" cy="119.20" r="1.26" fill="#2410f0"/>
<circle cx="247.60" cy="119.20" r="0.82" fill="#14c8a0"/>
<circle cx="247.60" cy="119.20" r="0.43" fill="#c0f040"/>
<circle cx="263.20" cy="102.80" r="1.33" fill="#8a50ff" opacity="0.6"/>
<circle cx="263.20" cy="102.80" r="0.90" fill="#2410f0"/>
<circle cx="259.50" cy="116.20" r="1.86" fill="#8a50ff" opacity="0.6"/>
<circle cx="259.50" cy="116.20" r="1.26" fill="#2410f0"/>
<circle cx="259.50" cy="116.20" r="0.82" fill="#14c8a0"/>
<circle cx="259.50" cy="116.20" r="0.43" fill="#c0f040"/>
<circle cx="268.30" cy="116.20" r="3.15" fill="#8a50ff" opacity="0.6"/>
<circle cx="268.30" cy="116.20" r="2.14" fill="#2410f0"/>
<circle cx="282.10" cy="117.90" r="1.86" fill="#8a50ff" opacity="0.6"/>
<circle cx="282.10" cy="117.90" r="1.26" fill="#2410f0"/>
<circle cx="282.10" cy="117.90" r="0.82" fill="#14c8a0"/>
<circle cx="282.10" cy="117.90" r="0.43" fill="#c0f040"/>
<circle cx="287.20" cy="116.20" r="1.86" fill="#8a50ff" opacity="0.6"/>
<circle cx="287.20" cy="116.20" r="1.26" fill="#2410f0"/>
<circle cx="293.00" cy="116.70" r="1.86" fill="#8a50ff" opacity="0.6"/>
<circle cx="293.00" cy="116.70" r="1.26" fill="#2410f0"/>
<circle cx="304.00" cy="99.00" r="1.86" fill="#8a50ff" opacity="0.6"/>
<circle cx="304.00" cy="99.00" r="1.26" fill="#2410f0"/>
<circle cx="300.50" cy="119.20" r="1.86" fill="#8a50ff" opacity="0.6"/>
<circle cx="300.50" cy="119.20" r="1.26" fill="#2410f0"/>
<circle cx="316.10" cy="101.10" r="2.97" fill="#8a50ff" opacity="0.6"/>
<circle cx="316.10" cy="101.10" r="2.02" fill="#2410f0"/>
<circle cx="328.20" cy="119.20" r="1.33" fill="#8a50ff" opacity="0.6"/>
<circle cx="328.20" cy="119.20" r="0.90" fill="#2410f0"/>
<circle cx="340.10" cy="116.20" r="1.86" fill="#8a50ff" opacity="0.6"/>
<circle cx="340.10" cy="116.20" r="1.26" fill="#2410f0"/>
<circle cx="353.40" cy="117.20" r="1.86" fill="#8a50ff" opacity="0.6"/>
<circle cx="353.40" cy="117.20" r="1.26" fill="#2410f0"/>
<circle cx="353.40" cy="117.20" r="0.82" fill="#14c8a0"/>
<circle cx="353.40" cy="117.20" r="0.43" fill="#c0f040"/>
<text x="365.00" y="48.70" font-size="8.5" textLength="15.30" lengthAdjust="spacingAndGlyphs">D16</text>
<text x="365.00" y="79.90" font-size="8.5" textLength="15.30" lengthAdjust="spacingAndGlyphs">D26</text>
<text x="365.00" y="113.90" font-size="8.5" textLength="15.30" lengthAdjust="spacingAndGlyphs">D36</text>
<text x="386.70" y="14.00" font-size="11.7" font-weight="bold">B</text>
<line x1="415.20" y1="31.00" x2="415.20" y2="61.10" stroke="#231f20" stroke-width="1.3"/>
<line x1="415.20" y1="65.80" x2="415.20" y2="107.60" stroke="#231f20" stroke-width="1.3"/>
<line x1="411.80" y1="61.10" x2="418.00" y2="61.10" stroke="#231f20" stroke-width="1.0"/>
<line x1="411.80" y1="65.80" x2="418.00" y2="65.80" stroke="#231f20" stroke-width="1.0"/>
<line x1="411.80" y1="31.10" x2="415.20" y2="31.10" stroke="#231f20" stroke-width="1.0"/>
<text x="408.60" y="34.30" font-size="8.4" text-anchor="end" textLength="12.10" lengthAdjust="spacingAndGlyphs">120</text>
<line x1="411.80" y1="41.10" x2="415.20" y2="41.10" stroke="#231f20" stroke-width="1.0"/>
<text x="408.60" y="44.30" font-size="8.4" text-anchor="end" textLength="12.10" lengthAdjust="spacingAndGlyphs">100</text>
<line x1="411.80" y1="51.10" x2="415.20" y2="51.10" stroke="#231f20" stroke-width="1.0"/>
<text x="408.60" y="54.30" font-size="8.4" text-anchor="end" textLength="8.70" lengthAdjust="spacingAndGlyphs">80</text>
<line x1="411.80" y1="61.10" x2="415.20" y2="61.10" stroke="#231f20" stroke-width="1.0"/>
<text x="408.60" y="64.30" font-size="8.4" text-anchor="end" textLength="8.70" lengthAdjust="spacingAndGlyphs">60</text>
<line x1="411.80" y1="70.00" x2="415.20" y2="70.00" stroke="#231f20" stroke-width="1.0"/>
<text x="408.60" y="73.20" font-size="8.4" text-anchor="end" textLength="8.70" lengthAdjust="spacingAndGlyphs">40</text>
<line x1="411.80" y1="88.80" x2="415.20" y2="88.80" stroke="#231f20" stroke-width="1.0"/>
<text x="408.60" y="92.00" font-size="8.4" text-anchor="end" textLength="8.70" lengthAdjust="spacingAndGlyphs">20</text>
<line x1="411.80" y1="107.60" x2="415.20" y2="107.60" stroke="#231f20" stroke-width="1.0"/>
<text x="408.60" y="110.80" font-size="8.4" text-anchor="end" textLength="4.35" lengthAdjust="spacingAndGlyphs">0</text>
<line x1="412.00" y1="107.60" x2="512.60" y2="107.60" stroke="#231f20" stroke-width="1.3"/>
<line x1="422.50" y1="107.60" x2="422.50" y2="110.70" stroke="#231f20" stroke-width="1.0"/>
<text x="422.50" y="120.50" font-size="8.4" text-anchor="middle" textLength="7.75" lengthAdjust="spacingAndGlyphs">16</text>
<line x1="459.70" y1="107.60" x2="459.70" y2="110.70" stroke="#231f20" stroke-width="1.0"/>
<text x="459.70" y="120.50" font-size="8.4" text-anchor="middle" textLength="8.70" lengthAdjust="spacingAndGlyphs">26</text>
<line x1="497.40" y1="107.60" x2="497.40" y2="110.70" stroke="#231f20" stroke-width="1.0"/>
<text x="497.40" y="120.50" font-size="8.4" text-anchor="middle" textLength="8.70" lengthAdjust="spacingAndGlyphs">36</text>
<text x="422.00" y="131.30" font-size="9.6" textLength="84.30" lengthAdjust="spacingAndGlyphs">Days after tumor injection</text>
<text x="395.00" y="111.00" font-size="9.6" textLength="83.00" lengthAdjust="spacingAndGlyphs" transform="rotate(-90 395.00 111.00)">Relative bioluminescence</text>
<line x1="497.40" y1="99.33" x2="497.40" y2="94.80" stroke="#2866a6" stroke-width="0.9"/>
<line x1="496.00" y1="94.80" x2="498.80" y2="94.80" stroke="#2866a6" stroke-width="0.9"/>
<line x1="497.40" y1="82.22" x2="497.40" y2="66.80" stroke="#d92e4c" stroke-width="0.9"/>
<line x1="496.00" y1="66.80" x2="498.80" y2="66.80" stroke="#d92e4c" stroke-width="0.9"/>
<line x1="497.40" y1="53.85" x2="497.40" y2="37.50" stroke="#2866a6" stroke-width="0.9"/>
<line x1="496.00" y1="37.50" x2="498.80" y2="37.50" stroke="#2866a6" stroke-width="0.9"/>
<line x1="497.40" y1="48.60" x2="497.40" y2="40.00" stroke="#d92e4c" stroke-width="0.9"/>
<line x1="496.00" y1="40.00" x2="498.80" y2="40.00" stroke="#d92e4c" stroke-width="0.9"/>
<polyline points="422.50,106.66 459.70,101.40 497.40,103.46" fill="none" stroke="#4db848" stroke-width="1.0" stroke-linejoin="round"/>
<polyline points="422.50,106.66 459.70,99.42 497.40,99.33" fill="none" stroke="#2866a6" stroke-width="1.0" stroke-linejoin="round"/>
<polyline points="422.50,106.66 459.70,101.77 497.40,82.22" fill="none" stroke="#d92e4c" stroke-width="1.0" stroke-linejoin="round"/>
<polyline points="422.50,106.66 459.70,97.82 497.40,53.85" fill="none" stroke="#2866a6" stroke-width="1.2" stroke-linejoin="round" stroke-dasharray="1.8,1"/>
<polyline points="422.50,106.66 459.70,97.07 497.40,51.40" fill="none" stroke="#4db848" stroke-width="1.2" stroke-linejoin="round" stroke-dasharray="1.8,1"/>
<polyline points="422.50,106.66 459.70,96.60 497.40,48.60" fill="none" stroke="#d92e4c" stroke-width="1.2" stroke-linejoin="round" stroke-dasharray="1.8,1"/>
<rect x="421.25" y="105.41" width="2.50" height="2.50" fill="#4db848"/>
<rect x="458.45" y="100.15" width="2.50" height="2.50" fill="#4db848"/>
<rect x="496.15" y="102.21" width="2.50" height="2.50" fill="#4db848"/>
<path d="M422.50,105.01 L424.15,106.66 L422.50,108.31 L420.85,106.66Z" fill="#2866a6"/>
<path d="M459.70,97.77 L461.35,99.42 L459.70,101.07 L458.05,99.42Z" fill="#2866a6"/>
<path d="M497.40,97.68 L499.05,99.33 L497.40,100.98 L495.75,99.33Z" fill="#2866a6"/>
<circle cx="422.50" cy="106.66" r="1.25" fill="#d92e4c"/>
<circle cx="459.70" cy="101.77" r="1.25" fill="#d92e4c"/>
<circle cx="497.40" cy="82.22" r="1.25" fill="#d92e4c"/>
<path d="M422.50,104.56 L424.60,106.66 L422.50,108.76 L420.40,106.66Z" fill="#fff" stroke="#2866a6" stroke-width="1"/>
<path d="M459.70,95.72 L461.80,97.82 L459.70,99.92 L457.60,97.82Z" fill="#fff" stroke="#2866a6" stroke-width="1"/>
<path d="M497.40,51.75 L499.50,53.85 L497.40,55.95 L495.30,53.85Z" fill="#fff" stroke="#2866a6" stroke-width="1"/>
<rect x="420.80" y="104.96" width="3.40" height="3.40" fill="#fff" stroke="#4db848" stroke-width="1"/>
<rect x="458.00" y="95.37" width="3.40" height="3.40" fill="#fff" stroke="#4db848" stroke-width="1"/>
<rect x="495.70" y="49.70" width="3.40" height="3.40" fill="#fff" stroke="#4db848" stroke-width="1"/>
<circle cx="422.50" cy="106.66" r="1.70" fill="#fff" stroke="#d92e4c" stroke-width="1"/>
<circle cx="459.70" cy="96.60" r="1.70" fill="#fff" stroke="#d92e4c" stroke-width="1"/>
<circle cx="497.40" cy="48.60" r="1.70" fill="#fff" stroke="#d92e4c" stroke-width="1"/>
<line x1="418.10" y1="32.00" x2="427.00" y2="32.00" stroke="#d92e4c" stroke-width="1.0" stroke-dasharray="1.8,1"/>
<circle cx="422.60" cy="32.00" r="1.60" fill="#fff" stroke="#d92e4c" stroke-width="1"/>
<text x="428.90" y="34.75" font-size="7.7" textLength="12.08" lengthAdjust="spacingAndGlyphs">Veh</text>
<line x1="418.10" y1="40.92" x2="427.00" y2="40.92" stroke="#2866a6" stroke-width="1.0" stroke-dasharray="1.8,1"/>
<path d="M422.60,38.92 L424.60,40.92 L422.60,42.92 L420.60,40.92Z" fill="#fff" stroke="#2866a6" stroke-width="1"/>
<text x="428.90" y="43.67" font-size="7.7" textLength="18.17" lengthAdjust="spacingAndGlyphs">ATRA</text>
<line x1="418.10" y1="49.84" x2="427.00" y2="49.84" stroke="#4db848" stroke-width="1.0" stroke-dasharray="1.8,1"/>
<rect x="421.00" y="48.24" width="3.20" height="3.20" fill="#fff" stroke="#4db848" stroke-width="1"/>
<text x="428.90" y="52.59" font-size="7.7" textLength="26.87" lengthAdjust="spacingAndGlyphs">BMS961</text>
<line x1="418.10" y1="58.76" x2="427.00" y2="58.76" stroke="#d92e4c" stroke-width="1.0"/>
<circle cx="422.60" cy="58.76" r="1.20" fill="#d92e4c"/>
<text x="428.90" y="61.51" font-size="7.7" textLength="10.51" lengthAdjust="spacingAndGlyphs">Cfz</text>
<line x1="418.10" y1="67.68" x2="427.00" y2="67.68" stroke="#2866a6" stroke-width="1.0"/>
<path d="M422.60,66.08 L424.20,67.68 L422.60,69.28 L421.00,67.68Z" fill="#2866a6"/>
<text x="428.90" y="70.43" font-size="7.7" textLength="32.77" lengthAdjust="spacingAndGlyphs">ATRA+Cfz</text>
<line x1="418.10" y1="76.60" x2="427.00" y2="76.60" stroke="#4db848" stroke-width="1.0"/>
<rect x="421.40" y="75.40" width="2.40" height="2.40" fill="#4db848"/>
<text x="428.90" y="79.35" font-size="7.7" textLength="41.48" lengthAdjust="spacingAndGlyphs">BMS961+Cfz</text>
<line x1="503.50" y1="48.30" x2="503.50" y2="79.40" stroke="#231f20" stroke-width="1.1"/>
<line x1="503.50" y1="83.30" x2="503.50" y2="104.50" stroke="#231f20" stroke-width="1.1"/>
<path d="M507.20,63.60L507.20,61.80M507.20,63.60L508.91,63.04M507.20,63.60L508.26,65.06M507.20,63.60L506.14,65.06M507.20,63.60L505.49,63.04" stroke="#231f20" stroke-width="1.0" stroke-linecap="round" fill="none"/>
<path d="M507.20,94.50L507.20,92.70M507.20,94.50L508.91,93.94M507.20,94.50L508.26,95.96M507.20,94.50L506.14,95.96M507.20,94.50L505.49,93.94" stroke="#231f20" stroke-width="1.0" stroke-linecap="round" fill="none"/>
<text x="6.70" y="157.10" font-size="11.7" font-weight="bold">C</text>
<line x1="37.30" y1="159.30" x2="37.30" y2="237.60" stroke="#231f20" stroke-width="1.3"/>
<line x1="34.20" y1="159.30" x2="37.30" y2="159.30" stroke="#231f20" stroke-width="1.0"/>
<text x="31.60" y="162.50" font-size="8.4" text-anchor="end" textLength="8.70" lengthAdjust="spacingAndGlyphs">60</text>
<line x1="34.20" y1="185.40" x2="37.30" y2="185.40" stroke="#231f20" stroke-width="1.0"/>
<text x="31.60" y="188.60" font-size="8.4" text-anchor="end" textLength="8.70" lengthAdjust="spacingAndGlyphs">40</text>
<line x1="34.20" y1="211.50" x2="37.30" y2="211.50" stroke="#231f20" stroke-width="1.0"/>
<text x="31.60" y="214.70" font-size="8.4" text-anchor="end" textLength="8.70" lengthAdjust="spacingAndGlyphs">20</text>
<line x1="34.20" y1="237.60" x2="37.30" y2="237.60" stroke="#231f20" stroke-width="1.0"/>
<text x="31.60" y="240.80" font-size="8.4" text-anchor="end" textLength="4.35" lengthAdjust="spacingAndGlyphs">0</text>
<line x1="34.20" y1="237.60" x2="135.10" y2="237.60" stroke="#231f20" stroke-width="1.3"/>
<line x1="44.70" y1="237.60" x2="44.70" y2="240.30" stroke="#231f20" stroke-width="1.0"/>
<text x="44.70" y="251.00" font-size="8.4" text-anchor="middle" textLength="7.75" lengthAdjust="spacingAndGlyphs">16</text>
<line x1="71.50" y1="237.60" x2="71.50" y2="240.30" stroke="#231f20" stroke-width="1.0"/>
<text x="71.50" y="251.00" font-size="8.4" text-anchor="middle" textLength="8.70" lengthAdjust="spacingAndGlyphs">23</text>
<line x1="98.50" y1="237.60" x2="98.50" y2="240.30" stroke="#231f20" stroke-width="1.0"/>
<text x="98.50" y="251.00" font-size="8.4" text-anchor="middle" textLength="8.70" lengthAdjust="spacingAndGlyphs">30</text>
<line x1="125.40" y1="237.60" x2="125.40" y2="240.30" stroke="#231f20" stroke-width="1.0"/>
<text x="125.40" y="251.00" font-size="8.4" text-anchor="middle" textLength="8.70" lengthAdjust="spacingAndGlyphs">37</text>
<text x="44.00" y="260.90" font-size="9.6" textLength="84.50" lengthAdjust="spacingAndGlyphs">Days after tumor injection</text>
<text x="18.40" y="228.00" font-size="9.6" textLength="60.20" lengthAdjust="spacingAndGlyphs" transform="rotate(-90 18.40 228.00)">Relative M protein</text>
<line x1="98.50" y1="231.99" x2="98.50" y2="227.16" stroke="#2866a6" stroke-width="0.8"/>
<line x1="97.10" y1="227.16" x2="99.90" y2="227.16" stroke="#2866a6" stroke-width="0.8"/>
<line x1="125.40" y1="225.33" x2="125.40" y2="218.68" stroke="#2866a6" stroke-width="0.8"/>
<line x1="124.00" y1="218.68" x2="126.80" y2="218.68" stroke="#2866a6" stroke-width="0.8"/>
<line x1="98.50" y1="221.42" x2="98.50" y2="216.07" stroke="#d92e4c" stroke-width="0.8"/>
<line x1="97.10" y1="216.07" x2="99.90" y2="216.07" stroke="#d92e4c" stroke-width="0.8"/>
<line x1="125.40" y1="208.24" x2="125.40" y2="201.06" stroke="#d92e4c" stroke-width="0.8"/>
<line x1="124.00" y1="201.06" x2="126.80" y2="201.06" stroke="#d92e4c" stroke-width="0.8"/>
<line x1="71.50" y1="230.16" x2="71.50" y2="225.85" stroke="#2866a6" stroke-width="0.8"/>
<line x1="70.10" y1="225.85" x2="72.90" y2="225.85" stroke="#2866a6" stroke-width="0.8"/>
<line x1="98.50" y1="205.63" x2="98.50" y2="197.14" stroke="#2866a6" stroke-width="0.8"/>
<line x1="97.10" y1="197.14" x2="99.90" y2="197.14" stroke="#2866a6" stroke-width="0.8"/>
<line x1="125.40" y1="188.01" x2="125.40" y2="172.35" stroke="#2866a6" stroke-width="0.8"/>
<line x1="124.00" y1="172.35" x2="126.80" y2="172.35" stroke="#2866a6" stroke-width="0.8"/>
<line x1="71.50" y1="229.77" x2="71.50" y2="224.55" stroke="#d92e4c" stroke-width="0.8"/>
<line x1="70.10" y1="224.55" x2="72.90" y2="224.55" stroke="#d92e4c" stroke-width="0.8"/>
<line x1="98.50" y1="204.97" x2="98.50" y2="194.53" stroke="#d92e4c" stroke-width="0.8"/>
<line x1="97.10" y1="194.53" x2="99.90" y2="194.53" stroke="#d92e4c" stroke-width="0.8"/>
<line x1="125.40" y1="187.36" x2="125.40" y2="171.05" stroke="#d92e4c" stroke-width="0.8"/>
<line x1="124.00" y1="171.05" x2="126.80" y2="171.05" stroke="#d92e4c" stroke-width="0.8"/>
<polyline points="44.70,236.69 71.50,233.16 98.50,232.77 125.40,226.90" fill="none" stroke="#4db848" stroke-width="1.0" stroke-linejoin="round"/>
<polyline points="44.70,236.69 71.50,233.03 98.50,231.99 125.40,225.33" fill="none" stroke="#2866a6" stroke-width="1.0" stroke-linejoin="round"/>
<polyline points="44.70,236.69 71.50,232.51 98.50,221.42 125.40,208.24" fill="none" stroke="#d92e4c" stroke-width="1.0" stroke-linejoin="round"/>
<polyline points="44.70,236.69 71.50,230.55 98.50,209.67 125.40,192.97" fill="none" stroke="#4db848" stroke-width="1.2" stroke-linejoin="round" stroke-dasharray="1.8,1"/>
<polyline points="44.70,236.69 71.50,229.77 98.50,204.97 125.40,187.36" fill="none" stroke="#d92e4c" stroke-width="1.2" stroke-linejoin="round" stroke-dasharray="1.8,1"/>
<polyline points="44.70,236.69 71.50,230.16 98.50,205.63 125.40,188.01" fill="none" stroke="#2866a6" stroke-width="1.2" stroke-linejoin="round" stroke-dasharray="1.8,1"/>
<rect x="43.45" y="235.44" width="2.50" height="2.50" fill="#4db848"/>
<rect x="70.25" y="231.91" width="2.50" height="2.50" fill="#4db848"/>
<rect x="97.25" y="231.52" width="2.50" height="2.50" fill="#4db848"/>
<rect x="124.15" y="225.65" width="2.50" height="2.50" fill="#4db848"/>
<path d="M44.70,235.04 L46.35,236.69 L44.70,238.34 L43.05,236.69Z" fill="#2866a6"/>
<path d="M71.50,231.38 L73.15,233.03 L71.50,234.68 L69.85,233.03Z" fill="#2866a6"/>
<path d="M98.50,230.34 L100.15,231.99 L98.50,233.64 L96.85,231.99Z" fill="#2866a6"/>
<path d="M125.40,223.68 L127.05,225.33 L125.40,226.98 L123.75,225.33Z" fill="#2866a6"/>
<circle cx="44.70" cy="236.69" r="1.25" fill="#d92e4c"/>
<circle cx="71.50" cy="232.51" r="1.25" fill="#d92e4c"/>
<circle cx="98.50" cy="221.42" r="1.25" fill="#d92e4c"/>
<circle cx="125.40" cy="208.24" r="1.25" fill="#d92e4c"/>
<path d="M44.70,234.59 L46.80,236.69 L44.70,238.79 L42.60,236.69Z" fill="#fff" stroke="#2866a6" stroke-width="1"/>
<path d="M71.50,228.06 L73.60,230.16 L71.50,232.26 L69.40,230.16Z" fill="#fff" stroke="#2866a6" stroke-width="1"/>
<path d="M98.50,203.53 L100.60,205.63 L98.50,207.73 L96.40,205.63Z" fill="#fff" stroke="#2866a6" stroke-width="1"/>
<path d="M125.40,185.91 L127.50,188.01 L125.40,190.11 L123.30,188.01Z" fill="#fff" stroke="#2866a6" stroke-width="1"/>
<rect x="43.00" y="234.99" width="3.40" height="3.40" fill="#fff" stroke="#4db848" stroke-width="1"/>
<rect x="69.80" y="228.85" width="3.40" height="3.40" fill="#fff" stroke="#4db848" stroke-width="1"/>
<rect x="96.80" y="207.97" width="3.40" height="3.40" fill="#fff" stroke="#4db848" stroke-width="1"/>
<rect x="123.70" y="191.27" width="3.40" height="3.40" fill="#fff" stroke="#4db848" stroke-width="1"/>
<circle cx="44.70" cy="236.69" r="1.70" fill="#fff" stroke="#d92e4c" stroke-width="1"/>
<circle cx="71.50" cy="229.77" r="1.70" fill="#fff" stroke="#d92e4c" stroke-width="1"/>
<circle cx="98.50" cy="204.97" r="1.70" fill="#fff" stroke="#d92e4c" stroke-width="1"/>
<circle cx="125.40" cy="187.36" r="1.70" fill="#fff" stroke="#d92e4c" stroke-width="1"/>
<line x1="40.00" y1="161.30" x2="48.80" y2="161.30" stroke="#d92e4c" stroke-width="1.0" stroke-dasharray="1.8,1"/>
<circle cx="44.40" cy="161.30" r="1.60" fill="#fff" stroke="#d92e4c" stroke-width="1"/>
<text x="50.50" y="164.05" font-size="7.7" textLength="12.08" lengthAdjust="spacingAndGlyphs">Veh</text>
<line x1="40.00" y1="170.04" x2="48.80" y2="170.04" stroke="#2866a6" stroke-width="1.0" stroke-dasharray="1.8,1"/>
<path d="M44.40,168.04 L46.40,170.04 L44.40,172.04 L42.40,170.04Z" fill="#fff" stroke="#2866a6" stroke-width="1"/>
<text x="50.50" y="172.79" font-size="7.7" textLength="18.17" lengthAdjust="spacingAndGlyphs">ATRA</text>
<line x1="40.00" y1="178.78" x2="48.80" y2="178.78" stroke="#4db848" stroke-width="1.0" stroke-dasharray="1.8,1"/>
<rect x="42.80" y="177.18" width="3.20" height="3.20" fill="#fff" stroke="#4db848" stroke-width="1"/>
<text x="50.50" y="181.53" font-size="7.7" textLength="26.87" lengthAdjust="spacingAndGlyphs">BMS961</text>
<line x1="40.00" y1="187.52" x2="48.80" y2="187.52" stroke="#d92e4c" stroke-width="1.0"/>
<circle cx="44.40" cy="187.52" r="1.20" fill="#d92e4c"/>
<text x="50.50" y="190.27" font-size="7.7" textLength="10.51" lengthAdjust="spacingAndGlyphs">Cfz</text>
<line x1="40.00" y1="196.26" x2="48.80" y2="196.26" stroke="#2866a6" stroke-width="1.0"/>
<path d="M44.40,194.66 L46.00,196.26 L44.40,197.86 L42.80,196.26Z" fill="#2866a6"/>
<text x="50.50" y="199.01" font-size="7.7" textLength="32.77" lengthAdjust="spacingAndGlyphs">ATRA+Cfz</text>
<line x1="40.00" y1="205.00" x2="48.80" y2="205.00" stroke="#4db848" stroke-width="1.0"/>
<rect x="43.20" y="203.80" width="2.40" height="2.40" fill="#4db848"/>
<text x="50.50" y="207.75" font-size="7.7" textLength="41.48" lengthAdjust="spacingAndGlyphs">BMS961+Cfz</text>
<line x1="131.50" y1="189.70" x2="131.50" y2="202.30" stroke="#555" stroke-width="1.1"/>
<line x1="131.50" y1="209.00" x2="131.50" y2="222.50" stroke="#555" stroke-width="1.1"/>
<path d="M134.00,196.40L134.00,194.90M134.00,196.40L135.43,195.94M134.00,196.40L134.88,197.61M134.00,196.40L133.12,197.61M134.00,196.40L132.57,195.94" stroke="#231f20" stroke-width="1.0" stroke-linecap="round" fill="none"/>
<path d="M134.00,215.80L134.00,214.30M134.00,215.80L135.43,215.34M134.00,215.80L134.88,217.01M134.00,215.80L133.12,217.01M134.00,215.80L132.57,215.34" stroke="#231f20" stroke-width="1.0" stroke-linecap="round" fill="none"/>
<text x="142.80" y="157.00" font-size="11.7" font-weight="bold">D</text>
<line x1="173.30" y1="169.10" x2="173.30" y2="239.00" stroke="#231f20" stroke-width="1.3"/>
<line x1="170.40" y1="175.20" x2="173.30" y2="175.20" stroke="#231f20" stroke-width="1.0"/>
<text x="167.40" y="178.40" font-size="8.4" text-anchor="end" textLength="12.10" lengthAdjust="spacingAndGlyphs">100</text>
<line x1="170.40" y1="207.10" x2="173.30" y2="207.10" stroke="#231f20" stroke-width="1.0"/>
<text x="167.40" y="210.30" font-size="8.4" text-anchor="end" textLength="8.70" lengthAdjust="spacingAndGlyphs">50</text>
<line x1="170.40" y1="239.00" x2="173.30" y2="239.00" stroke="#231f20" stroke-width="1.0"/>
<text x="167.40" y="242.20" font-size="8.4" text-anchor="end" textLength="4.35" lengthAdjust="spacingAndGlyphs">0</text>
<line x1="173.30" y1="239.00" x2="270.60" y2="239.00" stroke="#231f20" stroke-width="1.3"/>
<line x1="173.30" y1="239.00" x2="173.30" y2="241.60" stroke="#231f20" stroke-width="1.0"/>
<text x="173.30" y="251.70" font-size="8.4" text-anchor="middle" textLength="4.35" lengthAdjust="spacingAndGlyphs">0</text>
<line x1="202.40" y1="239.00" x2="202.40" y2="241.60" stroke="#231f20" stroke-width="1.0"/>
<text x="202.40" y="251.70" font-size="8.4" text-anchor="middle" textLength="8.70" lengthAdjust="spacingAndGlyphs">20</text>
<line x1="231.50" y1="239.00" x2="231.50" y2="241.60" stroke="#231f20" stroke-width="1.0"/>
<text x="231.50" y="251.70" font-size="8.4" text-anchor="middle" textLength="8.70" lengthAdjust="spacingAndGlyphs">40</text>
<line x1="260.60" y1="239.00" x2="260.60" y2="241.60" stroke="#231f20" stroke-width="1.0"/>
<text x="260.60" y="251.70" font-size="8.4" text-anchor="middle" textLength="8.70" lengthAdjust="spacingAndGlyphs">60</text>
<text x="179.00" y="260.40" font-size="9.6" textLength="85.60" lengthAdjust="spacingAndGlyphs">Days after tumor injection</text>
<text x="149.60" y="230.70" font-size="9.6" textLength="51.70" lengthAdjust="spacingAndGlyphs" transform="rotate(-90 149.60 230.70)">Percent survival</text>
<polyline points="173.50,175.50 242.50,175.50 242.50,187.50 253.50,187.50 253.50,200.50 255.50,200.50 255.50,200.50" fill="none" stroke="#4db848" stroke-width="1.0" stroke-linejoin="round"/>
<circle cx="255.94" cy="200.72" r="1.30" fill="#4db848"/>
<polyline points="173.50,175.50 240.50,175.50 240.50,187.50 255.50,187.50 255.50,200.50 260.50,200.50 260.50,200.50" fill="none" stroke="#2866a6" stroke-width="1.0" stroke-linejoin="round"/>
<circle cx="260.45" cy="200.72" r="1.30" fill="#2866a6"/>
<polyline points="173.50,175.50 206.50,175.50 206.50,187.50 241.50,187.50 241.50,238.50" fill="none" stroke="#4db848" stroke-width="1.0" stroke-linejoin="round" stroke-dasharray="1.8,1"/>
<polyline points="173.50,175.50 239.50,175.50 239.50,187.50 239.50,187.50 239.50,207.50 241.50,207.50 241.50,238.50" fill="none" stroke="#2866a6" stroke-width="1.0" stroke-linejoin="round" stroke-dasharray="1.8,1"/>
<polyline points="173.50,175.50 225.50,175.50 225.50,187.50 231.50,187.50 231.50,213.50 242.50,213.50 242.50,238.50" fill="none" stroke="#d92e4c" stroke-width="1.0" stroke-linejoin="round" stroke-dasharray="1.8,1"/>
<polyline points="173.50,175.50 233.50,175.50 233.50,187.50 243.50,187.50 243.50,213.50 248.50,213.50 248.50,226.50 253.50,226.50 253.50,238.50" fill="none" stroke="#d92e4c" stroke-width="1.0" stroke-linejoin="round"/>
<line x1="176.20" y1="188.80" x2="185.00" y2="188.80" stroke="#d92e4c" stroke-width="1.0" stroke-dasharray="1.8,1"/>
<circle cx="180.70" cy="188.80" r="1.60" fill="#fff" stroke="#d92e4c" stroke-width="1"/>
<text x="186.80" y="191.55" font-size="7.7" textLength="12.08" lengthAdjust="spacingAndGlyphs">Veh</text>
<line x1="176.20" y1="197.30" x2="185.00" y2="197.30" stroke="#2866a6" stroke-width="1.0" stroke-dasharray="1.8,1"/>
<path d="M180.70,195.30 L182.70,197.30 L180.70,199.30 L178.70,197.30Z" fill="#fff" stroke="#2866a6" stroke-width="1"/>
<text x="186.80" y="200.05" font-size="7.7" textLength="18.17" lengthAdjust="spacingAndGlyphs">ATRA</text>
<line x1="176.20" y1="205.80" x2="185.00" y2="205.80" stroke="#4db848" stroke-width="1.0" stroke-dasharray="1.8,1"/>
<rect x="179.10" y="204.20" width="3.20" height="3.20" fill="#fff" stroke="#4db848" stroke-width="1"/>
<text x="186.80" y="208.55" font-size="7.7" textLength="26.87" lengthAdjust="spacingAndGlyphs">BMS961</text>
<line x1="176.20" y1="214.30" x2="185.00" y2="214.30" stroke="#d92e4c" stroke-width="1.0"/>
<circle cx="180.70" cy="214.30" r="1.20" fill="#d92e4c"/>
<text x="186.80" y="217.05" font-size="7.7" textLength="10.51" lengthAdjust="spacingAndGlyphs">Cfz</text>
<line x1="176.20" y1="222.80" x2="185.00" y2="222.80" stroke="#2866a6" stroke-width="1.0"/>
<path d="M180.70,221.20 L182.30,222.80 L180.70,224.40 L179.10,222.80Z" fill="#2866a6"/>
<text x="186.80" y="225.55" font-size="7.7" textLength="32.77" lengthAdjust="spacingAndGlyphs">ATRA+Cfz</text>
<line x1="176.20" y1="231.30" x2="185.00" y2="231.30" stroke="#4db848" stroke-width="1.0"/>
<rect x="179.50" y="230.10" width="2.40" height="2.40" fill="#4db848"/>
<text x="186.80" y="234.05" font-size="7.7" textLength="41.48" lengthAdjust="spacingAndGlyphs">BMS961+Cfz</text>
<line x1="264.50" y1="204.80" x2="264.50" y2="235.10" stroke="#808080" stroke-width="1.1"/>
<path d="M268.50,219.60L268.50,217.80M268.50,219.60L270.21,219.04M268.50,219.60L269.56,221.06M268.50,219.60L267.44,221.06M268.50,219.60L266.79,219.04" stroke="#231f20" stroke-width="1.0" stroke-linecap="round" fill="none"/>
<text x="274.70" y="157.00" font-size="11.7" font-weight="bold">E</text>
<text x="321.50" y="154.90" font-size="7.6" text-anchor="middle" textLength="25.90" lengthAdjust="spacingAndGlyphs">MM.1S</text>
<line x1="287.10" y1="156.80" x2="359.70" y2="156.80" stroke="#333" stroke-width="1.3"/>
<text x="294.80" y="188.90" font-size="7.6" transform="rotate(-90 294.80 188.90)">Veh</text>
<text x="306.60" y="188.90" font-size="7.6" transform="rotate(-90 306.60 188.90)">Cfz</text>
<text x="319.40" y="188.90" font-size="7.6" transform="rotate(-90 319.40 188.90)">ATRA</text>
<text x="330.90" y="188.90" font-size="7.6" transform="rotate(-90 330.90 188.90)">A+C</text>
<text x="342.50" y="188.90" font-size="7.6" transform="rotate(-90 342.50 188.90)">BMS961</text>
<text x="355.60" y="188.90" font-size="7.6" transform="rotate(-90 355.60 188.90)">B+C</text>
<rect x="284.6" y="191.8" width="76.3" height="72.2" fill="#f4f4f4" stroke="#1a1a1a" stroke-width="1.3"/>
<defs><linearGradient id="bc" x1="0" y1="0" x2="0" y2="1"><stop offset="0" stop-color="#e8e8e8"/><stop offset="0.3" stop-color="#dadada"/><stop offset="0.4" stop-color="#b0b0b0"/><stop offset="0.52" stop-color="#8a8a8a"/><stop offset="0.62" stop-color="#c0c0c0"/><stop offset="0.75" stop-color="#e8e8e8"/><stop offset="0.92" stop-color="#e4e4e4"/><stop offset="0.96" stop-color="#bcbcbc"/><stop offset="1" stop-color="#e8e8e8"/></linearGradient></defs>
<rect x="285.40" y="192.6" width="11.40" height="70.8" fill="#fafafa"/>
<rect x="285.40" y="223.5" width="11.40" height="8" fill="#dcdcdc"/>
<rect x="285.40" y="221.4" width="11.40" height="1.5" fill="#8a8a8a"/>
<rect x="285.40" y="232.4" width="11.40" height="1.5" fill="#8a8a8a"/>
<rect x="297.80" y="192.6" width="11.40" height="70.8" fill="#fafafa"/>
<rect x="297.80" y="223.5" width="11.40" height="8" fill="#dcdcdc"/>
<rect x="297.80" y="221.4" width="11.40" height="1.5" fill="#8a8a8a"/>
<rect x="297.80" y="232.4" width="11.40" height="1.5" fill="#8a8a8a"/>
<rect x="310.00" y="192.6" width="11.90" height="70.8" fill="#fafafa"/>
<rect x="310.00" y="223.5" width="11.90" height="8" fill="#dcdcdc"/>
<rect x="310.00" y="221.4" width="11.90" height="1.5" fill="#8a8a8a"/>
<rect x="310.00" y="232.4" width="11.90" height="1.5" fill="#8a8a8a"/>
<rect x="323.00" y="192.6" width="12.00" height="70.8" fill="#fafafa"/>
<rect x="323.00" y="193" width="12.00" height="70" fill="#f2f2f2"/>
<rect x="323.00" y="214" width="12.00" height="36" fill="#e2e2e2"/>
<rect x="323.00" y="223.5" width="12.00" height="7" fill="#cacaca"/>
<rect x="323.00" y="202.20" width="12.00" height="1.0" fill="#e4e4e4"/>
<rect x="323.00" y="205.40" width="12.00" height="1.0" fill="#e6e6e6"/>
<rect x="323.00" y="208.10" width="12.00" height="1.0" fill="#e8e8e8"/>
<rect x="323.00" y="221.00" width="12.00" height="1.2" fill="#d0d0d0"/>
<rect x="323.00" y="230.20" width="12.00" height="1.7" fill="#959595"/>
<rect x="323.00" y="233.40" width="12.00" height="1.0" fill="#d4d4d4"/>
<rect x="323.00" y="237.20" width="12.00" height="1.3" fill="#c4c4c4"/>
<rect x="323.00" y="241.60" width="12.00" height="1.2" fill="#cccccc"/>
<rect x="323.00" y="245.80" width="12.00" height="1.1" fill="#d6d6d6"/>
<rect x="323.00" y="250" width="12.00" height="13" fill="#e8e8e8"/>
<rect x="335.70" y="192.6" width="11.90" height="70.8" fill="#fafafa"/>
<rect x="335.70" y="223.5" width="11.90" height="8" fill="#e8e8e8"/>
<rect x="335.70" y="221.4" width="11.90" height="1.5" fill="#8a8a8a"/>
<rect x="335.70" y="232.4" width="11.90" height="1.5" fill="#8a8a8a"/>
<rect x="348.40" y="192.6" width="11.80" height="70.8" fill="#fafafa"/>
<rect x="348.40" y="192.6" width="11.80" height="70.8" fill="url(#bc)"/>
<line x1="285.30" y1="263.50" x2="360.30" y2="263.50" stroke="#2e5a2e" stroke-width="0.8"/>
<text x="362.80" y="225.20" font-size="8.6" textLength="13.10" lengthAdjust="spacingAndGlyphs">28S</text>
<text x="362.80" y="236.60" font-size="8.6" textLength="12.60" lengthAdjust="spacingAndGlyphs">18S</text>
<text x="387.20" y="157.80" font-size="11.7" font-weight="bold">F</text>
<line x1="414.20" y1="163.10" x2="414.20" y2="254.00" stroke="#231f20" stroke-width="1.3"/>
<line x1="411.40" y1="163.70" x2="414.20" y2="163.70" stroke="#231f20" stroke-width="1.0"/>
<text x="408.40" y="166.90" font-size="8.4" text-anchor="end" textLength="7.75" lengthAdjust="spacingAndGlyphs">12</text>
<line x1="411.40" y1="186.25" x2="414.20" y2="186.25" stroke="#231f20" stroke-width="1.0"/>
<text x="408.40" y="189.45" font-size="8.4" text-anchor="end" textLength="4.35" lengthAdjust="spacingAndGlyphs">9</text>
<line x1="411.40" y1="208.80" x2="414.20" y2="208.80" stroke="#231f20" stroke-width="1.0"/>
<text x="408.40" y="212.00" font-size="8.4" text-anchor="end" textLength="4.35" lengthAdjust="spacingAndGlyphs">6</text>
<line x1="411.40" y1="231.35" x2="414.20" y2="231.35" stroke="#231f20" stroke-width="1.0"/>
<text x="408.40" y="234.55" font-size="8.4" text-anchor="end" textLength="4.35" lengthAdjust="spacingAndGlyphs">3</text>
<line x1="411.40" y1="253.90" x2="414.20" y2="253.90" stroke="#231f20" stroke-width="1.0"/>
<text x="408.40" y="257.10" font-size="8.4" text-anchor="end" textLength="4.35" lengthAdjust="spacingAndGlyphs">0</text>
<line x1="414.20" y1="254.00" x2="507.30" y2="254.00" stroke="#231f20" stroke-width="1.3"/>
<text x="399.60" y="230.10" font-size="8.2" textLength="43.00" lengthAdjust="spacingAndGlyphs" transform="rotate(-90 399.60 230.10)">RNA integrity</text>
<rect x="419.70" y="182.11" width="9.4" height="71.79" fill="#c8102e"/>
<line x1="424.40" y1="182.11" x2="424.40" y2="178.35" stroke="#231f20" stroke-width="0.9"/>
<line x1="422.60" y1="178.35" x2="426.20" y2="178.35" stroke="#231f20" stroke-width="0.9"/>
<line x1="424.40" y1="254.00" x2="424.40" y2="257.00" stroke="#231f20" stroke-width="0.9"/>
<text x="427.80" y="262.00" font-size="8.0" text-anchor="end" textLength="12.69" lengthAdjust="spacingAndGlyphs" transform="rotate(-45 427.80 262.00)">Veh</text>
<rect x="434.20" y="180.23" width="9.4" height="73.67" fill="#1c5799"/>
<line x1="438.90" y1="180.23" x2="438.90" y2="178.73" stroke="#231f20" stroke-width="0.9"/>
<line x1="437.10" y1="178.73" x2="440.70" y2="178.73" stroke="#231f20" stroke-width="0.9"/>
<line x1="438.90" y1="254.00" x2="438.90" y2="257.00" stroke="#231f20" stroke-width="0.9"/>
<text x="442.30" y="262.00" font-size="8.0" text-anchor="end" textLength="11.04" lengthAdjust="spacingAndGlyphs" transform="rotate(-45 442.30 262.00)">Cfz</text>
<rect x="448.70" y="180.99" width="9.4" height="72.91" fill="#41b649"/>
<line x1="453.40" y1="180.99" x2="453.40" y2="177.23" stroke="#231f20" stroke-width="0.9"/>
<line x1="451.60" y1="177.23" x2="455.20" y2="177.23" stroke="#231f20" stroke-width="0.9"/>
<line x1="453.40" y1="254.00" x2="453.40" y2="257.00" stroke="#231f20" stroke-width="0.9"/>
<text x="456.80" y="262.00" font-size="8.0" text-anchor="end" textLength="19.08" lengthAdjust="spacingAndGlyphs" transform="rotate(-45 456.80 262.00)">ATRA</text>
<rect x="463.20" y="218.19" width="9.4" height="35.71" fill="#5e2f82"/>
<line x1="467.90" y1="218.19" x2="467.90" y2="206.54" stroke="#231f20" stroke-width="0.9"/>
<line x1="466.10" y1="206.54" x2="469.70" y2="206.54" stroke="#231f20" stroke-width="0.9"/>
<line x1="467.90" y1="254.00" x2="467.90" y2="257.00" stroke="#231f20" stroke-width="0.9"/>
<text x="471.30" y="262.00" font-size="8.0" text-anchor="end" textLength="14.52" lengthAdjust="spacingAndGlyphs" transform="rotate(-45 471.30 262.00)">A+C</text>
<rect x="477.70" y="180.99" width="9.4" height="72.91" fill="#f7941e"/>
<line x1="482.40" y1="180.99" x2="482.40" y2="178.35" stroke="#231f20" stroke-width="0.9"/>
<line x1="480.60" y1="178.35" x2="484.20" y2="178.35" stroke="#231f20" stroke-width="0.9"/>
<line x1="482.40" y1="254.00" x2="482.40" y2="257.00" stroke="#231f20" stroke-width="0.9"/>
<text x="485.80" y="262.00" font-size="8.0" text-anchor="end" textLength="28.23" lengthAdjust="spacingAndGlyphs" transform="rotate(-45 485.80 262.00)">BMS961</text>
<rect x="492.20" y="223.83" width="9.4" height="30.07" fill="#03704f"/>
<line x1="496.90" y1="223.83" x2="496.90" y2="215.56" stroke="#231f20" stroke-width="0.9"/>
<line x1="495.10" y1="215.56" x2="498.70" y2="215.56" stroke="#231f20" stroke-width="0.9"/>
<line x1="496.90" y1="254.00" x2="496.90" y2="257.00" stroke="#231f20" stroke-width="0.9"/>
<text x="500.30" y="262.00" font-size="8.0" text-anchor="end" textLength="14.52" lengthAdjust="spacingAndGlyphs" transform="rotate(-45 500.30 262.00)">B+C</text>
<line x1="451.10" y1="169.10" x2="468.80" y2="169.10" stroke="#231f20" stroke-width="1.3"/>
<line x1="481.80" y1="169.30" x2="500.40" y2="169.30" stroke="#231f20" stroke-width="1.3"/>
<path d="M456.60,165.00L456.60,163.50M456.60,165.00L458.03,164.54M456.60,165.00L457.48,166.21M456.60,165.00L455.72,166.21M456.60,165.00L455.17,164.54" stroke="#231f20" stroke-width="1.25" stroke-linecap="round" fill="none"/>
<path d="M460.10,165.00L460.10,163.50M460.10,165.00L461.53,164.54M460.10,165.00L460.98,166.21M460.10,165.00L459.22,166.21M460.10,165.00L458.67,164.54" stroke="#231f20" stroke-width="1.25" stroke-linecap="round" fill="none"/>
<path d="M463.70,165.00L463.70,163.50M463.70,165.00L465.13,164.54M463.70,165.00L464.58,166.21M463.70,165.00L462.82,166.21M463.70,165.00L462.27,164.54" stroke="#231f20" stroke-width="1.25" stroke-linecap="round" fill="none"/>
<path d="M485.80,165.70L485.80,164.20M485.80,165.70L487.23,165.24M485.80,165.70L486.68,166.91M485.80,165.70L484.92,166.91M485.80,165.70L484.37,165.24" stroke="#231f20" stroke-width="1.25" stroke-linecap="round" fill="none"/>
<path d="M489.40,165.70L489.40,164.20M489.40,165.70L490.83,165.24M489.40,165.70L490.28,166.91M489.40,165.70L488.52,166.91M489.40,165.70L487.97,165.24" stroke="#231f20" stroke-width="1.25" stroke-linecap="round" fill="none"/>
<path d="M493.00,165.70L493.00,164.20M493.00,165.70L494.43,165.24M493.00,165.70L493.88,166.91M493.00,165.70L492.12,166.91M493.00,165.70L491.57,165.24" stroke="#231f20" stroke-width="1.25" stroke-linecap="round" fill="none"/>
<path d="M496.40,165.70L496.40,164.20M496.40,165.70L497.83,165.24M496.40,165.70L497.28,166.91M496.40,165.70L495.52,166.91M496.40,165.70L494.97,165.24" stroke="#231f20" stroke-width="1.25" stroke-linecap="round" fill="none"/>
<text x="8.20" y="288.60" font-size="11.7" font-weight="bold">G</text>
<line x1="36.90" y1="297.90" x2="36.90" y2="400.60" stroke="#231f20" stroke-width="1.3"/>
<line x1="34.00" y1="297.89" x2="36.90" y2="297.89" stroke="#231f20" stroke-width="1.0"/>
<text x="32.40" y="301.09" font-size="8.4" text-anchor="end" textLength="13.05" lengthAdjust="spacingAndGlyphs">270</text>
<line x1="34.00" y1="332.13" x2="36.90" y2="332.13" stroke="#231f20" stroke-width="1.0"/>
<text x="32.40" y="335.33" font-size="8.4" text-anchor="end" textLength="12.10" lengthAdjust="spacingAndGlyphs">180</text>
<line x1="34.00" y1="366.36" x2="36.90" y2="366.36" stroke="#231f20" stroke-width="1.0"/>
<text x="32.40" y="369.56" font-size="8.4" text-anchor="end" textLength="8.70" lengthAdjust="spacingAndGlyphs">90</text>
<line x1="34.00" y1="400.60" x2="36.90" y2="400.60" stroke="#231f20" stroke-width="1.0"/>
<text x="32.40" y="403.80" font-size="8.4" text-anchor="end" textLength="4.35" lengthAdjust="spacingAndGlyphs">0</text>
<line x1="34.00" y1="400.60" x2="166.00" y2="400.60" stroke="#231f20" stroke-width="1.3"/>
<line x1="47.20" y1="400.60" x2="47.20" y2="403.30" stroke="#231f20" stroke-width="1.0"/>
<text x="47.20" y="411.90" font-size="8.4" text-anchor="middle" textLength="7.75" lengthAdjust="spacingAndGlyphs">16</text>
<line x1="81.80" y1="400.60" x2="81.80" y2="403.30" stroke="#231f20" stroke-width="1.0"/>
<text x="81.80" y="411.90" font-size="8.4" text-anchor="middle" textLength="8.70" lengthAdjust="spacingAndGlyphs">23</text>
<line x1="116.40" y1="400.60" x2="116.40" y2="403.30" stroke="#231f20" stroke-width="1.0"/>
<text x="116.40" y="411.90" font-size="8.4" text-anchor="middle" textLength="8.70" lengthAdjust="spacingAndGlyphs">30</text>
<line x1="151.10" y1="400.60" x2="151.10" y2="403.30" stroke="#231f20" stroke-width="1.0"/>
<text x="151.10" y="411.90" font-size="8.4" text-anchor="middle" textLength="8.70" lengthAdjust="spacingAndGlyphs">37</text>
<text x="58.80" y="422.60" font-size="9.6" textLength="85.50" lengthAdjust="spacingAndGlyphs">Days after tumor injection</text>
<text x="15.40" y="377.90" font-size="9.6" textLength="61.40" lengthAdjust="spacingAndGlyphs" transform="rotate(-90 15.40 377.90)">Relative M protein</text>
<line x1="151.10" y1="380.06" x2="151.10" y2="375.11" stroke="#6d3f92" stroke-width="0.9"/>
<line x1="149.70" y1="375.11" x2="152.50" y2="375.11" stroke="#6d3f92" stroke-width="0.9"/>
<line x1="151.10" y1="346.58" x2="151.10" y2="334.79" stroke="#4db848" stroke-width="0.9"/>
<line x1="149.70" y1="334.79" x2="152.50" y2="334.79" stroke="#4db848" stroke-width="0.9"/>
<line x1="81.80" y1="392.23" x2="81.80" y2="388.05" stroke="#d92e4c" stroke-width="0.9"/>
<line x1="80.40" y1="388.05" x2="83.20" y2="388.05" stroke="#d92e4c" stroke-width="0.9"/>
<line x1="116.40" y1="374.73" x2="116.40" y2="366.36" stroke="#d92e4c" stroke-width="0.9"/>
<line x1="115.00" y1="366.36" x2="117.80" y2="366.36" stroke="#d92e4c" stroke-width="0.9"/>
<line x1="151.10" y1="323.38" x2="151.10" y2="303.60" stroke="#d92e4c" stroke-width="0.9"/>
<line x1="149.70" y1="303.60" x2="152.50" y2="303.60" stroke="#d92e4c" stroke-width="0.9"/>
<polyline points="47.20,399.27 81.80,397.18 116.40,389.19 151.10,380.06" fill="none" stroke="#6d3f92" stroke-width="1.2" stroke-linejoin="round" stroke-dasharray="1.8,1"/>
<polyline points="47.20,399.27 81.80,396.80 116.40,385.76 151.10,355.33" fill="none" stroke="#6d3f92" stroke-width="1.1" stroke-linejoin="round"/>
<polyline points="47.20,399.27 81.80,395.27 116.40,383.86 151.10,364.08" fill="none" stroke="#4db848" stroke-width="1.2" stroke-linejoin="round" stroke-dasharray="1.8,1"/>
<polyline points="47.20,399.27 81.80,394.13 116.40,381.20 151.10,346.58" fill="none" stroke="#4db848" stroke-width="1.1" stroke-linejoin="round"/>
<polyline points="47.20,399.27 81.80,392.61 116.40,376.25 151.10,334.03" fill="none" stroke="#2866a6" stroke-width="1.2" stroke-linejoin="round" stroke-dasharray="1.8,1"/>
<polyline points="47.20,399.27 81.80,392.23 116.40,374.73 151.10,323.38" fill="none" stroke="#d92e4c" stroke-width="1.2" stroke-linejoin="round" stroke-dasharray="1.8,1"/>
<polyline points="47.20,399.27 81.80,391.85 116.40,373.59 151.10,322.62" fill="none" stroke="#d92e4c" stroke-width="1.1" stroke-linejoin="round"/>
<polyline points="47.20,399.27 81.80,391.47 116.40,372.45 151.10,320.72" fill="none" stroke="#2866a6" stroke-width="1.1" stroke-linejoin="round"/>
<circle cx="47.20" cy="399.27" r="1.60" fill="#fff" stroke="#6d3f92" stroke-width="1"/>
<circle cx="81.80" cy="397.18" r="1.60" fill="#fff" stroke="#6d3f92" stroke-width="1"/>
<circle cx="116.40" cy="389.19" r="1.60" fill="#fff" stroke="#6d3f92" stroke-width="1"/>
<circle cx="151.10" cy="380.06" r="1.60" fill="#fff" stroke="#6d3f92" stroke-width="1"/>
<path d="M47.20,397.27 L49.20,399.27 L47.20,401.27 L45.20,399.27Z" fill="#fff" stroke="#6d3f92" stroke-width="1"/>
<path d="M81.80,394.80 L83.80,396.80 L81.80,398.80 L79.80,396.80Z" fill="#fff" stroke="#6d3f92" stroke-width="1"/>
<path d="M116.40,383.76 L118.40,385.76 L116.40,387.76 L114.40,385.76Z" fill="#fff" stroke="#6d3f92" stroke-width="1"/>
<path d="M151.10,353.33 L153.10,355.33 L151.10,357.33 L149.10,355.33Z" fill="#fff" stroke="#6d3f92" stroke-width="1"/>
<circle cx="47.20" cy="399.27" r="1.60" fill="#fff" stroke="#4db848" stroke-width="1"/>
<circle cx="81.80" cy="395.27" r="1.60" fill="#fff" stroke="#4db848" stroke-width="1"/>
<circle cx="116.40" cy="383.86" r="1.60" fill="#fff" stroke="#4db848" stroke-width="1"/>
<circle cx="151.10" cy="364.08" r="1.60" fill="#fff" stroke="#4db848" stroke-width="1"/>
<path d="M47.20,397.27 L49.20,399.27 L47.20,401.27 L45.20,399.27Z" fill="#fff" stroke="#4db848" stroke-width="1"/>
<path d="M81.80,392.13 L83.80,394.13 L81.80,396.13 L79.80,394.13Z" fill="#fff" stroke="#4db848" stroke-width="1"/>
<path d="M116.40,379.20 L118.40,381.20 L116.40,383.20 L114.40,381.20Z" fill="#fff" stroke="#4db848" stroke-width="1"/>
<path d="M151.10,344.58 L153.10,346.58 L151.10,348.58 L149.10,346.58Z" fill="#fff" stroke="#4db848" stroke-width="1"/>
<circle cx="47.20" cy="399.27" r="1.60" fill="#fff" stroke="#2866a6" stroke-width="1"/>
<circle cx="81.80" cy="392.61" r="1.60" fill="#fff" stroke="#2866a6" stroke-width="1"/>
<circle cx="116.40" cy="376.25" r="1.60" fill="#fff" stroke="#2866a6" stroke-width="1"/>
<circle cx="151.10" cy="334.03" r="1.60" fill="#fff" stroke="#2866a6" stroke-width="1"/>
<circle cx="47.20" cy="399.27" r="1.60" fill="#fff" stroke="#d92e4c" stroke-width="1"/>
<circle cx="81.80" cy="392.23" r="1.60" fill="#fff" stroke="#d92e4c" stroke-width="1"/>
<circle cx="116.40" cy="374.73" r="1.60" fill="#fff" stroke="#d92e4c" stroke-width="1"/>
<circle cx="151.10" cy="323.38" r="1.60" fill="#fff" stroke="#d92e4c" stroke-width="1"/>
<path d="M47.20,397.27 L49.20,399.27 L47.20,401.27 L45.20,399.27Z" fill="#fff" stroke="#d92e4c" stroke-width="1"/>
<path d="M81.80,389.85 L83.80,391.85 L81.80,393.85 L79.80,391.85Z" fill="#fff" stroke="#d92e4c" stroke-width="1"/>
<path d="M116.40,371.59 L118.40,373.59 L116.40,375.59 L114.40,373.59Z" fill="#fff" stroke="#d92e4c" stroke-width="1"/>
<path d="M151.10,320.62 L153.10,322.62 L151.10,324.62 L149.10,322.62Z" fill="#fff" stroke="#d92e4c" stroke-width="1"/>
<path d="M47.20,397.27 L49.20,399.27 L47.20,401.27 L45.20,399.27Z" fill="#fff" stroke="#2866a6" stroke-width="1"/>
<path d="M81.80,389.47 L83.80,391.47 L81.80,393.47 L79.80,391.47Z" fill="#fff" stroke="#2866a6" stroke-width="1"/>
<path d="M116.40,370.45 L118.40,372.45 L116.40,374.45 L114.40,372.45Z" fill="#fff" stroke="#2866a6" stroke-width="1"/>
<path d="M151.10,318.72 L153.10,320.72 L151.10,322.72 L149.10,320.72Z" fill="#fff" stroke="#2866a6" stroke-width="1"/>
<line x1="39.30" y1="288.60" x2="47.50" y2="288.60" stroke="#d92e4c" stroke-width="1.0" stroke-dasharray="1.8,1"/>
<circle cx="43.40" cy="288.60" r="1.50" fill="#fff" stroke="#d92e4c" stroke-width="1"/>
<text x="49.90" y="291.50" font-size="8.1" textLength="25.70" lengthAdjust="spacingAndGlyphs">CTR-KD</text>
<line x1="39.30" y1="298.10" x2="47.50" y2="298.10" stroke="#d92e4c" stroke-width="1.0"/>
<path d="M43.40,296.20 L45.30,298.10 L43.40,300.00 L41.50,298.10Z" fill="#fff" stroke="#d92e4c" stroke-width="1"/>
<text x="49.90" y="301.00" font-size="8.1" textLength="29.90" lengthAdjust="spacingAndGlyphs">RARγ-KD</text>
<line x1="39.30" y1="307.80" x2="47.50" y2="307.80" stroke="#2866a6" stroke-width="1.0" stroke-dasharray="1.8,1"/>
<circle cx="43.40" cy="307.80" r="1.50" fill="#fff" stroke="#2866a6" stroke-width="1"/>
<text x="49.90" y="310.70" font-size="8.1" textLength="25.70" lengthAdjust="spacingAndGlyphs">CTR-KD</text>
<line x1="39.30" y1="317.60" x2="47.50" y2="317.60" stroke="#2866a6" stroke-width="1.0"/>
<path d="M43.40,315.70 L45.30,317.60 L43.40,319.50 L41.50,317.60Z" fill="#fff" stroke="#2866a6" stroke-width="1"/>
<text x="49.90" y="320.50" font-size="8.1" textLength="29.90" lengthAdjust="spacingAndGlyphs">RARγ-KD</text>
<line x1="39.30" y1="326.90" x2="47.50" y2="326.90" stroke="#4db848" stroke-width="1.0" stroke-dasharray="1.8,1"/>
<circle cx="43.40" cy="326.90" r="1.50" fill="#fff" stroke="#4db848" stroke-width="1"/>
<text x="49.90" y="329.80" font-size="8.1" textLength="25.70" lengthAdjust="spacingAndGlyphs">CTR-KD</text>
<line x1="39.30" y1="336.70" x2="47.50" y2="336.70" stroke="#4db848" stroke-width="1.0"/>
<path d="M43.40,334.80 L45.30,336.70 L43.40,338.60 L41.50,336.70Z" fill="#fff" stroke="#4db848" stroke-width="1"/>
<text x="49.90" y="339.60" font-size="8.1" textLength="29.90" lengthAdjust="spacingAndGlyphs">RARγ-KD</text>
<line x1="39.30" y1="346.50" x2="47.50" y2="346.50" stroke="#6d3f92" stroke-width="1.0" stroke-dasharray="1.8,1"/>
<circle cx="43.40" cy="346.50" r="1.50" fill="#fff" stroke="#6d3f92" stroke-width="1"/>
<text x="49.90" y="349.40" font-size="8.1" textLength="25.70" lengthAdjust="spacingAndGlyphs">CTR-KD</text>
<line x1="39.30" y1="356.40" x2="47.50" y2="356.40" stroke="#6d3f92" stroke-width="1.0"/>
<path d="M43.40,354.50 L45.30,356.40 L43.40,358.30 L41.50,356.40Z" fill="#fff" stroke="#6d3f92" stroke-width="1"/>
<text x="49.90" y="359.30" font-size="8.1" textLength="29.90" lengthAdjust="spacingAndGlyphs">RARγ-KD</text>
<line x1="82.70" y1="286.50" x2="82.70" y2="301.20" stroke="#444" stroke-width="1.1"/>
<text x="86.00" y="296.75" font-size="8.1" textLength="12.57" lengthAdjust="spacingAndGlyphs">Veh</text>
<line x1="82.70" y1="306.00" x2="82.70" y2="320.00" stroke="#444" stroke-width="1.1"/>
<text x="86.00" y="315.90" font-size="8.1" textLength="18.90" lengthAdjust="spacingAndGlyphs">ATRA</text>
<line x1="82.70" y1="324.80" x2="82.70" y2="338.80" stroke="#444" stroke-width="1.1"/>
<text x="86.00" y="334.70" font-size="8.1" textLength="10.93" lengthAdjust="spacingAndGlyphs">Cfz</text>
<line x1="82.70" y1="344.00" x2="82.70" y2="358.30" stroke="#444" stroke-width="1.1"/>
<text x="86.00" y="354.05" font-size="8.1" textLength="34.09" lengthAdjust="spacingAndGlyphs">ATRA+Cfz</text>
<line x1="155.50" y1="347.30" x2="155.50" y2="359.30" stroke="#231f20" stroke-width="1.1"/>
<line x1="155.50" y1="364.00" x2="155.50" y2="378.00" stroke="#231f20" stroke-width="1.1"/>
<line x1="165.50" y1="356.20" x2="165.50" y2="377.20" stroke="#231f20" stroke-width="1.1"/>
<path d="M159.30,354.20L159.30,352.40M159.30,354.20L161.01,353.64M159.30,354.20L160.36,355.66M159.30,354.20L158.24,355.66M159.30,354.20L157.59,353.64" stroke="#231f20" stroke-width="1.0" stroke-linecap="round" fill="none"/>
<path d="M159.30,366.20L159.30,364.40M159.30,366.20L161.01,365.64M159.30,366.20L160.36,367.66M159.30,366.20L158.24,367.66M159.30,366.20L157.59,365.64" stroke="#231f20" stroke-width="1.0" stroke-linecap="round" fill="none"/>
<path d="M159.30,373.00L159.30,371.20M159.30,373.00L161.01,372.44M159.30,373.00L160.36,374.46M159.30,373.00L158.24,374.46M159.30,373.00L157.59,372.44" stroke="#231f20" stroke-width="1.0" stroke-linecap="round" fill="none"/>
<path d="M169.30,364.00L169.30,362.20M169.30,364.00L171.01,363.44M169.30,364.00L170.36,365.46M169.30,364.00L168.24,365.46M169.30,364.00L167.59,363.44" stroke="#231f20" stroke-width="1.0" stroke-linecap="round" fill="none"/>
<path d="M169.30,369.80L169.30,368.00M169.30,369.80L171.01,369.24M169.30,369.80L170.36,371.26M169.30,369.80L168.24,371.26M169.30,369.80L167.59,369.24" stroke="#231f20" stroke-width="1.0" stroke-linecap="round" fill="none"/>
<text x="220.20" y="288.60" font-size="11.7" font-weight="bold">H</text>
<line x1="249.90" y1="299.80" x2="249.90" y2="368.80" stroke="#231f20" stroke-width="1.3"/>
<line x1="247.20" y1="306.30" x2="249.90" y2="306.30" stroke="#231f20" stroke-width="1.0"/>
<text x="244.40" y="309.50" font-size="8.4" text-anchor="end" textLength="12.10" lengthAdjust="spacingAndGlyphs">100</text>
<line x1="247.20" y1="337.55" x2="249.90" y2="337.55" stroke="#231f20" stroke-width="1.0"/>
<text x="244.40" y="340.75" font-size="8.4" text-anchor="end" textLength="8.70" lengthAdjust="spacingAndGlyphs">50</text>
<line x1="247.20" y1="368.80" x2="249.90" y2="368.80" stroke="#231f20" stroke-width="1.0"/>
<text x="244.40" y="372.00" font-size="8.4" text-anchor="end" textLength="4.35" lengthAdjust="spacingAndGlyphs">0</text>
<line x1="249.90" y1="368.80" x2="342.90" y2="368.80" stroke="#231f20" stroke-width="1.3"/>
<line x1="249.90" y1="368.80" x2="249.90" y2="371.50" stroke="#231f20" stroke-width="1.0"/>
<text x="249.90" y="382.50" font-size="8.4" text-anchor="middle" textLength="4.35" lengthAdjust="spacingAndGlyphs">0</text>
<line x1="278.50" y1="368.80" x2="278.50" y2="371.50" stroke="#231f20" stroke-width="1.0"/>
<text x="278.50" y="382.50" font-size="8.4" text-anchor="middle" textLength="8.70" lengthAdjust="spacingAndGlyphs">20</text>
<line x1="307.10" y1="368.80" x2="307.10" y2="371.50" stroke="#231f20" stroke-width="1.0"/>
<text x="307.10" y="382.50" font-size="8.4" text-anchor="middle" textLength="8.70" lengthAdjust="spacingAndGlyphs">40</text>
<line x1="335.70" y1="368.80" x2="335.70" y2="371.50" stroke="#231f20" stroke-width="1.0"/>
<text x="335.70" y="382.50" font-size="8.4" text-anchor="middle" textLength="8.70" lengthAdjust="spacingAndGlyphs">60</text>
<text x="253.70" y="392.20" font-size="9.6" textLength="85.50" lengthAdjust="spacingAndGlyphs">Days after tumor injection</text>
<text x="225.40" y="360.40" font-size="9.6" textLength="53.20" lengthAdjust="spacingAndGlyphs" transform="rotate(-90 225.40 360.40)">Percent survival</text>
<polyline points="249.50,306.50 303.50,306.50 303.50,318.50 304.50,318.50 304.50,326.50 310.50,326.50 310.50,337.50 314.50,337.50 314.50,348.50 320.50,348.50 320.50,358.50 324.50,358.50 324.50,368.50" fill="none" stroke="#6d3f92" stroke-width="1.0" stroke-linejoin="round"/>
<polyline points="249.50,306.50 302.50,306.50 302.50,318.50 328.50,318.50 328.50,331.50 335.50,331.50 335.50,331.50" fill="none" stroke="#6d3f92" stroke-width="1.0" stroke-linejoin="round" stroke-dasharray="1.8,1"/>
<polyline points="249.50,306.50 300.50,306.50 300.50,318.50 315.50,318.50 315.50,331.50 321.50,331.50 321.50,343.50 324.50,343.50 324.50,356.50 328.50,356.50 328.50,368.50" fill="none" stroke="#4db848" stroke-width="1.0" stroke-linejoin="round" stroke-dasharray="1.8,1"/>
<polyline points="249.50,306.50 292.50,306.50 292.50,318.50 302.50,318.50 302.50,331.50 304.50,331.50 304.50,343.50 308.50,343.50 308.50,356.50 314.50,356.50 314.50,368.50" fill="none" stroke="#4db848" stroke-width="1.0" stroke-linejoin="round"/>
<polyline points="249.50,306.50 288.50,306.50 288.50,318.50 302.50,318.50 302.50,331.50 305.50,331.50 305.50,343.50 309.50,343.50 309.50,356.50 315.50,356.50 315.50,368.50" fill="none" stroke="#2866a6" stroke-width="1.0" stroke-linejoin="round"/>
<polyline points="249.50,306.50 281.50,306.50 281.50,318.50 302.50,318.50 302.50,331.50 304.50,331.50 304.50,343.50 307.50,343.50 307.50,356.50 314.50,356.50 314.50,368.50" fill="none" stroke="#2866a6" stroke-width="1.0" stroke-linejoin="round" stroke-dasharray="1.8,1"/>
<polyline points="249.50,306.50 288.50,306.50 288.50,318.50 302.50,318.50 302.50,331.50 304.50,331.50 304.50,343.50 308.50,343.50 308.50,356.50 315.50,356.50 315.50,368.50" fill="none" stroke="#d92e4c" stroke-width="1.0" stroke-linejoin="round" stroke-dasharray="1.8,1"/>
<polyline points="249.50,306.50 289.50,306.50 289.50,318.50 302.50,318.50 302.50,331.50 309.50,331.50 309.50,343.50 310.50,343.50 310.50,356.50 315.50,356.50 315.50,368.50" fill="none" stroke="#d92e4c" stroke-width="1.0" stroke-linejoin="round"/>
<circle cx="335.56" cy="331.30" r="1.60" fill="#fff" stroke="#6d3f92" stroke-width="1"/>
<line x1="336.50" y1="338.30" x2="336.50" y2="359.40" stroke="#231f20" stroke-width="1.1"/>
<path d="M341.20,348.80L341.20,347.30M341.20,348.80L342.63,348.34M341.20,348.80L342.08,350.01M341.20,348.80L340.32,350.01M341.20,348.80L339.77,348.34" stroke="#231f20" stroke-width="1.0" stroke-linecap="round" fill="none"/>
<line x1="356.00" y1="302.30" x2="364.90" y2="302.30" stroke="#d92e4c" stroke-width="1.0" stroke-dasharray="1.8,1"/>
<circle cx="360.70" cy="302.30" r="1.50" fill="#fff" stroke="#d92e4c" stroke-width="1"/>
<text x="368.40" y="305.20" font-size="8.1" textLength="26.40" lengthAdjust="spacingAndGlyphs">CTR-KD</text>
<line x1="356.00" y1="312.40" x2="364.90" y2="312.40" stroke="#d92e4c" stroke-width="1.0"/>
<path d="M360.70,310.50 L362.60,312.40 L360.70,314.30 L358.80,312.40Z" fill="#fff" stroke="#d92e4c" stroke-width="1"/>
<text x="368.40" y="315.30" font-size="8.1" textLength="29.30" lengthAdjust="spacingAndGlyphs">RARγ-KD</text>
<line x1="356.00" y1="322.40" x2="364.90" y2="322.40" stroke="#2866a6" stroke-width="1.0" stroke-dasharray="1.8,1"/>
<circle cx="360.70" cy="322.40" r="1.50" fill="#fff" stroke="#2866a6" stroke-width="1"/>
<text x="368.40" y="325.30" font-size="8.1" textLength="26.40" lengthAdjust="spacingAndGlyphs">CTR-KD</text>
<line x1="356.00" y1="332.20" x2="364.90" y2="332.20" stroke="#2866a6" stroke-width="1.0"/>
<path d="M360.70,330.30 L362.60,332.20 L360.70,334.10 L358.80,332.20Z" fill="#fff" stroke="#2866a6" stroke-width="1"/>
<text x="368.40" y="335.10" font-size="8.1" textLength="29.30" lengthAdjust="spacingAndGlyphs">RARγ-KD</text>
<line x1="356.00" y1="341.60" x2="364.90" y2="341.60" stroke="#4db848" stroke-width="1.0" stroke-dasharray="1.8,1"/>
<circle cx="360.70" cy="341.60" r="1.50" fill="#fff" stroke="#4db848" stroke-width="1"/>
<text x="368.40" y="344.50" font-size="8.1" textLength="26.40" lengthAdjust="spacingAndGlyphs">CTR-KD</text>
<line x1="356.00" y1="351.60" x2="364.90" y2="351.60" stroke="#4db848" stroke-width="1.0"/>
<path d="M360.70,349.70 L362.60,351.60 L360.70,353.50 L358.80,351.60Z" fill="#fff" stroke="#4db848" stroke-width="1"/>
<text x="368.40" y="354.50" font-size="8.1" textLength="29.30" lengthAdjust="spacingAndGlyphs">RARγ-KD</text>
<line x1="356.00" y1="361.30" x2="364.90" y2="361.30" stroke="#6d3f92" stroke-width="1.0" stroke-dasharray="1.8,1"/>
<circle cx="360.70" cy="361.30" r="1.50" fill="#fff" stroke="#6d3f92" stroke-width="1"/>
<text x="368.40" y="364.20" font-size="8.1" textLength="26.40" lengthAdjust="spacingAndGlyphs">CTR-KD</text>
<line x1="356.00" y1="371.30" x2="364.90" y2="371.30" stroke="#6d3f92" stroke-width="1.0"/>
<path d="M360.70,369.40 L362.60,371.30 L360.70,373.20 L358.80,371.30Z" fill="#fff" stroke="#6d3f92" stroke-width="1"/>
<text x="368.40" y="374.20" font-size="8.1" textLength="29.30" lengthAdjust="spacingAndGlyphs">RARγ-KD</text>
<line x1="401.40" y1="300.70" x2="401.40" y2="317.20" stroke="#444" stroke-width="1.1"/>
<text x="404.70" y="311.85" font-size="8.1" textLength="12.57" lengthAdjust="spacingAndGlyphs">Veh</text>
<line x1="401.40" y1="320.40" x2="401.40" y2="335.00" stroke="#444" stroke-width="1.1"/>
<text x="404.70" y="330.60" font-size="8.1" textLength="18.90" lengthAdjust="spacingAndGlyphs">ATRA</text>
<line x1="401.40" y1="338.20" x2="401.40" y2="352.80" stroke="#444" stroke-width="1.1"/>
<text x="404.70" y="348.40" font-size="8.1" textLength="10.93" lengthAdjust="spacingAndGlyphs">Cfz</text>
<line x1="401.40" y1="358.70" x2="401.40" y2="372.50" stroke="#444" stroke-width="1.1"/>
<text x="404.70" y="368.50" font-size="8.1" textLength="34.09" lengthAdjust="spacingAndGlyphs">ATRA+Cfz</text>
<rect x="0.5" y="0.5" width="518.8" height="428.8" fill="none" stroke="#000" stroke-width="1.2"/>
</svg>
</body></html>
